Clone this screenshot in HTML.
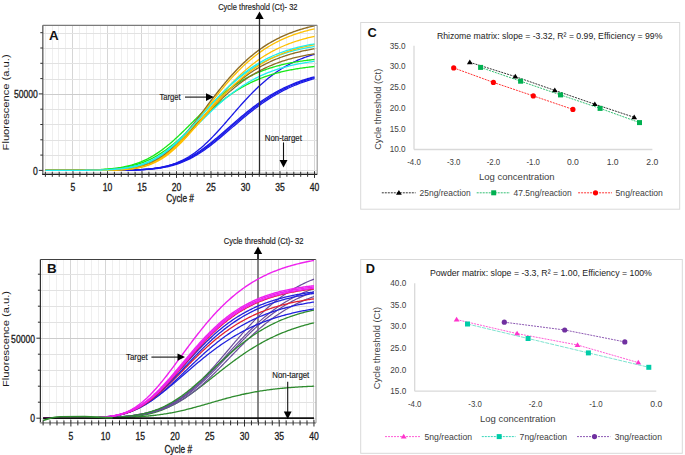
<!DOCTYPE html>
<html><head><meta charset="utf-8"><style>
html,body{margin:0;padding:0;background:#fff;width:685px;height:455px;overflow:hidden}
svg{display:block}
</style></head><body>
<svg width="685" height="455" viewBox="0 0 685 455">
<rect width="685" height="455" fill="#fff"/>
<line x1="45.50" y1="25.30" x2="45.50" y2="172.90" stroke="#EFEFEF" stroke-width="1.00" />
<line x1="52.50" y1="25.30" x2="52.50" y2="172.90" stroke="#EFEFEF" stroke-width="1.00" />
<line x1="58.50" y1="25.30" x2="58.50" y2="172.90" stroke="#EFEFEF" stroke-width="1.00" />
<line x1="65.50" y1="25.30" x2="65.50" y2="172.90" stroke="#EFEFEF" stroke-width="1.00" />
<line x1="72.50" y1="25.30" x2="72.50" y2="172.90" stroke="#D6D6D6" stroke-width="1.00" />
<line x1="79.50" y1="25.30" x2="79.50" y2="172.90" stroke="#EFEFEF" stroke-width="1.00" />
<line x1="86.50" y1="25.30" x2="86.50" y2="172.90" stroke="#EFEFEF" stroke-width="1.00" />
<line x1="93.50" y1="25.30" x2="93.50" y2="172.90" stroke="#EFEFEF" stroke-width="1.00" />
<line x1="100.50" y1="25.30" x2="100.50" y2="172.90" stroke="#EFEFEF" stroke-width="1.00" />
<line x1="107.50" y1="25.30" x2="107.50" y2="172.90" stroke="#D6D6D6" stroke-width="1.00" />
<line x1="114.50" y1="25.30" x2="114.50" y2="172.90" stroke="#EFEFEF" stroke-width="1.00" />
<line x1="121.50" y1="25.30" x2="121.50" y2="172.90" stroke="#EFEFEF" stroke-width="1.00" />
<line x1="127.50" y1="25.30" x2="127.50" y2="172.90" stroke="#EFEFEF" stroke-width="1.00" />
<line x1="134.50" y1="25.30" x2="134.50" y2="172.90" stroke="#EFEFEF" stroke-width="1.00" />
<line x1="141.50" y1="25.30" x2="141.50" y2="172.90" stroke="#D6D6D6" stroke-width="1.00" />
<line x1="148.50" y1="25.30" x2="148.50" y2="172.90" stroke="#EFEFEF" stroke-width="1.00" />
<line x1="155.50" y1="25.30" x2="155.50" y2="172.90" stroke="#EFEFEF" stroke-width="1.00" />
<line x1="162.50" y1="25.30" x2="162.50" y2="172.90" stroke="#EFEFEF" stroke-width="1.00" />
<line x1="169.50" y1="25.30" x2="169.50" y2="172.90" stroke="#EFEFEF" stroke-width="1.00" />
<line x1="176.50" y1="25.30" x2="176.50" y2="172.90" stroke="#D6D6D6" stroke-width="1.00" />
<line x1="183.50" y1="25.30" x2="183.50" y2="172.90" stroke="#EFEFEF" stroke-width="1.00" />
<line x1="190.50" y1="25.30" x2="190.50" y2="172.90" stroke="#EFEFEF" stroke-width="1.00" />
<line x1="196.50" y1="25.30" x2="196.50" y2="172.90" stroke="#EFEFEF" stroke-width="1.00" />
<line x1="203.50" y1="25.30" x2="203.50" y2="172.90" stroke="#EFEFEF" stroke-width="1.00" />
<line x1="210.50" y1="25.30" x2="210.50" y2="172.90" stroke="#D6D6D6" stroke-width="1.00" />
<line x1="217.50" y1="25.30" x2="217.50" y2="172.90" stroke="#EFEFEF" stroke-width="1.00" />
<line x1="224.50" y1="25.30" x2="224.50" y2="172.90" stroke="#EFEFEF" stroke-width="1.00" />
<line x1="231.50" y1="25.30" x2="231.50" y2="172.90" stroke="#EFEFEF" stroke-width="1.00" />
<line x1="238.50" y1="25.30" x2="238.50" y2="172.90" stroke="#EFEFEF" stroke-width="1.00" />
<line x1="245.50" y1="25.30" x2="245.50" y2="172.90" stroke="#D6D6D6" stroke-width="1.00" />
<line x1="252.50" y1="25.30" x2="252.50" y2="172.90" stroke="#EFEFEF" stroke-width="1.00" />
<line x1="259.50" y1="25.30" x2="259.50" y2="172.90" stroke="#EFEFEF" stroke-width="1.00" />
<line x1="265.50" y1="25.30" x2="265.50" y2="172.90" stroke="#EFEFEF" stroke-width="1.00" />
<line x1="272.50" y1="25.30" x2="272.50" y2="172.90" stroke="#EFEFEF" stroke-width="1.00" />
<line x1="279.50" y1="25.30" x2="279.50" y2="172.90" stroke="#D6D6D6" stroke-width="1.00" />
<line x1="286.50" y1="25.30" x2="286.50" y2="172.90" stroke="#EFEFEF" stroke-width="1.00" />
<line x1="293.50" y1="25.30" x2="293.50" y2="172.90" stroke="#EFEFEF" stroke-width="1.00" />
<line x1="300.50" y1="25.30" x2="300.50" y2="172.90" stroke="#EFEFEF" stroke-width="1.00" />
<line x1="307.50" y1="25.30" x2="307.50" y2="172.90" stroke="#EFEFEF" stroke-width="1.00" />
<line x1="314.50" y1="25.30" x2="314.50" y2="172.90" stroke="#D6D6D6" stroke-width="1.00" />
<line x1="42.80" y1="170.50" x2="317.20" y2="170.50" stroke="#E2E2E2" stroke-width="1.00" />
<line x1="42.80" y1="155.50" x2="317.20" y2="155.50" stroke="#E2E2E2" stroke-width="1.00" />
<line x1="42.80" y1="140.50" x2="317.20" y2="140.50" stroke="#E2E2E2" stroke-width="1.00" />
<line x1="42.80" y1="124.50" x2="317.20" y2="124.50" stroke="#E2E2E2" stroke-width="1.00" />
<line x1="42.80" y1="109.50" x2="317.20" y2="109.50" stroke="#E2E2E2" stroke-width="1.00" />
<line x1="42.80" y1="94.50" x2="317.20" y2="94.50" stroke="#CCCCCC" stroke-width="1.00" />
<line x1="42.80" y1="79.50" x2="317.20" y2="79.50" stroke="#E2E2E2" stroke-width="1.00" />
<line x1="42.80" y1="63.50" x2="317.20" y2="63.50" stroke="#E2E2E2" stroke-width="1.00" />
<line x1="42.80" y1="48.50" x2="317.20" y2="48.50" stroke="#E2E2E2" stroke-width="1.00" />
<line x1="42.80" y1="33.50" x2="317.20" y2="33.50" stroke="#E2E2E2" stroke-width="1.00" />
<path d="M45.40 170.40L46.55 170.40L47.70 170.40L48.85 170.40L50.00 170.40L51.15 170.40L52.30 170.40L53.45 170.40L54.60 170.40L55.75 170.40L56.90 170.40L58.05 170.40L59.20 170.40L60.35 170.40L61.50 170.40L62.65 170.40L63.80 170.40L64.95 170.40L66.10 170.40L67.25 170.40L68.40 170.40L69.55 170.40L70.70 170.40L71.85 170.40L73.00 170.40L74.15 170.40L75.30 170.40L76.45 170.40L77.60 170.40L78.75 170.40L79.90 170.40L81.05 170.40L82.20 170.40L83.35 170.40L84.50 170.40L85.65 170.40L86.80 170.39L87.95 170.39L89.10 170.39L90.25 170.39L91.40 170.39L92.55 170.39L93.70 170.39L94.85 170.39L96.00 170.39L97.15 170.39L98.30 170.38L99.45 170.38L100.60 170.38L101.75 170.38L102.90 170.37L104.05 170.37L105.20 170.37L106.35 170.36L107.50 170.36L108.65 170.36L109.80 170.35L110.95 170.35L112.10 170.34L113.25 170.33L114.40 170.32L115.55 170.32L116.70 170.31L117.85 170.30L119.00 170.29L120.15 170.28L121.30 170.26L122.45 170.25L123.60 170.23L124.75 170.21L125.90 170.20L127.05 170.17L128.20 170.15L129.35 170.13L130.50 170.10L131.65 170.07L132.80 170.04L133.95 170.00L135.10 169.97L136.25 169.93L137.40 169.88L138.55 169.83L139.70 169.78L140.85 169.72L142.00 169.66L143.15 169.60L144.30 169.52L145.45 169.45L146.60 169.36L147.75 169.28L148.90 169.18L150.05 169.08L151.20 168.97L152.35 168.85L153.50 168.72L154.65 168.59L155.80 168.44L156.95 168.29L158.10 168.13L159.25 167.95L160.40 167.77L161.55 167.57L162.70 167.36L163.85 167.14L165.00 166.91L166.15 166.66L167.30 166.40L168.45 166.13L169.60 165.84L170.75 165.54L171.90 165.22L173.05 164.88L174.20 164.53L175.35 164.16L176.50 163.78L177.65 163.37L178.80 162.95L179.95 162.52L181.10 162.06L182.25 161.59L183.40 161.09L184.55 160.58L185.70 160.05L186.85 159.50L188.00 158.93L189.15 158.35L190.30 157.74L191.45 157.12L192.60 156.47L193.75 155.81L194.90 155.13L196.05 154.43L197.20 153.71L198.35 152.98L199.50 152.23L200.65 151.46L201.80 150.67L202.95 149.87L204.10 149.06L205.25 148.22L206.40 147.38L207.55 146.52L208.70 145.64L209.85 144.75L211.00 143.85L212.15 142.94L213.30 142.02L214.45 141.09L215.60 140.15L216.75 139.19L217.90 138.23L219.05 137.27L220.20 136.29L221.35 135.31L222.50 134.33L223.65 133.34L224.80 132.35L225.95 131.35L227.10 130.35L228.25 129.35L229.40 128.35L230.55 127.35L231.70 126.35L232.85 125.35L234.00 124.35L235.15 123.36L236.30 122.36L237.45 121.38L238.60 120.39L239.75 119.41L240.90 118.44L242.05 117.47L243.20 116.51L244.35 115.55L245.50 114.60L246.65 113.66L247.80 112.73L248.95 111.81L250.10 110.89L251.25 109.99L252.40 109.09L253.55 108.21L254.70 107.33L255.85 106.47L257.00 105.61L258.15 104.77L259.30 103.94L260.45 103.12L261.60 102.31L262.75 101.51L263.90 100.73L265.05 99.95L266.20 99.19L267.35 98.44L268.50 97.70L269.65 96.98L270.80 96.27L271.95 95.57L273.10 94.88L274.25 94.20L275.40 93.54L276.55 92.88L277.70 92.24L278.85 91.62L280.00 91.00L281.15 90.40L282.30 89.80L283.45 89.22L284.60 88.65L285.75 88.10L286.90 87.55L288.05 87.02L289.20 86.49L290.35 85.98L291.50 85.48L292.65 84.99L293.80 84.51L294.95 84.04L296.10 83.58L297.25 83.13L298.40 82.70L299.55 82.27L300.70 81.85L301.85 81.44L303.00 81.04L304.15 80.65L305.30 80.27L306.45 79.90L307.60 79.53L308.75 79.18L309.90 78.83L311.05 78.49L312.20 78.16L313.35 77.84L314.50 77.53" fill="none" stroke="#1A1AE6" stroke-width="1.30" stroke-linejoin="round"/>
<path d="M45.40 170.40L46.55 170.40L47.70 170.40L48.85 170.40L50.00 170.40L51.15 170.40L52.30 170.40L53.45 170.40L54.60 170.40L55.75 170.40L56.90 170.40L58.05 170.40L59.20 170.40L60.35 170.40L61.50 170.40L62.65 170.40L63.80 170.40L64.95 170.40L66.10 170.40L67.25 170.40L68.40 170.40L69.55 170.40L70.70 170.40L71.85 170.40L73.00 170.40L74.15 170.40L75.30 170.40L76.45 170.40L77.60 170.40L78.75 170.40L79.90 170.40L81.05 170.40L82.20 170.40L83.35 170.40L84.50 170.40L85.65 170.40L86.80 170.40L87.95 170.39L89.10 170.39L90.25 170.39L91.40 170.39L92.55 170.39L93.70 170.39L94.85 170.39L96.00 170.39L97.15 170.39L98.30 170.39L99.45 170.38L100.60 170.38L101.75 170.38L102.90 170.38L104.05 170.37L105.20 170.37L106.35 170.37L107.50 170.37L108.65 170.36L109.80 170.36L110.95 170.35L112.10 170.35L113.25 170.34L114.40 170.33L115.55 170.33L116.70 170.32L117.85 170.31L119.00 170.30L120.15 170.29L121.30 170.28L122.45 170.27L123.60 170.25L124.75 170.24L125.90 170.22L127.05 170.20L128.20 170.18L129.35 170.16L130.50 170.13L131.65 170.11L132.80 170.08L133.95 170.05L135.10 170.01L136.25 169.98L137.40 169.94L138.55 169.89L139.70 169.85L140.85 169.80L142.00 169.74L143.15 169.68L144.30 169.62L145.45 169.55L146.60 169.47L147.75 169.39L148.90 169.30L150.05 169.21L151.20 169.11L152.35 169.00L153.50 168.88L154.65 168.76L155.80 168.63L156.95 168.49L158.10 168.34L159.25 168.18L160.40 168.01L161.55 167.83L162.70 167.63L163.85 167.43L165.00 167.21L166.15 166.98L167.30 166.74L168.45 166.49L169.60 166.22L170.75 165.93L171.90 165.63L173.05 165.32L174.20 164.99L175.35 164.64L176.50 164.28L177.65 163.90L178.80 163.51L179.95 163.09L181.10 162.66L182.25 162.21L183.40 161.75L184.55 161.26L185.70 160.76L186.85 160.23L188.00 159.69L189.15 159.13L190.30 158.55L191.45 157.96L192.60 157.34L193.75 156.71L194.90 156.05L196.05 155.38L197.20 154.69L198.35 153.98L199.50 153.26L200.65 152.51L201.80 151.76L202.95 150.98L204.10 150.19L205.25 149.38L206.40 148.56L207.55 147.72L208.70 146.87L209.85 146.00L211.00 145.12L212.15 144.23L213.30 143.33L214.45 142.42L215.60 141.49L216.75 140.56L217.90 139.62L219.05 138.67L220.20 137.71L221.35 136.74L222.50 135.77L223.65 134.80L224.80 133.82L225.95 132.83L227.10 131.84L228.25 130.85L229.40 129.86L230.55 128.87L231.70 127.87L232.85 126.88L234.00 125.89L235.15 124.90L236.30 123.91L237.45 122.92L238.60 121.94L239.75 120.96L240.90 119.99L242.05 119.02L243.20 118.06L244.35 117.10L245.50 116.15L246.65 115.21L247.80 114.28L248.95 113.35L250.10 112.43L251.25 111.52L252.40 110.62L253.55 109.73L254.70 108.85L255.85 107.98L257.00 107.12L258.15 106.27L259.30 105.43L260.45 104.60L261.60 103.79L262.75 102.98L263.90 102.19L265.05 101.40L266.20 100.63L267.35 99.88L268.50 99.13L269.65 98.40L270.80 97.67L271.95 96.96L273.10 96.26L274.25 95.58L275.40 94.90L276.55 94.24L277.70 93.59L278.85 92.96L280.00 92.33L281.15 91.72L282.30 91.11L283.45 90.52L284.60 89.95L285.75 89.38L286.90 88.82L288.05 88.28L289.20 87.75L290.35 87.23L291.50 86.72L292.65 86.22L293.80 85.73L294.95 85.25L296.10 84.78L297.25 84.32L298.40 83.88L299.55 83.44L300.70 83.01L301.85 82.59L303.00 82.19L304.15 81.79L305.30 81.40L306.45 81.02L307.60 80.65L308.75 80.29L309.90 79.93L311.05 79.59L312.20 79.25L313.35 78.92L314.50 78.60" fill="none" stroke="#1A1AE6" stroke-width="1.30" stroke-linejoin="round"/>
<path d="M45.40 170.40L46.55 170.40L47.70 170.40L48.85 170.40L50.00 170.40L51.15 170.40L52.30 170.40L53.45 170.40L54.60 170.40L55.75 170.40L56.90 170.40L58.05 170.40L59.20 170.40L60.35 170.40L61.50 170.40L62.65 170.40L63.80 170.40L64.95 170.40L66.10 170.40L67.25 170.40L68.40 170.40L69.55 170.40L70.70 170.40L71.85 170.40L73.00 170.40L74.15 170.40L75.30 170.40L76.45 170.40L77.60 170.40L78.75 170.40L79.90 170.40L81.05 170.40L82.20 170.40L83.35 170.40L84.50 170.40L85.65 170.39L86.80 170.39L87.95 170.39L89.10 170.39L90.25 170.39L91.40 170.39L92.55 170.39L93.70 170.39L94.85 170.39L96.00 170.38L97.15 170.38L98.30 170.38L99.45 170.38L100.60 170.38L101.75 170.37L102.90 170.37L104.05 170.37L105.20 170.36L106.35 170.36L107.50 170.35L108.65 170.35L109.80 170.34L110.95 170.34L112.10 170.33L113.25 170.32L114.40 170.31L115.55 170.31L116.70 170.30L117.85 170.28L119.00 170.27L120.15 170.26L121.30 170.24L122.45 170.23L123.60 170.21L124.75 170.19L125.90 170.17L127.05 170.15L128.20 170.12L129.35 170.09L130.50 170.06L131.65 170.03L132.80 170.00L133.95 169.96L135.10 169.91L136.25 169.87L137.40 169.82L138.55 169.77L139.70 169.71L140.85 169.65L142.00 169.58L143.15 169.51L144.30 169.43L145.45 169.34L146.60 169.25L147.75 169.15L148.90 169.05L150.05 168.94L151.20 168.82L152.35 168.69L153.50 168.55L154.65 168.41L155.80 168.25L156.95 168.08L158.10 167.91L159.25 167.72L160.40 167.52L161.55 167.31L162.70 167.08L163.85 166.85L165.00 166.60L166.15 166.33L167.30 166.05L168.45 165.76L169.60 165.45L170.75 165.13L171.90 164.79L173.05 164.43L174.20 164.06L175.35 163.67L176.50 163.26L177.65 162.84L178.80 162.39L179.95 161.93L181.10 161.45L182.25 160.95L183.40 160.43L184.55 159.90L185.70 159.34L186.85 158.77L188.00 158.17L189.15 157.56L190.30 156.93L191.45 156.28L192.60 155.61L193.75 154.93L194.90 154.22L196.05 153.50L197.20 152.76L198.35 152.00L199.50 151.22L200.65 150.43L201.80 149.62L202.95 148.80L204.10 147.96L205.25 147.11L206.40 146.24L207.55 145.36L208.70 144.46L209.85 143.56L211.00 142.64L212.15 141.71L213.30 140.77L214.45 139.83L215.60 138.87L216.75 137.90L217.90 136.93L219.05 135.95L220.20 134.97L221.35 133.98L222.50 132.98L223.65 131.99L224.80 130.98L225.95 129.98L227.10 128.98L228.25 127.97L229.40 126.97L230.55 125.96L231.70 124.96L232.85 123.96L234.00 122.96L235.15 121.96L236.30 120.97L237.45 119.98L238.60 119.00L239.75 118.02L240.90 117.05L242.05 116.08L243.20 115.13L244.35 114.18L245.50 113.23L246.65 112.30L247.80 111.37L248.95 110.46L250.10 109.55L251.25 108.65L252.40 107.77L253.55 106.89L254.70 106.02L255.85 105.17L257.00 104.32L258.15 103.49L259.30 102.67L260.45 101.86L261.60 101.06L262.75 100.27L263.90 99.50L265.05 98.74L266.20 97.99L267.35 97.25L268.50 96.52L269.65 95.81L270.80 95.11L271.95 94.42L273.10 93.74L274.25 93.08L275.40 92.42L276.55 91.78L277.70 91.15L278.85 90.54L280.00 89.93L281.15 89.34L282.30 88.76L283.45 88.19L284.60 87.63L285.75 87.09L286.90 86.55L288.05 86.03L289.20 85.52L290.35 85.02L291.50 84.53L292.65 84.05L293.80 83.58L294.95 83.12L296.10 82.67L297.25 82.23L298.40 81.81L299.55 81.39L300.70 80.98L301.85 80.58L303.00 80.19L304.15 79.81L305.30 79.44L306.45 79.07L307.60 78.72L308.75 78.37L309.90 78.03L311.05 77.70L312.20 77.38L313.35 77.07L314.50 76.76" fill="none" stroke="#1A1AE6" stroke-width="1.30" stroke-linejoin="round"/>
<path d="M45.40 170.40L46.55 170.40L47.70 170.40L48.85 170.40L50.00 170.40L51.15 170.40L52.30 170.40L53.45 170.40L54.60 170.40L55.75 170.40L56.90 170.40L58.05 170.40L59.20 170.40L60.35 170.40L61.50 170.40L62.65 170.40L63.80 170.40L64.95 170.40L66.10 170.40L67.25 170.40L68.40 170.40L69.55 170.40L70.70 170.40L71.85 170.40L73.00 170.40L74.15 170.39L75.30 170.39L76.45 170.39L77.60 170.39L78.75 170.39L79.90 170.39L81.05 170.39L82.20 170.39L83.35 170.39L84.50 170.39L85.65 170.39L86.80 170.38L87.95 170.38L89.10 170.38L90.25 170.38L91.40 170.38L92.55 170.38L93.70 170.37L94.85 170.37L96.00 170.37L97.15 170.37L98.30 170.36L99.45 170.36L100.60 170.35L101.75 170.35L102.90 170.35L104.05 170.34L105.20 170.34L106.35 170.33L107.50 170.32L108.65 170.32L109.80 170.31L110.95 170.30L112.10 170.29L113.25 170.28L114.40 170.27L115.55 170.26L116.70 170.25L117.85 170.23L119.00 170.22L120.15 170.20L121.30 170.18L122.45 170.16L123.60 170.14L124.75 170.12L125.90 170.10L127.05 170.07L128.20 170.04L129.35 170.01L130.50 169.98L131.65 169.94L132.80 169.90L133.95 169.86L135.10 169.82L136.25 169.77L137.40 169.72L138.55 169.66L139.70 169.60L140.85 169.53L142.00 169.46L143.15 169.39L144.30 169.31L145.45 169.22L146.60 169.13L147.75 169.03L148.90 168.92L150.05 168.80L151.20 168.68L152.35 168.55L153.50 168.41L154.65 168.26L155.80 168.10L156.95 167.93L158.10 167.75L159.25 167.56L160.40 167.35L161.55 167.14L162.70 166.91L163.85 166.66L165.00 166.40L166.15 166.13L167.30 165.84L168.45 165.53L169.60 165.21L170.75 164.87L171.90 164.51L173.05 164.13L174.20 163.73L175.35 163.32L176.50 162.88L177.65 162.42L178.80 161.94L179.95 161.43L181.10 160.91L182.25 160.36L183.40 159.78L184.55 159.19L185.70 158.56L186.85 157.92L188.00 157.24L189.15 156.55L190.30 155.82L191.45 155.07L192.60 154.30L193.75 153.50L194.90 152.67L196.05 151.82L197.20 150.94L198.35 150.04L199.50 149.11L200.65 148.15L201.80 147.18L202.95 146.17L204.10 145.15L205.25 144.10L206.40 143.03L207.55 141.93L208.70 140.82L209.85 139.69L211.00 138.53L212.15 137.36L213.30 136.17L214.45 134.96L215.60 133.74L216.75 132.50L217.90 131.25L219.05 129.99L220.20 128.71L221.35 127.42L222.50 126.13L223.65 124.83L224.80 123.52L225.95 122.20L227.10 120.88L228.25 119.55L229.40 118.23L230.55 116.90L231.70 115.57L232.85 114.24L234.00 112.91L235.15 111.59L236.30 110.27L237.45 108.96L238.60 107.65L239.75 106.35L240.90 105.05L242.05 103.77L243.20 102.49L244.35 101.23L245.50 99.98L246.65 98.73L247.80 97.50L248.95 96.29L250.10 95.08L251.25 93.90L252.40 92.72L253.55 91.56L254.70 90.42L255.85 89.30L257.00 88.19L258.15 87.09L259.30 86.02L260.45 84.96L261.60 83.92L262.75 82.90L263.90 81.89L265.05 80.91L266.20 79.94L267.35 78.99L268.50 78.06L269.65 77.14L270.80 76.25L271.95 75.37L273.10 74.51L274.25 73.68L275.40 72.85L276.55 72.05L277.70 71.26L278.85 70.50L280.00 69.75L281.15 69.01L282.30 68.30L283.45 67.60L284.60 66.92L285.75 66.25L286.90 65.60L288.05 64.97L289.20 64.35L290.35 63.75L291.50 63.17L292.65 62.60L293.80 62.04L294.95 61.50L296.10 60.97L297.25 60.46L298.40 59.96L299.55 59.48L300.70 59.01L301.85 58.55L303.00 58.10L304.15 57.67L305.30 57.24L306.45 56.83L307.60 56.44L308.75 56.05L309.90 55.67L311.05 55.31L312.20 54.95L313.35 54.61L314.50 54.27" fill="none" stroke="#1A1AE6" stroke-width="1.30" stroke-linejoin="round"/>
<path d="M45.40 170.40L46.55 170.40L47.70 170.40L48.85 170.40L50.00 170.39L51.15 170.39L52.30 170.39L53.45 170.39L54.60 170.39L55.75 170.38L56.90 170.38L58.05 170.38L59.20 170.37L60.35 170.37L61.50 170.37L62.65 170.36L63.80 170.36L64.95 170.35L66.10 170.35L67.25 170.34L68.40 170.34L69.55 170.33L70.70 170.32L71.85 170.31L73.00 170.31L74.15 170.30L75.30 170.29L76.45 170.28L77.60 170.26L78.75 170.25L79.90 170.24L81.05 170.22L82.20 170.21L83.35 170.19L84.50 170.17L85.65 170.15L86.80 170.13L87.95 170.11L89.10 170.08L90.25 170.05L91.40 170.02L92.55 169.99L93.70 169.96L94.85 169.92L96.00 169.88L97.15 169.84L98.30 169.80L99.45 169.75L100.60 169.70L101.75 169.64L102.90 169.58L104.05 169.52L105.20 169.45L106.35 169.38L107.50 169.30L108.65 169.21L109.80 169.13L110.95 169.03L112.10 168.93L113.25 168.82L114.40 168.71L115.55 168.58L116.70 168.45L117.85 168.32L119.00 168.17L120.15 168.01L121.30 167.85L122.45 167.67L123.60 167.49L124.75 167.29L125.90 167.09L127.05 166.87L128.20 166.64L129.35 166.39L130.50 166.14L131.65 165.87L132.80 165.58L133.95 165.29L135.10 164.97L136.25 164.64L137.40 164.30L138.55 163.94L139.70 163.56L140.85 163.17L142.00 162.76L143.15 162.33L144.30 161.88L145.45 161.42L146.60 160.93L147.75 160.43L148.90 159.91L150.05 159.36L151.20 158.80L152.35 158.22L153.50 157.62L154.65 157.00L155.80 156.35L156.95 155.69L158.10 155.01L159.25 154.31L160.40 153.59L161.55 152.84L162.70 152.08L163.85 151.30L165.00 150.50L166.15 149.68L167.30 148.85L168.45 147.99L169.60 147.12L170.75 146.23L171.90 145.33L173.05 144.40L174.20 143.47L175.35 142.52L176.50 141.55L177.65 140.57L178.80 139.58L179.95 138.58L181.10 137.57L182.25 136.54L183.40 135.51L184.55 134.47L185.70 133.42L186.85 132.36L188.00 131.30L189.15 130.23L190.30 129.16L191.45 128.09L192.60 127.01L193.75 125.93L194.90 124.85L196.05 123.77L197.20 122.69L198.35 121.61L199.50 120.53L200.65 119.46L201.80 118.39L202.95 117.32L204.10 116.26L205.25 115.21L206.40 114.16L207.55 113.12L208.70 112.09L209.85 111.06L211.00 110.05L212.15 109.04L213.30 108.04L214.45 107.06L215.60 106.08L216.75 105.12L217.90 104.17L219.05 103.23L220.20 102.30L221.35 101.38L222.50 100.48L223.65 99.59L224.80 98.71L225.95 97.85L227.10 97.00L228.25 96.17L229.40 95.35L230.55 94.54L231.70 93.75L232.85 92.97L234.00 92.20L235.15 91.45L236.30 90.72L237.45 90.00L238.60 89.29L239.75 88.60L240.90 87.92L242.05 87.25L243.20 86.60L244.35 85.97L245.50 85.34L246.65 84.74L247.80 84.14L248.95 83.56L250.10 82.99L251.25 82.43L252.40 81.89L253.55 81.36L254.70 80.84L255.85 80.34L257.00 79.84L258.15 79.36L259.30 78.89L260.45 78.44L261.60 77.99L262.75 77.56L263.90 77.13L265.05 76.72L266.20 76.32L267.35 75.93L268.50 75.54L269.65 75.17L270.80 74.81L271.95 74.46L273.10 74.12L274.25 73.78L275.40 73.46L276.55 73.14L277.70 72.84L278.85 72.54L280.00 72.25L281.15 71.97L282.30 71.69L283.45 71.42L284.60 71.17L285.75 70.91L286.90 70.67L288.05 70.43L289.20 70.20L290.35 69.98L291.50 69.76L292.65 69.55L293.80 69.34L294.95 69.14L296.10 68.95L297.25 68.76L298.40 68.57L299.55 68.40L300.70 68.22L301.85 68.06L303.00 67.89L304.15 67.74L305.30 67.58L306.45 67.44L307.60 67.29L308.75 67.15L309.90 67.02L311.05 66.88L312.20 66.76L313.35 66.63L314.50 66.51" fill="none" stroke="#18E818" stroke-width="1.30" stroke-linejoin="round"/>
<path d="M45.40 170.40L46.55 170.40L47.70 170.40L48.85 170.40L50.00 170.40L51.15 170.39L52.30 170.39L53.45 170.39L54.60 170.39L55.75 170.39L56.90 170.39L58.05 170.39L59.20 170.38L60.35 170.38L61.50 170.38L62.65 170.38L63.80 170.37L64.95 170.37L66.10 170.37L67.25 170.36L68.40 170.36L69.55 170.35L70.70 170.35L71.85 170.34L73.00 170.34L74.15 170.33L75.30 170.32L76.45 170.32L77.60 170.31L78.75 170.30L79.90 170.29L81.05 170.28L82.20 170.27L83.35 170.26L84.50 170.25L85.65 170.23L86.80 170.22L87.95 170.20L89.10 170.19L90.25 170.17L91.40 170.15L92.55 170.12L93.70 170.10L94.85 170.08L96.00 170.05L97.15 170.02L98.30 169.99L99.45 169.95L100.60 169.92L101.75 169.88L102.90 169.84L104.05 169.79L105.20 169.74L106.35 169.69L107.50 169.63L108.65 169.57L109.80 169.51L110.95 169.44L112.10 169.36L113.25 169.28L114.40 169.20L115.55 169.11L116.70 169.01L117.85 168.90L119.00 168.79L120.15 168.67L121.30 168.55L122.45 168.41L123.60 168.27L124.75 168.11L125.90 167.95L127.05 167.78L128.20 167.59L129.35 167.40L130.50 167.19L131.65 166.97L132.80 166.74L133.95 166.49L135.10 166.23L136.25 165.96L137.40 165.67L138.55 165.37L139.70 165.05L140.85 164.71L142.00 164.35L143.15 163.98L144.30 163.59L145.45 163.18L146.60 162.76L147.75 162.31L148.90 161.84L150.05 161.36L151.20 160.85L152.35 160.32L153.50 159.77L154.65 159.20L155.80 158.61L156.95 158.00L158.10 157.36L159.25 156.70L160.40 156.03L161.55 155.32L162.70 154.60L163.85 153.86L165.00 153.09L166.15 152.31L167.30 151.50L168.45 150.67L169.60 149.82L170.75 148.95L171.90 148.06L173.05 147.16L174.20 146.23L175.35 145.29L176.50 144.33L177.65 143.35L178.80 142.36L179.95 141.35L181.10 140.33L182.25 139.29L183.40 138.24L184.55 137.18L185.70 136.11L186.85 135.03L188.00 133.93L189.15 132.83L190.30 131.73L191.45 130.61L192.60 129.49L193.75 128.37L194.90 127.24L196.05 126.11L197.20 124.97L198.35 123.84L199.50 122.70L200.65 121.56L201.80 120.43L202.95 119.30L204.10 118.17L205.25 117.04L206.40 115.92L207.55 114.80L208.70 113.69L209.85 112.59L211.00 111.49L212.15 110.40L213.30 109.32L214.45 108.25L215.60 107.18L216.75 106.13L217.90 105.09L219.05 104.05L220.20 103.03L221.35 102.03L222.50 101.03L223.65 100.04L224.80 99.07L225.95 98.11L227.10 97.17L228.25 96.24L229.40 95.32L230.55 94.41L231.70 93.52L232.85 92.65L234.00 91.79L235.15 90.94L236.30 90.11L237.45 89.29L238.60 88.48L239.75 87.70L240.90 86.92L242.05 86.16L243.20 85.42L244.35 84.68L245.50 83.97L246.65 83.26L247.80 82.58L248.95 81.90L250.10 81.24L251.25 80.60L252.40 79.96L253.55 79.35L254.70 78.74L255.85 78.15L257.00 77.57L258.15 77.01L259.30 76.45L260.45 75.91L261.60 75.39L262.75 74.87L263.90 74.37L265.05 73.88L266.20 73.40L267.35 72.93L268.50 72.47L269.65 72.03L270.80 71.59L271.95 71.17L273.10 70.76L274.25 70.35L275.40 69.96L276.55 69.58L277.70 69.20L278.85 68.84L280.00 68.49L281.15 68.14L282.30 67.81L283.45 67.48L284.60 67.16L285.75 66.85L286.90 66.55L288.05 66.25L289.20 65.97L290.35 65.69L291.50 65.42L292.65 65.15L293.80 64.90L294.95 64.65L296.10 64.40L297.25 64.17L298.40 63.94L299.55 63.71L300.70 63.50L301.85 63.28L303.00 63.08L304.15 62.88L305.30 62.68L306.45 62.49L307.60 62.31L308.75 62.13L309.90 61.96L311.05 61.79L312.20 61.63L313.35 61.47L314.50 61.31" fill="none" stroke="#22EEEE" stroke-width="1.30" stroke-linejoin="round"/>
<path d="M45.40 170.40L46.55 170.40L47.70 170.40L48.85 170.39L50.00 170.39L51.15 170.39L52.30 170.39L53.45 170.39L54.60 170.38L55.75 170.38L56.90 170.38L58.05 170.37L59.20 170.37L60.35 170.36L61.50 170.36L62.65 170.35L63.80 170.35L64.95 170.34L66.10 170.34L67.25 170.33L68.40 170.32L69.55 170.31L70.70 170.30L71.85 170.29L73.00 170.28L74.15 170.27L75.30 170.26L76.45 170.25L77.60 170.23L78.75 170.22L79.90 170.20L81.05 170.18L82.20 170.16L83.35 170.14L84.50 170.12L85.65 170.09L86.80 170.07L87.95 170.04L89.10 170.01L90.25 169.98L91.40 169.94L92.55 169.90L93.70 169.86L94.85 169.82L96.00 169.77L97.15 169.72L98.30 169.66L99.45 169.61L100.60 169.54L101.75 169.48L102.90 169.40L104.05 169.33L105.20 169.24L106.35 169.16L107.50 169.06L108.65 168.96L109.80 168.86L110.95 168.74L112.10 168.62L113.25 168.49L114.40 168.36L115.55 168.21L116.70 168.06L117.85 167.89L119.00 167.72L120.15 167.53L121.30 167.34L122.45 167.13L123.60 166.92L124.75 166.68L125.90 166.44L127.05 166.19L128.20 165.92L129.35 165.63L130.50 165.33L131.65 165.02L132.80 164.69L133.95 164.34L135.10 163.98L136.25 163.60L137.40 163.20L138.55 162.78L139.70 162.35L140.85 161.90L142.00 161.42L143.15 160.93L144.30 160.42L145.45 159.89L146.60 159.33L147.75 158.76L148.90 158.16L150.05 157.55L151.20 156.91L152.35 156.25L153.50 155.57L154.65 154.87L155.80 154.15L156.95 153.41L158.10 152.64L159.25 151.85L160.40 151.05L161.55 150.22L162.70 149.37L163.85 148.50L165.00 147.61L166.15 146.71L167.30 145.78L168.45 144.84L169.60 143.88L170.75 142.90L171.90 141.90L173.05 140.89L174.20 139.87L175.35 138.83L176.50 137.78L177.65 136.71L178.80 135.63L179.95 134.54L181.10 133.44L182.25 132.34L183.40 131.22L184.55 130.10L185.70 128.96L186.85 127.83L188.00 126.69L189.15 125.54L190.30 124.39L191.45 123.24L192.60 122.09L193.75 120.94L194.90 119.79L196.05 118.64L197.20 117.49L198.35 116.34L199.50 115.20L200.65 114.07L201.80 112.94L202.95 111.81L204.10 110.69L205.25 109.58L206.40 108.48L207.55 107.39L208.70 106.30L209.85 105.23L211.00 104.16L212.15 103.11L213.30 102.07L214.45 101.04L215.60 100.02L216.75 99.02L217.90 98.03L219.05 97.05L220.20 96.08L221.35 95.13L222.50 94.20L223.65 93.27L224.80 92.37L225.95 91.47L227.10 90.60L228.25 89.73L229.40 88.89L230.55 88.05L231.70 87.24L232.85 86.43L234.00 85.65L235.15 84.87L236.30 84.12L237.45 83.38L238.60 82.65L239.75 81.94L240.90 81.24L242.05 80.56L243.20 79.89L244.35 79.24L245.50 78.61L246.65 77.98L247.80 77.37L248.95 76.78L250.10 76.20L251.25 75.63L252.40 75.07L253.55 74.53L254.70 74.01L255.85 73.49L257.00 72.99L258.15 72.50L259.30 72.02L260.45 71.56L261.60 71.10L262.75 70.66L263.90 70.23L265.05 69.81L266.20 69.40L267.35 69.00L268.50 68.62L269.65 68.24L270.80 67.87L271.95 67.51L273.10 67.17L274.25 66.83L275.40 66.50L276.55 66.18L277.70 65.87L278.85 65.57L280.00 65.27L281.15 64.99L282.30 64.71L283.45 64.44L284.60 64.18L285.75 63.92L286.90 63.67L288.05 63.43L289.20 63.20L290.35 62.97L291.50 62.75L292.65 62.54L293.80 62.33L294.95 62.13L296.10 61.93L297.25 61.74L298.40 61.56L299.55 61.38L300.70 61.20L301.85 61.03L303.00 60.87L304.15 60.71L305.30 60.56L306.45 60.41L307.60 60.26L308.75 60.12L309.90 59.98L311.05 59.85L312.20 59.72L313.35 59.60L314.50 59.47" fill="none" stroke="#18E818" stroke-width="1.30" stroke-linejoin="round"/>
<path d="M45.40 170.40L46.55 170.40L47.70 170.40L48.85 170.40L50.00 170.40L51.15 170.40L52.30 170.40L53.45 170.39L54.60 170.39L55.75 170.39L56.90 170.39L58.05 170.39L59.20 170.39L60.35 170.39L61.50 170.38L62.65 170.38L63.80 170.38L64.95 170.38L66.10 170.37L67.25 170.37L68.40 170.37L69.55 170.36L70.70 170.36L71.85 170.36L73.00 170.35L74.15 170.35L75.30 170.34L76.45 170.34L77.60 170.33L78.75 170.32L79.90 170.32L81.05 170.31L82.20 170.30L83.35 170.29L84.50 170.28L85.65 170.27L86.80 170.26L87.95 170.25L89.10 170.24L90.25 170.22L91.40 170.20L92.55 170.19L93.70 170.17L94.85 170.15L96.00 170.13L97.15 170.10L98.30 170.08L99.45 170.05L100.60 170.02L101.75 169.99L102.90 169.96L104.05 169.92L105.20 169.88L106.35 169.84L107.50 169.79L108.65 169.74L109.80 169.68L110.95 169.62L112.10 169.56L113.25 169.49L114.40 169.42L115.55 169.34L116.70 169.26L117.85 169.17L119.00 169.07L120.15 168.96L121.30 168.85L122.45 168.73L123.60 168.60L124.75 168.46L125.90 168.32L127.05 168.16L128.20 167.99L129.35 167.81L130.50 167.62L131.65 167.42L132.80 167.20L133.95 166.97L135.10 166.73L136.25 166.47L137.40 166.20L138.55 165.91L139.70 165.60L140.85 165.28L142.00 164.93L143.15 164.57L144.30 164.19L145.45 163.80L146.60 163.38L147.75 162.94L148.90 162.48L150.05 161.99L151.20 161.49L152.35 160.96L153.50 160.42L154.65 159.84L155.80 159.25L156.95 158.63L158.10 157.99L159.25 157.32L160.40 156.63L161.55 155.91L162.70 155.18L163.85 154.41L165.00 153.63L166.15 152.82L167.30 151.98L168.45 151.13L169.60 150.25L170.75 149.35L171.90 148.43L173.05 147.48L174.20 146.52L175.35 145.53L176.50 144.53L177.65 143.50L178.80 142.46L179.95 141.40L181.10 140.32L182.25 139.23L183.40 138.12L184.55 137.00L185.70 135.87L186.85 134.72L188.00 133.56L189.15 132.40L190.30 131.22L191.45 130.03L192.60 128.84L193.75 127.64L194.90 126.43L196.05 125.22L197.20 124.01L198.35 122.79L199.50 121.57L200.65 120.35L201.80 119.13L202.95 117.91L204.10 116.70L205.25 115.48L206.40 114.28L207.55 113.07L208.70 111.87L209.85 110.67L211.00 109.49L212.15 108.31L213.30 107.13L214.45 105.97L215.60 104.82L216.75 103.67L217.90 102.54L219.05 101.41L220.20 100.30L221.35 99.20L222.50 98.11L223.65 97.04L224.80 95.98L225.95 94.93L227.10 93.89L228.25 92.87L229.40 91.87L230.55 90.87L231.70 89.90L232.85 88.93L234.00 87.99L235.15 87.05L236.30 86.14L237.45 85.23L238.60 84.35L239.75 83.48L240.90 82.62L242.05 81.78L243.20 80.95L244.35 80.14L245.50 79.35L246.65 78.57L247.80 77.81L248.95 77.06L250.10 76.32L251.25 75.61L252.40 74.90L253.55 74.21L254.70 73.54L255.85 72.88L257.00 72.23L258.15 71.60L259.30 70.98L260.45 70.38L261.60 69.79L262.75 69.21L263.90 68.65L265.05 68.09L266.20 67.56L267.35 67.03L268.50 66.52L269.65 66.01L270.80 65.53L271.95 65.05L273.10 64.58L274.25 64.13L275.40 63.68L276.55 63.25L277.70 62.83L278.85 62.42L280.00 62.02L281.15 61.63L282.30 61.24L283.45 60.87L284.60 60.51L285.75 60.16L286.90 59.81L288.05 59.48L289.20 59.15L290.35 58.84L291.50 58.53L292.65 58.23L293.80 57.93L294.95 57.65L296.10 57.37L297.25 57.10L298.40 56.83L299.55 56.58L300.70 56.33L301.85 56.09L303.00 55.85L304.15 55.62L305.30 55.40L306.45 55.18L307.60 54.97L308.75 54.76L309.90 54.56L311.05 54.37L312.20 54.18L313.35 53.99L314.50 53.81" fill="none" stroke="#8F6D24" stroke-width="1.30" stroke-linejoin="round"/>
<path d="M45.40 170.40L46.55 170.40L47.70 170.40L48.85 170.40L50.00 170.40L51.15 170.40L52.30 170.40L53.45 170.40L54.60 170.39L55.75 170.39L56.90 170.39L58.05 170.39L59.20 170.39L60.35 170.39L61.50 170.39L62.65 170.39L63.80 170.38L64.95 170.38L66.10 170.38L67.25 170.38L68.40 170.37L69.55 170.37L70.70 170.37L71.85 170.37L73.00 170.36L74.15 170.36L75.30 170.35L76.45 170.35L77.60 170.35L78.75 170.34L79.90 170.33L81.05 170.33L82.20 170.32L83.35 170.31L84.50 170.31L85.65 170.30L86.80 170.29L87.95 170.28L89.10 170.27L90.25 170.26L91.40 170.24L92.55 170.23L93.70 170.21L94.85 170.20L96.00 170.18L97.15 170.16L98.30 170.14L99.45 170.12L100.60 170.09L101.75 170.06L102.90 170.03L104.05 170.00L105.20 169.97L106.35 169.93L107.50 169.89L108.65 169.85L109.80 169.80L110.95 169.75L112.10 169.69L113.25 169.63L114.40 169.57L115.55 169.50L116.70 169.42L117.85 169.34L119.00 169.25L120.15 169.16L121.30 169.05L122.45 168.94L123.60 168.83L124.75 168.70L125.90 168.56L127.05 168.42L128.20 168.26L129.35 168.09L130.50 167.91L131.65 167.72L132.80 167.52L133.95 167.30L135.10 167.07L136.25 166.82L137.40 166.56L138.55 166.28L139.70 165.98L140.85 165.67L142.00 165.34L143.15 164.99L144.30 164.62L145.45 164.23L146.60 163.81L147.75 163.38L148.90 162.93L150.05 162.45L151.20 161.95L152.35 161.43L153.50 160.88L154.65 160.31L155.80 159.72L156.95 159.10L158.10 158.45L159.25 157.78L160.40 157.09L161.55 156.37L162.70 155.62L163.85 154.85L165.00 154.05L166.15 153.23L167.30 152.39L168.45 151.51L169.60 150.62L170.75 149.70L171.90 148.76L173.05 147.79L174.20 146.80L175.35 145.79L176.50 144.76L177.65 143.70L178.80 142.63L179.95 141.54L181.10 140.43L182.25 139.30L183.40 138.16L184.55 137.00L185.70 135.82L186.85 134.63L188.00 133.43L189.15 132.22L190.30 131.00L191.45 129.76L192.60 128.52L193.75 127.27L194.90 126.01L196.05 124.75L197.20 123.48L198.35 122.21L199.50 120.94L200.65 119.66L201.80 118.38L202.95 117.11L204.10 115.83L205.25 114.56L206.40 113.29L207.55 112.02L208.70 110.76L209.85 109.50L211.00 108.25L212.15 107.01L213.30 105.78L214.45 104.55L215.60 103.33L216.75 102.12L217.90 100.93L219.05 99.74L220.20 98.56L221.35 97.40L222.50 96.25L223.65 95.11L224.80 93.99L225.95 92.87L227.10 91.78L228.25 90.69L229.40 89.62L230.55 88.57L231.70 87.53L232.85 86.51L234.00 85.50L235.15 84.51L236.30 83.53L237.45 82.57L238.60 81.63L239.75 80.70L240.90 79.78L242.05 78.89L243.20 78.01L244.35 77.14L245.50 76.29L246.65 75.46L247.80 74.64L248.95 73.84L250.10 73.06L251.25 72.29L252.40 71.53L253.55 70.80L254.70 70.07L255.85 69.36L257.00 68.67L258.15 67.99L259.30 67.33L260.45 66.68L261.60 66.04L262.75 65.42L263.90 64.82L265.05 64.22L266.20 63.64L267.35 63.08L268.50 62.53L269.65 61.99L270.80 61.46L271.95 60.94L273.10 60.44L274.25 59.95L275.40 59.47L276.55 59.00L277.70 58.55L278.85 58.10L280.00 57.67L281.15 57.25L282.30 56.83L283.45 56.43L284.60 56.04L285.75 55.66L286.90 55.29L288.05 54.92L289.20 54.57L290.35 54.23L291.50 53.89L292.65 53.56L293.80 53.25L294.95 52.94L296.10 52.63L297.25 52.34L298.40 52.05L299.55 51.78L300.70 51.50L301.85 51.24L303.00 50.98L304.15 50.73L305.30 50.49L306.45 50.25L307.60 50.02L308.75 49.80L309.90 49.58L311.05 49.37L312.20 49.16L313.35 48.96L314.50 48.77" fill="none" stroke="#8F6D24" stroke-width="1.30" stroke-linejoin="round"/>
<path d="M45.40 170.40L46.55 170.40L47.70 170.40L48.85 170.40L50.00 170.40L51.15 170.40L52.30 170.39L53.45 170.39L54.60 170.39L55.75 170.39L56.90 170.39L58.05 170.39L59.20 170.38L60.35 170.38L61.50 170.38L62.65 170.38L63.80 170.37L64.95 170.37L66.10 170.37L67.25 170.36L68.40 170.36L69.55 170.36L70.70 170.35L71.85 170.35L73.00 170.34L74.15 170.33L75.30 170.33L76.45 170.32L77.60 170.31L78.75 170.31L79.90 170.30L81.05 170.29L82.20 170.28L83.35 170.27L84.50 170.25L85.65 170.24L86.80 170.23L87.95 170.21L89.10 170.19L90.25 170.18L91.40 170.16L92.55 170.14L93.70 170.11L94.85 170.09L96.00 170.06L97.15 170.03L98.30 170.00L99.45 169.97L100.60 169.93L101.75 169.90L102.90 169.85L104.05 169.81L105.20 169.76L106.35 169.71L107.50 169.65L108.65 169.59L109.80 169.53L110.95 169.46L112.10 169.39L113.25 169.31L114.40 169.22L115.55 169.13L116.70 169.03L117.85 168.92L119.00 168.81L120.15 168.69L121.30 168.56L122.45 168.42L123.60 168.27L124.75 168.12L125.90 167.95L127.05 167.77L128.20 167.58L129.35 167.38L130.50 167.16L131.65 166.93L132.80 166.69L133.95 166.43L135.10 166.16L136.25 165.87L137.40 165.57L138.55 165.24L139.70 164.90L140.85 164.54L142.00 164.17L143.15 163.77L144.30 163.35L145.45 162.92L146.60 162.46L147.75 161.98L148.90 161.47L150.05 160.95L151.20 160.40L152.35 159.82L153.50 159.23L154.65 158.61L155.80 157.96L156.95 157.29L158.10 156.60L159.25 155.88L160.40 155.13L161.55 154.36L162.70 153.56L163.85 152.74L165.00 151.90L166.15 151.03L167.30 150.13L168.45 149.21L169.60 148.27L170.75 147.31L171.90 146.32L173.05 145.31L174.20 144.27L175.35 143.22L176.50 142.15L177.65 141.05L178.80 139.94L179.95 138.81L181.10 137.66L182.25 136.50L183.40 135.32L184.55 134.12L185.70 132.91L186.85 131.69L188.00 130.46L189.15 129.22L190.30 127.97L191.45 126.70L192.60 125.43L193.75 124.16L194.90 122.88L196.05 121.59L197.20 120.30L198.35 119.01L199.50 117.72L200.65 116.42L201.80 115.13L202.95 113.84L204.10 112.55L205.25 111.26L206.40 109.98L207.55 108.70L208.70 107.43L209.85 106.17L211.00 104.91L212.15 103.66L213.30 102.42L214.45 101.19L215.60 99.97L216.75 98.76L217.90 97.56L219.05 96.37L220.20 95.20L221.35 94.04L222.50 92.89L223.65 91.75L224.80 90.63L225.95 89.52L227.10 88.43L228.25 87.36L229.40 86.29L230.55 85.25L231.70 84.22L232.85 83.20L234.00 82.20L235.15 81.22L236.30 80.26L237.45 79.31L238.60 78.37L239.75 77.46L240.90 76.56L242.05 75.67L243.20 74.81L244.35 73.95L245.50 73.12L246.65 72.30L247.80 71.50L248.95 70.71L250.10 69.94L251.25 69.19L252.40 68.45L253.55 67.73L254.70 67.02L255.85 66.33L257.00 65.65L258.15 64.99L259.30 64.34L260.45 63.71L261.60 63.09L262.75 62.49L263.90 61.90L265.05 61.32L266.20 60.76L267.35 60.21L268.50 59.67L269.65 59.15L270.80 58.64L271.95 58.14L273.10 57.65L274.25 57.18L275.40 56.72L276.55 56.27L277.70 55.83L278.85 55.40L280.00 54.98L281.15 54.57L282.30 54.18L283.45 53.79L284.60 53.41L285.75 53.05L286.90 52.69L288.05 52.34L289.20 52.00L290.35 51.67L291.50 51.35L292.65 51.04L293.80 50.73L294.95 50.44L296.10 50.15L297.25 49.87L298.40 49.59L299.55 49.33L300.70 49.07L301.85 48.82L303.00 48.57L304.15 48.34L305.30 48.11L306.45 47.88L307.60 47.66L308.75 47.45L309.90 47.24L311.05 47.04L312.20 46.85L313.35 46.65L314.50 46.47" fill="none" stroke="#22EEEE" stroke-width="1.30" stroke-linejoin="round"/>
<path d="M45.40 170.40L46.55 170.40L47.70 170.40L48.85 170.40L50.00 170.40L51.15 170.40L52.30 170.40L53.45 170.40L54.60 170.40L55.75 170.40L56.90 170.40L58.05 170.39L59.20 170.39L60.35 170.39L61.50 170.39L62.65 170.39L63.80 170.39L64.95 170.39L66.10 170.39L67.25 170.39L68.40 170.38L69.55 170.38L70.70 170.38L71.85 170.38L73.00 170.38L74.15 170.37L75.30 170.37L76.45 170.37L77.60 170.37L78.75 170.36L79.90 170.36L81.05 170.35L82.20 170.35L83.35 170.34L84.50 170.34L85.65 170.33L86.80 170.33L87.95 170.32L89.10 170.31L90.25 170.31L91.40 170.30L92.55 170.29L93.70 170.28L94.85 170.26L96.00 170.25L97.15 170.24L98.30 170.22L99.45 170.21L100.60 170.19L101.75 170.17L102.90 170.15L104.05 170.13L105.20 170.10L106.35 170.07L107.50 170.04L108.65 170.01L109.80 169.97L110.95 169.94L112.10 169.89L113.25 169.85L114.40 169.80L115.55 169.74L116.70 169.68L117.85 169.62L119.00 169.55L120.15 169.47L121.30 169.39L122.45 169.30L123.60 169.21L124.75 169.10L125.90 168.99L127.05 168.87L128.20 168.74L129.35 168.60L130.50 168.44L131.65 168.28L132.80 168.11L133.95 167.92L135.10 167.72L136.25 167.50L137.40 167.27L138.55 167.03L139.70 166.77L140.85 166.49L142.00 166.19L143.15 165.88L144.30 165.55L145.45 165.19L146.60 164.82L147.75 164.43L148.90 164.01L150.05 163.57L151.20 163.11L152.35 162.63L153.50 162.12L154.65 161.58L155.80 161.02L156.95 160.44L158.10 159.83L159.25 159.19L160.40 158.53L161.55 157.84L162.70 157.13L163.85 156.39L165.00 155.62L166.15 154.82L167.30 154.00L168.45 153.15L169.60 152.28L170.75 151.37L171.90 150.45L173.05 149.50L174.20 148.52L175.35 147.52L176.50 146.49L177.65 145.45L178.80 144.37L179.95 143.28L181.10 142.17L182.25 141.04L183.40 139.88L184.55 138.71L185.70 137.53L186.85 136.32L188.00 135.10L189.15 133.87L190.30 132.62L191.45 131.36L192.60 130.08L193.75 128.80L194.90 127.51L196.05 126.21L197.20 124.90L198.35 123.59L199.50 122.27L200.65 120.95L201.80 119.62L202.95 118.30L204.10 116.97L205.25 115.64L206.40 114.31L207.55 112.99L208.70 111.67L209.85 110.35L211.00 109.04L212.15 107.73L213.30 106.43L214.45 105.14L215.60 103.85L216.75 102.57L217.90 101.30L219.05 100.05L220.20 98.80L221.35 97.56L222.50 96.34L223.65 95.13L224.80 93.93L225.95 92.74L227.10 91.57L228.25 90.41L229.40 89.27L230.55 88.14L231.70 87.02L232.85 85.92L234.00 84.84L235.15 83.77L236.30 82.72L237.45 81.69L238.60 80.67L239.75 79.66L240.90 78.68L242.05 77.71L243.20 76.76L244.35 75.82L245.50 74.90L246.65 74.00L247.80 73.11L248.95 72.24L250.10 71.39L251.25 70.55L252.40 69.73L253.55 68.92L254.70 68.13L255.85 67.36L257.00 66.60L258.15 65.86L259.30 65.14L260.45 64.43L261.60 63.73L262.75 63.05L263.90 62.39L265.05 61.74L266.20 61.10L267.35 60.48L268.50 59.87L269.65 59.28L270.80 58.70L271.95 58.13L273.10 57.58L274.25 57.04L275.40 56.51L276.55 56.00L277.70 55.49L278.85 55.00L280.00 54.52L281.15 54.06L282.30 53.60L283.45 53.16L284.60 52.72L285.75 52.30L286.90 51.89L288.05 51.49L289.20 51.10L290.35 50.71L291.50 50.34L292.65 49.98L293.80 49.63L294.95 49.28L296.10 48.95L297.25 48.62L298.40 48.30L299.55 47.99L300.70 47.69L301.85 47.40L303.00 47.11L304.15 46.83L305.30 46.56L306.45 46.30L307.60 46.04L308.75 45.79L309.90 45.54L311.05 45.31L312.20 45.08L313.35 44.85L314.50 44.63" fill="none" stroke="#FFC000" stroke-width="1.30" stroke-linejoin="round"/>
<path d="M45.40 170.40L46.55 170.40L47.70 170.40L48.85 170.40L50.00 170.40L51.15 170.40L52.30 170.40L53.45 170.40L54.60 170.40L55.75 170.40L56.90 170.40L58.05 170.40L59.20 170.40L60.35 170.40L61.50 170.40L62.65 170.40L63.80 170.40L64.95 170.40L66.10 170.40L67.25 170.40L68.40 170.40L69.55 170.40L70.70 170.40L71.85 170.40L73.00 170.40L74.15 170.40L75.30 170.40L76.45 170.40L77.60 170.40L78.75 170.40L79.90 170.40L81.05 170.40L82.20 170.39L83.35 170.39L84.50 170.39L85.65 170.39L86.80 170.39L87.95 170.39L89.10 170.39L90.25 170.38L91.40 170.38L92.55 170.38L93.70 170.38L94.85 170.37L96.00 170.37L97.15 170.36L98.30 170.36L99.45 170.35L100.60 170.34L101.75 170.33L102.90 170.32L104.05 170.31L105.20 170.30L106.35 170.29L107.50 170.27L108.65 170.25L109.80 170.23L110.95 170.21L112.10 170.18L113.25 170.16L114.40 170.12L115.55 170.09L116.70 170.05L117.85 170.01L119.00 169.96L120.15 169.90L121.30 169.84L122.45 169.78L123.60 169.71L124.75 169.63L125.90 169.54L127.05 169.44L128.20 169.34L129.35 169.22L130.50 169.10L131.65 168.96L132.80 168.81L133.95 168.65L135.10 168.48L136.25 168.29L137.40 168.08L138.55 167.86L139.70 167.63L140.85 167.37L142.00 167.10L143.15 166.81L144.30 166.50L145.45 166.17L146.60 165.81L147.75 165.44L148.90 165.04L150.05 164.61L151.20 164.17L152.35 163.69L153.50 163.19L154.65 162.67L155.80 162.12L156.95 161.54L158.10 160.93L159.25 160.29L160.40 159.63L161.55 158.93L162.70 158.21L163.85 157.45L165.00 156.67L166.15 155.86L167.30 155.01L168.45 154.14L169.60 153.24L170.75 152.31L171.90 151.35L173.05 150.37L174.20 149.35L175.35 148.31L176.50 147.24L177.65 146.15L178.80 145.03L179.95 143.88L181.10 142.71L182.25 141.52L183.40 140.31L184.55 139.07L185.70 137.82L186.85 136.54L188.00 135.25L189.15 133.94L190.30 132.62L191.45 131.28L192.60 129.92L193.75 128.56L194.90 127.18L196.05 125.79L197.20 124.40L198.35 122.99L199.50 121.58L200.65 120.16L201.80 118.74L202.95 117.32L204.10 115.89L205.25 114.46L206.40 113.04L207.55 111.61L208.70 110.19L209.85 108.76L211.00 107.35L212.15 105.93L213.30 104.53L214.45 103.13L215.60 101.74L216.75 100.35L217.90 98.98L219.05 97.61L220.20 96.26L221.35 94.91L222.50 93.58L223.65 92.26L224.80 90.96L225.95 89.67L227.10 88.39L228.25 87.12L229.40 85.88L230.55 84.64L231.70 83.42L232.85 82.22L234.00 81.04L235.15 79.87L236.30 78.72L237.45 77.58L238.60 76.46L239.75 75.36L240.90 74.28L242.05 73.21L243.20 72.16L244.35 71.13L245.50 70.12L246.65 69.13L247.80 68.15L248.95 67.19L250.10 66.25L251.25 65.32L252.40 64.42L253.55 63.53L254.70 62.65L255.85 61.80L257.00 60.96L258.15 60.14L259.30 59.34L260.45 58.55L261.60 57.78L262.75 57.02L263.90 56.28L265.05 55.56L266.20 54.85L267.35 54.16L268.50 53.49L269.65 52.82L270.80 52.18L271.95 51.55L273.10 50.93L274.25 50.33L275.40 49.74L276.55 49.16L277.70 48.60L278.85 48.05L280.00 47.51L281.15 46.99L282.30 46.48L283.45 45.98L284.60 45.50L285.75 45.02L286.90 44.56L288.05 44.11L289.20 43.67L290.35 43.24L291.50 42.82L292.65 42.41L293.80 42.01L294.95 41.63L296.10 41.25L297.25 40.88L298.40 40.52L299.55 40.17L300.70 39.83L301.85 39.50L303.00 39.18L304.15 38.86L305.30 38.55L306.45 38.25L307.60 37.96L308.75 37.68L309.90 37.40L311.05 37.14L312.20 36.87L313.35 36.62L314.50 36.37" fill="none" stroke="#FFC000" stroke-width="1.30" stroke-linejoin="round"/>
<path d="M45.40 170.40L46.55 170.40L47.70 170.40L48.85 170.40L50.00 170.40L51.15 170.40L52.30 170.40L53.45 170.40L54.60 170.40L55.75 170.40L56.90 170.40L58.05 170.40L59.20 170.40L60.35 170.40L61.50 170.40L62.65 170.40L63.80 170.40L64.95 170.40L66.10 170.40L67.25 170.40L68.40 170.40L69.55 170.40L70.70 170.40L71.85 170.40L73.00 170.40L74.15 170.40L75.30 170.40L76.45 170.40L77.60 170.40L78.75 170.40L79.90 170.40L81.05 170.39L82.20 170.39L83.35 170.39L84.50 170.39L85.65 170.39L86.80 170.39L87.95 170.39L89.10 170.38L90.25 170.38L91.40 170.38L92.55 170.37L93.70 170.37L94.85 170.36L96.00 170.36L97.15 170.35L98.30 170.34L99.45 170.34L100.60 170.33L101.75 170.32L102.90 170.30L104.05 170.29L105.20 170.27L106.35 170.26L107.50 170.24L108.65 170.22L109.80 170.19L110.95 170.16L112.10 170.13L113.25 170.10L114.40 170.06L115.55 170.01L116.70 169.97L117.85 169.91L119.00 169.85L120.15 169.79L121.30 169.72L122.45 169.64L123.60 169.55L124.75 169.45L125.90 169.35L127.05 169.23L128.20 169.11L129.35 168.97L130.50 168.82L131.65 168.66L132.80 168.48L133.95 168.29L135.10 168.08L136.25 167.86L137.40 167.62L138.55 167.36L139.70 167.08L140.85 166.79L142.00 166.47L143.15 166.13L144.30 165.77L145.45 165.38L146.60 164.97L147.75 164.54L148.90 164.08L150.05 163.59L151.20 163.08L152.35 162.53L153.50 161.96L154.65 161.36L155.80 160.73L156.95 160.07L158.10 159.38L159.25 158.65L160.40 157.90L161.55 157.11L162.70 156.30L163.85 155.45L165.00 154.57L166.15 153.65L167.30 152.71L168.45 151.73L169.60 150.73L170.75 149.69L171.90 148.62L173.05 147.52L174.20 146.39L175.35 145.24L176.50 144.05L177.65 142.84L178.80 141.60L179.95 140.34L181.10 139.05L182.25 137.74L183.40 136.41L184.55 135.05L185.70 133.68L186.85 132.28L188.00 130.87L189.15 129.44L190.30 128.00L191.45 126.54L192.60 125.06L193.75 123.58L194.90 122.08L196.05 120.58L197.20 119.06L198.35 117.54L199.50 116.02L200.65 114.49L201.80 112.95L202.95 111.42L204.10 109.88L205.25 108.34L206.40 106.81L207.55 105.28L208.70 103.75L209.85 102.22L211.00 100.70L212.15 99.19L213.30 97.68L214.45 96.19L215.60 94.70L216.75 93.22L217.90 91.75L219.05 90.30L220.20 88.86L221.35 87.43L222.50 86.01L223.65 84.61L224.80 83.22L225.95 81.85L227.10 80.49L228.25 79.15L229.40 77.82L230.55 76.52L231.70 75.23L232.85 73.95L234.00 72.70L235.15 71.46L236.30 70.24L237.45 69.04L238.60 67.86L239.75 66.70L240.90 65.56L242.05 64.43L243.20 63.33L244.35 62.24L245.50 61.17L246.65 60.12L247.80 59.10L248.95 58.08L250.10 57.09L251.25 56.12L252.40 55.17L253.55 54.23L254.70 53.32L255.85 52.42L257.00 51.54L258.15 50.67L259.30 49.83L260.45 49.00L261.60 48.20L262.75 47.40L263.90 46.63L265.05 45.87L266.20 45.13L267.35 44.40L268.50 43.70L269.65 43.00L270.80 42.33L271.95 41.66L273.10 41.02L274.25 40.39L275.40 39.77L276.55 39.17L277.70 38.58L278.85 38.01L280.00 37.45L281.15 36.90L282.30 36.37L283.45 35.84L284.60 35.34L285.75 34.84L286.90 34.36L288.05 33.89L289.20 33.43L290.35 32.98L291.50 32.54L292.65 32.11L293.80 31.70L294.95 31.29L296.10 30.90L297.25 30.52L298.40 30.14L299.55 29.78L300.70 29.42L301.85 29.08L303.00 28.74L304.15 28.41L305.30 28.09L306.45 27.78L307.60 27.47L308.75 27.18L309.90 26.89L311.05 26.61L312.20 26.34L313.35 26.07L314.50 25.81" fill="none" stroke="#8F6D24" stroke-width="1.40" stroke-linejoin="round"/>
<path d="M45.40 170.40L46.55 170.40L47.70 170.40L48.85 170.40L50.00 170.40L51.15 170.40L52.30 170.40L53.45 170.40L54.60 170.40L55.75 170.40L56.90 170.40L58.05 170.40L59.20 170.40L60.35 170.40L61.50 170.40L62.65 170.40L63.80 170.40L64.95 170.40L66.10 170.40L67.25 170.40L68.40 170.40L69.55 170.40L70.70 170.40L71.85 170.40L73.00 170.40L74.15 170.40L75.30 170.40L76.45 170.40L77.60 170.40L78.75 170.40L79.90 170.40L81.05 170.39L82.20 170.39L83.35 170.39L84.50 170.39L85.65 170.39L86.80 170.39L87.95 170.39L89.10 170.38L90.25 170.38L91.40 170.38L92.55 170.38L93.70 170.37L94.85 170.37L96.00 170.36L97.15 170.36L98.30 170.35L99.45 170.34L100.60 170.33L101.75 170.32L102.90 170.31L104.05 170.30L105.20 170.29L106.35 170.27L107.50 170.25L108.65 170.23L109.80 170.21L110.95 170.18L112.10 170.16L113.25 170.12L114.40 170.09L115.55 170.05L116.70 170.00L117.85 169.95L119.00 169.90L120.15 169.84L121.30 169.77L122.45 169.70L123.60 169.62L124.75 169.53L125.90 169.43L127.05 169.32L128.20 169.21L129.35 169.08L130.50 168.94L131.65 168.79L132.80 168.62L133.95 168.45L135.10 168.25L136.25 168.04L137.40 167.82L138.55 167.58L139.70 167.32L140.85 167.04L142.00 166.74L143.15 166.42L144.30 166.08L145.45 165.71L146.60 165.33L147.75 164.92L148.90 164.48L150.05 164.02L151.20 163.53L152.35 163.01L153.50 162.47L154.65 161.90L155.80 161.30L156.95 160.67L158.10 160.01L159.25 159.32L160.40 158.60L161.55 157.85L162.70 157.07L163.85 156.25L165.00 155.41L166.15 154.53L167.30 153.62L168.45 152.69L169.60 151.72L170.75 150.72L171.90 149.69L173.05 148.63L174.20 147.54L175.35 146.43L176.50 145.28L177.65 144.11L178.80 142.91L179.95 141.69L181.10 140.44L182.25 139.17L183.40 137.88L184.55 136.56L185.70 135.23L186.85 133.87L188.00 132.50L189.15 131.11L190.30 129.70L191.45 128.28L192.60 126.84L193.75 125.39L194.90 123.93L196.05 122.47L197.20 120.99L198.35 119.50L199.50 118.01L200.65 116.51L201.80 115.01L202.95 113.51L204.10 112.00L205.25 110.50L206.40 108.99L207.55 107.49L208.70 105.99L209.85 104.49L211.00 103.00L212.15 101.51L213.30 100.03L214.45 98.56L215.60 97.10L216.75 95.64L217.90 94.20L219.05 92.76L220.20 91.34L221.35 89.93L222.50 88.54L223.65 87.15L224.80 85.79L225.95 84.43L227.10 83.09L228.25 81.77L229.40 80.46L230.55 79.17L231.70 77.90L232.85 76.64L234.00 75.40L235.15 74.18L236.30 72.97L237.45 71.79L238.60 70.62L239.75 69.47L240.90 68.34L242.05 67.22L243.20 66.13L244.35 65.05L245.50 64.00L246.65 62.96L247.80 61.94L248.95 60.94L250.10 59.95L251.25 58.99L252.40 58.04L253.55 57.12L254.70 56.21L255.85 55.32L257.00 54.44L258.15 53.59L259.30 52.75L260.45 51.93L261.60 51.13L262.75 50.34L263.90 49.57L265.05 48.82L266.20 48.08L267.35 47.36L268.50 46.66L269.65 45.97L270.80 45.30L271.95 44.64L273.10 44.00L274.25 43.37L275.40 42.76L276.55 42.16L277.70 41.58L278.85 41.01L280.00 40.45L281.15 39.90L282.30 39.37L283.45 38.86L284.60 38.35L285.75 37.86L286.90 37.38L288.05 36.91L289.20 36.45L290.35 36.00L291.50 35.57L292.65 35.15L293.80 34.73L294.95 34.33L296.10 33.94L297.25 33.56L298.40 33.18L299.55 32.82L300.70 32.47L301.85 32.12L303.00 31.79L304.15 31.46L305.30 31.14L306.45 30.83L307.60 30.53L308.75 30.23L309.90 29.95L311.05 29.67L312.20 29.40L313.35 29.13L314.50 28.88" fill="none" stroke="#FFC000" stroke-width="1.30" stroke-linejoin="round"/>
<path d="M45.40 170.40L46.55 170.40L47.70 170.40L48.85 170.40L50.00 170.40L51.15 170.40L52.30 170.40L53.45 170.39L54.60 170.39L55.75 170.39L56.90 170.39L58.05 170.39L59.20 170.39L60.35 170.39L61.50 170.38L62.65 170.38L63.80 170.38L64.95 170.38L66.10 170.37L67.25 170.37L68.40 170.37L69.55 170.36L70.70 170.36L71.85 170.36L73.00 170.35L74.15 170.35L75.30 170.34L76.45 170.34L77.60 170.33L78.75 170.32L79.90 170.32L81.05 170.31L82.20 170.30L83.35 170.29L84.50 170.28L85.65 170.27L86.80 170.26L87.95 170.24L89.10 170.23L90.25 170.21L91.40 170.20L92.55 170.18L93.70 170.16L94.85 170.14L96.00 170.12L97.15 170.09L98.30 170.07L99.45 170.04L100.60 170.01L101.75 169.98L102.90 169.94L104.05 169.90L105.20 169.86L106.35 169.81L107.50 169.77L108.65 169.71L109.80 169.66L110.95 169.60L112.10 169.53L113.25 169.46L114.40 169.38L115.55 169.30L116.70 169.21L117.85 169.12L119.00 169.02L120.15 168.91L121.30 168.79L122.45 168.67L123.60 168.53L124.75 168.39L125.90 168.23L127.05 168.07L128.20 167.89L129.35 167.71L130.50 167.51L131.65 167.29L132.80 167.07L133.95 166.83L135.10 166.57L136.25 166.30L137.40 166.01L138.55 165.71L139.70 165.39L140.85 165.05L142.00 164.69L143.15 164.31L144.30 163.91L145.45 163.49L146.60 163.05L147.75 162.58L148.90 162.10L150.05 161.59L151.20 161.05L152.35 160.50L153.50 159.91L154.65 159.31L155.80 158.68L156.95 158.02L158.10 157.34L159.25 156.63L160.40 155.89L161.55 155.13L162.70 154.35L163.85 153.53L165.00 152.70L166.15 151.83L167.30 150.94L168.45 150.03L169.60 149.09L170.75 148.12L171.90 147.13L173.05 146.12L174.20 145.09L175.35 144.03L176.50 142.95L177.65 141.85L178.80 140.73L179.95 139.59L181.10 138.43L182.25 137.26L183.40 136.06L184.55 134.85L185.70 133.63L186.85 132.39L188.00 131.14L189.15 129.88L190.30 128.61L191.45 127.32L192.60 126.03L193.75 124.73L194.90 123.42L196.05 122.11L197.20 120.79L198.35 119.47L199.50 118.15L200.65 116.83L201.80 115.50L202.95 114.18L204.10 112.86L205.25 111.54L206.40 110.22L207.55 108.91L208.70 107.60L209.85 106.30L211.00 105.00L212.15 103.72L213.30 102.44L214.45 101.17L215.60 99.91L216.75 98.66L217.90 97.42L219.05 96.19L220.20 94.98L221.35 93.77L222.50 92.58L223.65 91.41L224.80 90.25L225.95 89.10L227.10 87.96L228.25 86.85L229.40 85.74L230.55 84.66L231.70 83.58L232.85 82.53L234.00 81.49L235.15 80.47L236.30 79.46L237.45 78.47L238.60 77.50L239.75 76.54L240.90 75.60L242.05 74.68L243.20 73.77L244.35 72.88L245.50 72.01L246.65 71.15L247.80 70.31L248.95 69.49L250.10 68.68L251.25 67.89L252.40 67.12L253.55 66.36L254.70 65.62L255.85 64.89L257.00 64.18L258.15 63.48L259.30 62.80L260.45 62.14L261.60 61.49L262.75 60.85L263.90 60.23L265.05 59.62L266.20 59.03L267.35 58.45L268.50 57.88L269.65 57.33L270.80 56.79L271.95 56.27L273.10 55.75L274.25 55.25L275.40 54.76L276.55 54.28L277.70 53.82L278.85 53.37L280.00 52.92L281.15 52.49L282.30 52.07L283.45 51.66L284.60 51.26L285.75 50.87L286.90 50.49L288.05 50.12L289.20 49.76L290.35 49.41L291.50 49.07L292.65 48.74L293.80 48.42L294.95 48.10L296.10 47.79L297.25 47.50L298.40 47.20L299.55 46.92L300.70 46.65L301.85 46.38L303.00 46.12L304.15 45.86L305.30 45.62L306.45 45.38L307.60 45.14L308.75 44.92L309.90 44.69L311.05 44.48L312.20 44.27L313.35 44.07L314.50 43.87" fill="none" stroke="#22EEEE" stroke-width="1.30" stroke-linejoin="round"/>
<line x1="42.80" y1="25.30" x2="317.20" y2="25.30" stroke="#7A7A7A" stroke-width="1.30" />
<line x1="42.80" y1="25.30" x2="42.80" y2="174.40" stroke="#707070" stroke-width="1.50" />
<line x1="317.20" y1="25.30" x2="317.20" y2="174.40" stroke="#A0A0A0" stroke-width="1.20" />
<line x1="42.80" y1="172.90" x2="317.20" y2="172.90" stroke="#C8C8C8" stroke-width="1.00" />
<line x1="42.20" y1="174.40" x2="317.20" y2="174.40" stroke="#202020" stroke-width="1.30" />
<line x1="45.40" y1="171.80" x2="45.40" y2="176.80" stroke="#303030" stroke-width="1.00" />
<line x1="52.30" y1="171.80" x2="52.30" y2="176.80" stroke="#303030" stroke-width="1.00" />
<line x1="59.20" y1="171.80" x2="59.20" y2="176.80" stroke="#303030" stroke-width="1.00" />
<line x1="66.10" y1="171.80" x2="66.10" y2="176.80" stroke="#303030" stroke-width="1.00" />
<line x1="73.00" y1="171.20" x2="73.00" y2="177.90" stroke="#303030" stroke-width="1.00" />
<line x1="79.90" y1="171.80" x2="79.90" y2="176.80" stroke="#303030" stroke-width="1.00" />
<line x1="86.80" y1="171.80" x2="86.80" y2="176.80" stroke="#303030" stroke-width="1.00" />
<line x1="93.70" y1="171.80" x2="93.70" y2="176.80" stroke="#303030" stroke-width="1.00" />
<line x1="100.60" y1="171.80" x2="100.60" y2="176.80" stroke="#303030" stroke-width="1.00" />
<line x1="107.50" y1="171.20" x2="107.50" y2="177.90" stroke="#303030" stroke-width="1.00" />
<line x1="114.40" y1="171.80" x2="114.40" y2="176.80" stroke="#303030" stroke-width="1.00" />
<line x1="121.30" y1="171.80" x2="121.30" y2="176.80" stroke="#303030" stroke-width="1.00" />
<line x1="128.20" y1="171.80" x2="128.20" y2="176.80" stroke="#303030" stroke-width="1.00" />
<line x1="135.10" y1="171.80" x2="135.10" y2="176.80" stroke="#303030" stroke-width="1.00" />
<line x1="142.00" y1="171.20" x2="142.00" y2="177.90" stroke="#303030" stroke-width="1.00" />
<line x1="148.90" y1="171.80" x2="148.90" y2="176.80" stroke="#303030" stroke-width="1.00" />
<line x1="155.80" y1="171.80" x2="155.80" y2="176.80" stroke="#303030" stroke-width="1.00" />
<line x1="162.70" y1="171.80" x2="162.70" y2="176.80" stroke="#303030" stroke-width="1.00" />
<line x1="169.60" y1="171.80" x2="169.60" y2="176.80" stroke="#303030" stroke-width="1.00" />
<line x1="176.50" y1="171.20" x2="176.50" y2="177.90" stroke="#303030" stroke-width="1.00" />
<line x1="183.40" y1="171.80" x2="183.40" y2="176.80" stroke="#303030" stroke-width="1.00" />
<line x1="190.30" y1="171.80" x2="190.30" y2="176.80" stroke="#303030" stroke-width="1.00" />
<line x1="197.20" y1="171.80" x2="197.20" y2="176.80" stroke="#303030" stroke-width="1.00" />
<line x1="204.10" y1="171.80" x2="204.10" y2="176.80" stroke="#303030" stroke-width="1.00" />
<line x1="211.00" y1="171.20" x2="211.00" y2="177.90" stroke="#303030" stroke-width="1.00" />
<line x1="217.90" y1="171.80" x2="217.90" y2="176.80" stroke="#303030" stroke-width="1.00" />
<line x1="224.80" y1="171.80" x2="224.80" y2="176.80" stroke="#303030" stroke-width="1.00" />
<line x1="231.70" y1="171.80" x2="231.70" y2="176.80" stroke="#303030" stroke-width="1.00" />
<line x1="238.60" y1="171.80" x2="238.60" y2="176.80" stroke="#303030" stroke-width="1.00" />
<line x1="245.50" y1="171.20" x2="245.50" y2="177.90" stroke="#303030" stroke-width="1.00" />
<line x1="252.40" y1="171.80" x2="252.40" y2="176.80" stroke="#303030" stroke-width="1.00" />
<line x1="259.30" y1="171.80" x2="259.30" y2="176.80" stroke="#303030" stroke-width="1.00" />
<line x1="266.20" y1="171.80" x2="266.20" y2="176.80" stroke="#303030" stroke-width="1.00" />
<line x1="273.10" y1="171.80" x2="273.10" y2="176.80" stroke="#303030" stroke-width="1.00" />
<line x1="280.00" y1="171.20" x2="280.00" y2="177.90" stroke="#303030" stroke-width="1.00" />
<line x1="286.90" y1="171.80" x2="286.90" y2="176.80" stroke="#303030" stroke-width="1.00" />
<line x1="293.80" y1="171.80" x2="293.80" y2="176.80" stroke="#303030" stroke-width="1.00" />
<line x1="300.70" y1="171.80" x2="300.70" y2="176.80" stroke="#303030" stroke-width="1.00" />
<line x1="307.60" y1="171.80" x2="307.60" y2="176.80" stroke="#303030" stroke-width="1.00" />
<line x1="314.50" y1="171.20" x2="314.50" y2="177.90" stroke="#303030" stroke-width="1.00" />
<line x1="38.80" y1="170.40" x2="42.80" y2="170.40" stroke="#303030" stroke-width="1.00" />
<line x1="40.30" y1="155.10" x2="42.80" y2="155.10" stroke="#303030" stroke-width="1.00" />
<line x1="40.30" y1="139.80" x2="42.80" y2="139.80" stroke="#303030" stroke-width="1.00" />
<line x1="40.30" y1="124.50" x2="42.80" y2="124.50" stroke="#303030" stroke-width="1.00" />
<line x1="40.30" y1="109.20" x2="42.80" y2="109.20" stroke="#303030" stroke-width="1.00" />
<line x1="38.80" y1="93.90" x2="42.80" y2="93.90" stroke="#303030" stroke-width="1.00" />
<line x1="40.30" y1="78.60" x2="42.80" y2="78.60" stroke="#303030" stroke-width="1.00" />
<line x1="40.30" y1="63.30" x2="42.80" y2="63.30" stroke="#303030" stroke-width="1.00" />
<line x1="40.30" y1="48.00" x2="42.80" y2="48.00" stroke="#303030" stroke-width="1.00" />
<line x1="40.30" y1="32.70" x2="42.80" y2="32.70" stroke="#303030" stroke-width="1.00" />
<text x="73.00" y="190.60" font-size="10.00" text-anchor="middle" fill="#1a1a1a" font-weight="normal" font-family='"Liberation Sans", sans-serif' transform="translate(73.00 0) scale(0.860 1) translate(-73.00 0)" stroke="#1a1a1a" stroke-width="0.3">5</text>
<text x="107.50" y="190.60" font-size="10.00" text-anchor="middle" fill="#1a1a1a" font-weight="normal" font-family='"Liberation Sans", sans-serif' transform="translate(107.50 0) scale(0.860 1) translate(-107.50 0)" stroke="#1a1a1a" stroke-width="0.3">10</text>
<text x="142.00" y="190.60" font-size="10.00" text-anchor="middle" fill="#1a1a1a" font-weight="normal" font-family='"Liberation Sans", sans-serif' transform="translate(142.00 0) scale(0.860 1) translate(-142.00 0)" stroke="#1a1a1a" stroke-width="0.3">15</text>
<text x="176.50" y="190.60" font-size="10.00" text-anchor="middle" fill="#1a1a1a" font-weight="normal" font-family='"Liberation Sans", sans-serif' transform="translate(176.50 0) scale(0.860 1) translate(-176.50 0)" stroke="#1a1a1a" stroke-width="0.3">20</text>
<text x="211.00" y="190.60" font-size="10.00" text-anchor="middle" fill="#1a1a1a" font-weight="normal" font-family='"Liberation Sans", sans-serif' transform="translate(211.00 0) scale(0.860 1) translate(-211.00 0)" stroke="#1a1a1a" stroke-width="0.3">25</text>
<text x="245.50" y="190.60" font-size="10.00" text-anchor="middle" fill="#1a1a1a" font-weight="normal" font-family='"Liberation Sans", sans-serif' transform="translate(245.50 0) scale(0.860 1) translate(-245.50 0)" stroke="#1a1a1a" stroke-width="0.3">30</text>
<text x="280.00" y="190.60" font-size="10.00" text-anchor="middle" fill="#1a1a1a" font-weight="normal" font-family='"Liberation Sans", sans-serif' transform="translate(280.00 0) scale(0.860 1) translate(-280.00 0)" stroke="#1a1a1a" stroke-width="0.3">35</text>
<text x="314.50" y="190.60" font-size="10.00" text-anchor="middle" fill="#1a1a1a" font-weight="normal" font-family='"Liberation Sans", sans-serif' transform="translate(314.50 0) scale(0.860 1) translate(-314.50 0)" stroke="#1a1a1a" stroke-width="0.3">40</text>
<text x="37.80" y="174.70" font-size="10.00" text-anchor="end" fill="#1a1a1a" font-weight="normal" font-family='"Liberation Sans", sans-serif' transform="translate(37.80 0) scale(0.860 1) translate(-37.80 0)" stroke="#1a1a1a" stroke-width="0.3">0</text>
<text x="37.80" y="98.40" font-size="10.00" text-anchor="end" fill="#1a1a1a" font-weight="normal" font-family='"Liberation Sans", sans-serif' transform="translate(37.80 0) scale(0.860 1) translate(-37.80 0)" stroke="#1a1a1a" stroke-width="0.3">50000</text>
<text x="166.30" y="202.00" font-size="10.00" text-anchor="start" fill="#1a1a1a" font-weight="normal" font-family='"Liberation Sans", sans-serif' textLength="27.60" lengthAdjust="spacingAndGlyphs" stroke="#1a1a1a" stroke-width="0.3">Cycle #</text>
<text transform="translate(9.20 102.40) rotate(-90) scale(1 0.86)" font-size="11" text-anchor="middle" fill="#1a1a1a" font-family='"Liberation Sans", sans-serif' textLength="96" lengthAdjust="spacingAndGlyphs">Fluorescence (a.u.)</text>
<text x="49.00" y="40.10" font-size="13.40" text-anchor="start" fill="#111" font-weight="bold" font-family='"Liberation Sans", sans-serif' >A</text>
<line x1="259.50" y1="18.00" x2="259.50" y2="174.40" stroke="#2A2A2A" stroke-width="1.30" />
<polygon points="259.5,11.5 255.3,19 263.7,19" fill="#000"/>
<text x="218.20" y="9.90" font-size="8.40" text-anchor="start" fill="#1a1a1a" font-weight="normal" font-family='"Liberation Sans", sans-serif' textLength="79.30" lengthAdjust="spacingAndGlyphs" stroke="#1a1a1a" stroke-width="0.15">Cycle threshold (Ct)- 32</text>
<text x="159.40" y="100.00" font-size="8.40" text-anchor="start" fill="#1a1a1a" font-weight="normal" font-family='"Liberation Sans", sans-serif' textLength="21.30" lengthAdjust="spacingAndGlyphs" stroke="#1a1a1a" stroke-width="0.15">Target</text>
<line x1="185.00" y1="97.10" x2="207.00" y2="97.10" stroke="#111" stroke-width="1.10" />
<polygon points="213.8,97.1 206,93.3 206,100.9" fill="#000"/>
<text x="264.80" y="140.80" font-size="8.40" text-anchor="start" fill="#1a1a1a" font-weight="normal" font-family='"Liberation Sans", sans-serif' textLength="37.10" lengthAdjust="spacingAndGlyphs" stroke="#1a1a1a" stroke-width="0.15">Non-target</text>
<line x1="283.50" y1="142.40" x2="283.50" y2="161.00" stroke="#111" stroke-width="1.10" />
<polygon points="283.5,167.6 279.5,160 287.5,160" fill="#000"/>
<line x1="42.50" y1="259.50" x2="42.50" y2="422.80" stroke="#EFEFEF" stroke-width="1.00" />
<line x1="49.50" y1="259.50" x2="49.50" y2="422.80" stroke="#EFEFEF" stroke-width="1.00" />
<line x1="56.50" y1="259.50" x2="56.50" y2="422.80" stroke="#EFEFEF" stroke-width="1.00" />
<line x1="63.50" y1="259.50" x2="63.50" y2="422.80" stroke="#EFEFEF" stroke-width="1.00" />
<line x1="70.50" y1="259.50" x2="70.50" y2="422.80" stroke="#D6D6D6" stroke-width="1.00" />
<line x1="77.50" y1="259.50" x2="77.50" y2="422.80" stroke="#EFEFEF" stroke-width="1.00" />
<line x1="84.50" y1="259.50" x2="84.50" y2="422.80" stroke="#EFEFEF" stroke-width="1.00" />
<line x1="91.50" y1="259.50" x2="91.50" y2="422.80" stroke="#EFEFEF" stroke-width="1.00" />
<line x1="98.50" y1="259.50" x2="98.50" y2="422.80" stroke="#EFEFEF" stroke-width="1.00" />
<line x1="105.50" y1="259.50" x2="105.50" y2="422.80" stroke="#D6D6D6" stroke-width="1.00" />
<line x1="112.50" y1="259.50" x2="112.50" y2="422.80" stroke="#EFEFEF" stroke-width="1.00" />
<line x1="119.50" y1="259.50" x2="119.50" y2="422.80" stroke="#EFEFEF" stroke-width="1.00" />
<line x1="126.50" y1="259.50" x2="126.50" y2="422.80" stroke="#EFEFEF" stroke-width="1.00" />
<line x1="133.50" y1="259.50" x2="133.50" y2="422.80" stroke="#EFEFEF" stroke-width="1.00" />
<line x1="140.50" y1="259.50" x2="140.50" y2="422.80" stroke="#D6D6D6" stroke-width="1.00" />
<line x1="146.50" y1="259.50" x2="146.50" y2="422.80" stroke="#EFEFEF" stroke-width="1.00" />
<line x1="153.50" y1="259.50" x2="153.50" y2="422.80" stroke="#EFEFEF" stroke-width="1.00" />
<line x1="160.50" y1="259.50" x2="160.50" y2="422.80" stroke="#EFEFEF" stroke-width="1.00" />
<line x1="167.50" y1="259.50" x2="167.50" y2="422.80" stroke="#EFEFEF" stroke-width="1.00" />
<line x1="174.50" y1="259.50" x2="174.50" y2="422.80" stroke="#D6D6D6" stroke-width="1.00" />
<line x1="181.50" y1="259.50" x2="181.50" y2="422.80" stroke="#EFEFEF" stroke-width="1.00" />
<line x1="188.50" y1="259.50" x2="188.50" y2="422.80" stroke="#EFEFEF" stroke-width="1.00" />
<line x1="195.50" y1="259.50" x2="195.50" y2="422.80" stroke="#EFEFEF" stroke-width="1.00" />
<line x1="202.50" y1="259.50" x2="202.50" y2="422.80" stroke="#EFEFEF" stroke-width="1.00" />
<line x1="209.50" y1="259.50" x2="209.50" y2="422.80" stroke="#D6D6D6" stroke-width="1.00" />
<line x1="216.50" y1="259.50" x2="216.50" y2="422.80" stroke="#EFEFEF" stroke-width="1.00" />
<line x1="223.50" y1="259.50" x2="223.50" y2="422.80" stroke="#EFEFEF" stroke-width="1.00" />
<line x1="230.50" y1="259.50" x2="230.50" y2="422.80" stroke="#EFEFEF" stroke-width="1.00" />
<line x1="237.50" y1="259.50" x2="237.50" y2="422.80" stroke="#EFEFEF" stroke-width="1.00" />
<line x1="244.50" y1="259.50" x2="244.50" y2="422.80" stroke="#D6D6D6" stroke-width="1.00" />
<line x1="251.50" y1="259.50" x2="251.50" y2="422.80" stroke="#EFEFEF" stroke-width="1.00" />
<line x1="258.50" y1="259.50" x2="258.50" y2="422.80" stroke="#EFEFEF" stroke-width="1.00" />
<line x1="265.50" y1="259.50" x2="265.50" y2="422.80" stroke="#EFEFEF" stroke-width="1.00" />
<line x1="271.50" y1="259.50" x2="271.50" y2="422.80" stroke="#EFEFEF" stroke-width="1.00" />
<line x1="278.50" y1="259.50" x2="278.50" y2="422.80" stroke="#D6D6D6" stroke-width="1.00" />
<line x1="285.50" y1="259.50" x2="285.50" y2="422.80" stroke="#EFEFEF" stroke-width="1.00" />
<line x1="292.50" y1="259.50" x2="292.50" y2="422.80" stroke="#EFEFEF" stroke-width="1.00" />
<line x1="299.50" y1="259.50" x2="299.50" y2="422.80" stroke="#EFEFEF" stroke-width="1.00" />
<line x1="306.50" y1="259.50" x2="306.50" y2="422.80" stroke="#EFEFEF" stroke-width="1.00" />
<line x1="313.50" y1="259.50" x2="313.50" y2="422.80" stroke="#D6D6D6" stroke-width="1.00" />
<line x1="40.40" y1="418.50" x2="316.00" y2="418.50" stroke="#E2E2E2" stroke-width="1.00" />
<line x1="40.40" y1="402.50" x2="316.00" y2="402.50" stroke="#E2E2E2" stroke-width="1.00" />
<line x1="40.40" y1="386.50" x2="316.00" y2="386.50" stroke="#E2E2E2" stroke-width="1.00" />
<line x1="40.40" y1="370.50" x2="316.00" y2="370.50" stroke="#E2E2E2" stroke-width="1.00" />
<line x1="40.40" y1="354.50" x2="316.00" y2="354.50" stroke="#E2E2E2" stroke-width="1.00" />
<line x1="40.40" y1="338.50" x2="316.00" y2="338.50" stroke="#CCCCCC" stroke-width="1.00" />
<line x1="40.40" y1="322.50" x2="316.00" y2="322.50" stroke="#E2E2E2" stroke-width="1.00" />
<line x1="40.40" y1="306.50" x2="316.00" y2="306.50" stroke="#E2E2E2" stroke-width="1.00" />
<line x1="40.40" y1="290.50" x2="316.00" y2="290.50" stroke="#E2E2E2" stroke-width="1.00" />
<line x1="40.40" y1="274.50" x2="316.00" y2="274.50" stroke="#E2E2E2" stroke-width="1.00" />
<line x1="258.0" y1="253" x2="258.0" y2="423" stroke="#7A7A7A" stroke-width="1.8"/>
<path d="M43.10 418.20L44.26 418.20L45.41 418.20L46.57 418.20L47.73 418.20L48.89 418.20L50.05 418.19L51.20 418.19L52.36 418.19L53.52 418.19L54.67 418.19L55.83 418.19L56.99 418.19L58.15 418.19L59.30 418.18L60.46 418.18L61.62 418.18L62.78 418.18L63.94 418.18L65.09 418.17L66.25 418.17L67.41 418.17L68.56 418.17L69.72 418.16L70.88 418.16L72.04 418.16L73.19 418.16L74.35 418.15L75.51 418.15L76.67 418.14L77.83 418.14L78.98 418.14L80.14 418.13L81.30 418.13L82.45 418.12L83.61 418.11L84.77 418.11L85.93 418.10L87.09 418.10L88.24 418.09L89.40 418.08L90.56 418.07L91.72 418.06L92.87 418.06L94.03 418.05L95.19 418.04L96.34 418.02L97.50 418.01L98.66 418.00L99.82 417.99L100.97 417.97L102.13 417.96L103.29 417.95L104.45 417.93L105.61 417.91L106.76 417.89L107.92 417.88L109.08 417.86L110.24 417.83L111.39 417.81L112.55 417.79L113.71 417.76L114.87 417.74L116.02 417.71L117.18 417.68L118.34 417.65L119.50 417.62L120.65 417.58L121.81 417.55L122.97 417.51L124.12 417.47L125.28 417.42L126.44 417.38L127.60 417.33L128.75 417.28L129.91 417.23L131.07 417.18L132.23 417.12L133.38 417.06L134.54 417.00L135.70 416.93L136.86 416.86L138.02 416.79L139.17 416.72L140.33 416.64L141.49 416.56L142.65 416.47L143.80 416.38L144.96 416.29L146.12 416.19L147.28 416.08L148.43 415.98L149.59 415.87L150.75 415.75L151.91 415.63L153.06 415.50L154.22 415.37L155.38 415.24L156.53 415.10L157.69 414.95L158.85 414.80L160.01 414.65L161.16 414.48L162.32 414.32L163.48 414.14L164.64 413.97L165.79 413.78L166.95 413.59L168.11 413.39L169.27 413.19L170.43 412.99L171.58 412.77L172.74 412.55L173.90 412.33L175.06 412.10L176.21 411.86L177.37 411.62L178.53 411.37L179.68 411.12L180.84 410.86L182.00 410.59L183.16 410.32L184.31 410.05L185.47 409.77L186.63 409.49L187.79 409.20L188.94 408.90L190.10 408.60L191.26 408.30L192.42 408.00L193.57 407.69L194.73 407.37L195.89 407.06L197.05 406.74L198.20 406.42L199.36 406.09L200.52 405.76L201.68 405.43L202.84 405.10L203.99 404.77L205.15 404.44L206.31 404.10L207.46 403.77L208.62 403.43L209.78 403.09L210.94 402.76L212.09 402.42L213.25 402.09L214.41 401.75L215.57 401.42L216.72 401.09L217.88 400.76L219.04 400.43L220.20 400.10L221.35 399.77L222.51 399.45L223.67 399.13L224.83 398.82L225.98 398.50L227.14 398.19L228.30 397.88L229.46 397.58L230.62 397.28L231.77 396.98L232.93 396.69L234.09 396.40L235.24 396.11L236.40 395.83L237.56 395.56L238.72 395.28L239.88 395.02L241.03 394.75L242.19 394.49L243.35 394.24L244.50 393.99L245.66 393.74L246.82 393.50L247.98 393.27L249.13 393.04L250.29 392.81L251.45 392.59L252.61 392.37L253.76 392.16L254.92 391.95L256.08 391.75L257.24 391.55L258.40 391.36L259.55 391.17L260.71 390.98L261.87 390.80L263.02 390.62L264.18 390.45L265.34 390.28L266.50 390.12L267.65 389.96L268.81 389.81L269.97 389.65L271.13 389.51L272.29 389.36L273.44 389.22L274.60 389.09L275.76 388.96L276.92 388.83L278.07 388.70L279.23 388.58L280.39 388.46L281.54 388.35L282.70 388.24L283.86 388.13L285.02 388.02L286.18 387.92L287.33 387.82L288.49 387.72L289.65 387.63L290.81 387.54L291.96 387.45L293.12 387.36L294.28 387.28L295.44 387.20L296.59 387.12L297.75 387.05L298.91 386.97L300.07 386.90L301.22 386.83L302.38 386.77L303.54 386.70L304.69 386.64L305.85 386.58L307.01 386.52L308.17 386.46L309.32 386.40L310.48 386.35L311.64 386.30L312.80 386.25L313.96 386.20" fill="none" stroke="#2E8B2E" stroke-width="1.30" stroke-linejoin="round"/>
<path d="M43.10 418.20L44.26 418.20L45.41 418.20L46.57 418.20L47.73 418.20L48.89 418.20L50.05 418.20L51.20 418.20L52.36 418.20L53.52 418.20L54.67 418.20L55.83 418.20L56.99 418.20L58.15 418.20L59.30 418.20L60.46 418.20L61.62 418.20L62.78 418.20L63.94 418.20L65.09 418.20L66.25 418.20L67.41 418.20L68.56 418.20L69.72 418.20L70.88 418.20L72.04 418.20L73.19 418.20L74.35 418.19L75.51 418.19L76.67 418.19L77.83 418.19L78.98 418.19L80.14 418.19L81.30 418.19L82.45 418.19L83.61 418.18L84.77 418.18L85.93 418.18L87.09 418.18L88.24 418.17L89.40 418.17L90.56 418.17L91.72 418.16L92.87 418.16L94.03 418.15L95.19 418.15L96.34 418.14L97.50 418.13L98.66 418.12L99.82 418.11L100.97 418.10L102.13 418.09L103.29 418.08L104.45 418.06L105.61 418.04L106.76 418.03L107.92 418.01L109.08 417.98L110.24 417.96L111.39 417.93L112.55 417.90L113.71 417.87L114.87 417.84L116.02 417.80L117.18 417.76L118.34 417.71L119.50 417.66L120.65 417.61L121.81 417.55L122.97 417.49L124.12 417.42L125.28 417.34L126.44 417.27L127.60 417.18L128.75 417.09L129.91 416.99L131.07 416.88L132.23 416.77L133.38 416.64L134.54 416.51L135.70 416.37L136.86 416.22L138.02 416.06L139.17 415.90L140.33 415.72L141.49 415.53L142.65 415.32L143.80 415.11L144.96 414.89L146.12 414.65L147.28 414.40L148.43 414.13L149.59 413.86L150.75 413.57L151.91 413.26L153.06 412.94L154.22 412.61L155.38 412.26L156.53 411.89L157.69 411.51L158.85 411.12L160.01 410.70L161.16 410.28L162.32 409.83L163.48 409.37L164.64 408.90L165.79 408.40L166.95 407.89L168.11 407.37L169.27 406.82L170.43 406.26L171.58 405.69L172.74 405.10L173.90 404.49L175.06 403.87L176.21 403.23L177.37 402.57L178.53 401.91L179.68 401.22L180.84 400.52L182.00 399.81L183.16 399.08L184.31 398.34L185.47 397.59L186.63 396.82L187.79 396.04L188.94 395.25L190.10 394.45L191.26 393.64L192.42 392.82L193.57 391.98L194.73 391.14L195.89 390.29L197.05 389.43L198.20 388.57L199.36 387.69L200.52 386.81L201.68 385.92L202.84 385.03L203.99 384.13L205.15 383.23L206.31 382.33L207.46 381.42L208.62 380.50L209.78 379.59L210.94 378.67L212.09 377.76L213.25 376.84L214.41 375.92L215.57 375.00L216.72 374.08L217.88 373.17L219.04 372.25L220.20 371.34L221.35 370.43L222.51 369.52L223.67 368.62L224.83 367.72L225.98 366.83L227.14 365.94L228.30 365.05L229.46 364.17L230.62 363.30L231.77 362.43L232.93 361.57L234.09 360.71L235.24 359.86L236.40 359.02L237.56 358.19L238.72 357.36L239.88 356.54L241.03 355.73L242.19 354.93L243.35 354.14L244.50 353.35L245.66 352.57L246.82 351.81L247.98 351.05L249.13 350.30L250.29 349.56L251.45 348.83L252.61 348.11L253.76 347.39L254.92 346.69L256.08 346.00L257.24 345.31L258.40 344.64L259.55 343.98L260.71 343.32L261.87 342.68L263.02 342.04L264.18 341.42L265.34 340.80L266.50 340.20L267.65 339.60L268.81 339.02L269.97 338.44L271.13 337.87L272.29 337.31L273.44 336.77L274.60 336.23L275.76 335.70L276.92 335.18L278.07 334.67L279.23 334.16L280.39 333.67L281.54 333.19L282.70 332.71L283.86 332.24L285.02 331.79L286.18 331.34L287.33 330.90L288.49 330.46L289.65 330.04L290.81 329.62L291.96 329.21L293.12 328.81L294.28 328.42L295.44 328.04L296.59 327.66L297.75 327.29L298.91 326.93L300.07 326.57L301.22 326.22L302.38 325.88L303.54 325.55L304.69 325.22L305.85 324.90L307.01 324.59L308.17 324.28L309.32 323.98L310.48 323.69L311.64 323.40L312.80 323.12L313.96 322.84" fill="none" stroke="#2E8B2E" stroke-width="1.30" stroke-linejoin="round"/>
<path d="M43.10 418.20L44.26 418.20L45.41 418.20L46.57 418.20L47.73 418.19L48.89 418.19L50.05 418.19L51.20 418.19L52.36 418.19L53.52 418.18L54.67 418.18L55.83 418.18L56.99 418.18L58.15 418.17L59.30 418.17L60.46 418.17L61.62 418.16L62.78 418.16L63.94 418.16L65.09 418.15L66.25 418.15L67.41 418.14L68.56 418.14L69.72 418.13L70.88 418.13L72.04 418.12L73.19 418.12L74.35 418.11L75.51 418.10L76.67 418.09L77.83 418.08L78.98 418.08L80.14 418.07L81.30 418.06L82.45 418.05L83.61 418.03L84.77 418.02L85.93 418.01L87.09 418.00L88.24 417.98L89.40 417.97L90.56 417.95L91.72 417.93L92.87 417.91L94.03 417.89L95.19 417.87L96.34 417.85L97.50 417.83L98.66 417.80L99.82 417.77L100.97 417.75L102.13 417.72L103.29 417.68L104.45 417.65L105.61 417.62L106.76 417.58L107.92 417.54L109.08 417.49L110.24 417.45L111.39 417.40L112.55 417.35L113.71 417.30L114.87 417.24L116.02 417.18L117.18 417.12L118.34 417.05L119.50 416.98L120.65 416.91L121.81 416.83L122.97 416.75L124.12 416.66L125.28 416.57L126.44 416.47L127.60 416.37L128.75 416.26L129.91 416.14L131.07 416.02L132.23 415.90L133.38 415.77L134.54 415.63L135.70 415.48L136.86 415.32L138.02 415.16L139.17 414.99L140.33 414.81L141.49 414.63L142.65 414.43L143.80 414.23L144.96 414.01L146.12 413.79L147.28 413.55L148.43 413.30L149.59 413.05L150.75 412.78L151.91 412.50L153.06 412.21L154.22 411.90L155.38 411.58L156.53 411.25L157.69 410.90L158.85 410.54L160.01 410.17L161.16 409.78L162.32 409.38L163.48 408.96L164.64 408.52L165.79 408.07L166.95 407.60L168.11 407.12L169.27 406.62L170.43 406.10L171.58 405.56L172.74 405.01L173.90 404.44L175.06 403.85L176.21 403.24L177.37 402.61L178.53 401.97L179.68 401.30L180.84 400.62L182.00 399.92L183.16 399.20L184.31 398.46L185.47 397.70L186.63 396.92L187.79 396.12L188.94 395.31L190.10 394.47L191.26 393.62L192.42 392.75L193.57 391.86L194.73 390.96L195.89 390.03L197.05 389.09L198.20 388.14L199.36 387.16L200.52 386.17L201.68 385.17L202.84 384.15L203.99 383.11L205.15 382.06L206.31 381.00L207.46 379.92L208.62 378.83L209.78 377.73L210.94 376.62L212.09 375.50L213.25 374.37L214.41 373.23L215.57 372.08L216.72 370.92L217.88 369.76L219.04 368.58L220.20 367.41L221.35 366.22L222.51 365.04L223.67 363.85L224.83 362.65L225.98 361.46L227.14 360.26L228.30 359.06L229.46 357.86L230.62 356.67L231.77 355.47L232.93 354.27L234.09 353.08L235.24 351.89L236.40 350.71L237.56 349.53L238.72 348.35L239.88 347.18L241.03 346.02L242.19 344.86L243.35 343.71L244.50 342.57L245.66 341.44L246.82 340.31L247.98 339.20L249.13 338.09L250.29 337.00L251.45 335.91L252.61 334.84L253.76 333.77L254.92 332.72L256.08 331.68L257.24 330.66L258.40 329.64L259.55 328.64L260.71 327.65L261.87 326.67L263.02 325.71L264.18 324.76L265.34 323.82L266.50 322.90L267.65 321.99L268.81 321.09L269.97 320.21L271.13 319.35L272.29 318.49L273.44 317.65L274.60 316.83L275.76 316.02L276.92 315.22L278.07 314.44L279.23 313.67L280.39 312.92L281.54 312.17L282.70 311.45L283.86 310.73L285.02 310.03L286.18 309.35L287.33 308.68L288.49 308.02L289.65 307.37L290.81 306.74L291.96 306.12L293.12 305.51L294.28 304.92L295.44 304.34L296.59 303.77L297.75 303.21L298.91 302.66L300.07 302.13L301.22 301.61L302.38 301.10L303.54 300.60L304.69 300.12L305.85 299.64L307.01 299.17L308.17 298.72L309.32 298.27L310.48 297.84L311.64 297.42L312.80 297.00L313.96 296.60" fill="none" stroke="#6A4C9C" stroke-width="1.20" stroke-linejoin="round"/>
<path d="M43.10 418.20L44.26 418.20L45.41 418.20L46.57 418.20L47.73 418.19L48.89 418.19L50.05 418.19L51.20 418.19L52.36 418.19L53.52 418.18L54.67 418.18L55.83 418.18L56.99 418.17L58.15 418.17L59.30 418.17L60.46 418.16L61.62 418.16L62.78 418.16L63.94 418.15L65.09 418.15L66.25 418.14L67.41 418.14L68.56 418.13L69.72 418.13L70.88 418.12L72.04 418.11L73.19 418.11L74.35 418.10L75.51 418.09L76.67 418.08L77.83 418.07L78.98 418.06L80.14 418.05L81.30 418.04L82.45 418.03L83.61 418.02L84.77 418.00L85.93 417.99L87.09 417.97L88.24 417.96L89.40 417.94L90.56 417.92L91.72 417.90L92.87 417.88L94.03 417.86L95.19 417.83L96.34 417.81L97.50 417.78L98.66 417.76L99.82 417.73L100.97 417.69L102.13 417.66L103.29 417.63L104.45 417.59L105.61 417.55L106.76 417.51L107.92 417.46L109.08 417.42L110.24 417.37L111.39 417.31L112.55 417.26L113.71 417.20L114.87 417.13L116.02 417.07L117.18 417.00L118.34 416.92L119.50 416.85L120.65 416.76L121.81 416.68L122.97 416.59L124.12 416.49L125.28 416.39L126.44 416.28L127.60 416.17L128.75 416.05L129.91 415.92L131.07 415.79L132.23 415.65L133.38 415.51L134.54 415.35L135.70 415.19L136.86 415.02L138.02 414.84L139.17 414.66L140.33 414.46L141.49 414.26L142.65 414.04L143.80 413.82L144.96 413.58L146.12 413.34L147.28 413.08L148.43 412.81L149.59 412.53L150.75 412.24L151.91 411.93L153.06 411.61L154.22 411.28L155.38 410.93L156.53 410.57L157.69 410.20L158.85 409.81L160.01 409.40L161.16 408.98L162.32 408.54L163.48 408.09L164.64 407.62L165.79 407.13L166.95 406.63L168.11 406.10L169.27 405.56L170.43 405.00L171.58 404.43L172.74 403.83L173.90 403.22L175.06 402.58L176.21 401.93L177.37 401.26L178.53 400.57L179.68 399.85L180.84 399.12L182.00 398.37L183.16 397.60L184.31 396.81L185.47 396.00L186.63 395.17L187.79 394.33L188.94 393.46L190.10 392.57L191.26 391.67L192.42 390.74L193.57 389.80L194.73 388.84L195.89 387.87L197.05 386.87L198.20 385.86L199.36 384.83L200.52 383.79L201.68 382.73L202.84 381.65L203.99 380.56L205.15 379.46L206.31 378.34L207.46 377.21L208.62 376.07L209.78 374.92L210.94 373.75L212.09 372.58L213.25 371.40L214.41 370.21L215.57 369.00L216.72 367.80L217.88 366.58L219.04 365.36L220.20 364.14L221.35 362.91L222.51 361.67L223.67 360.44L224.83 359.20L225.98 357.96L227.14 356.72L228.30 355.48L229.46 354.24L230.62 353.00L231.77 351.76L232.93 350.53L234.09 349.30L235.24 348.07L236.40 346.85L237.56 345.63L238.72 344.42L239.88 343.22L241.03 342.02L242.19 340.84L243.35 339.65L244.50 338.48L245.66 337.32L246.82 336.17L247.98 335.02L249.13 333.89L250.29 332.77L251.45 331.66L252.61 330.56L253.76 329.48L254.92 328.40L256.08 327.34L257.24 326.29L258.40 325.26L259.55 324.23L260.71 323.23L261.87 322.23L263.02 321.25L264.18 320.28L265.34 319.33L266.50 318.39L267.65 317.47L268.81 316.56L269.97 315.66L271.13 314.78L272.29 313.92L273.44 313.07L274.60 312.23L275.76 311.41L276.92 310.60L278.07 309.81L279.23 309.03L280.39 308.26L281.54 307.51L282.70 306.78L283.86 306.06L285.02 305.35L286.18 304.66L287.33 303.98L288.49 303.31L289.65 302.66L290.81 302.02L291.96 301.39L293.12 300.78L294.28 300.18L295.44 299.59L296.59 299.02L297.75 298.46L298.91 297.91L300.07 297.37L301.22 296.84L302.38 296.33L303.54 295.83L304.69 295.34L305.85 294.86L307.01 294.39L308.17 293.93L309.32 293.49L310.48 293.05L311.64 292.62L312.80 292.21L313.96 291.80" fill="none" stroke="#6A4C9C" stroke-width="1.20" stroke-linejoin="round"/>
<path d="M43.10 418.20L44.26 418.20L45.41 418.20L46.57 418.20L47.73 418.19L48.89 418.19L50.05 418.19L51.20 418.19L52.36 418.18L53.52 418.18L54.67 418.18L55.83 418.18L56.99 418.17L58.15 418.17L59.30 418.17L60.46 418.16L61.62 418.16L62.78 418.15L63.94 418.15L65.09 418.14L66.25 418.14L67.41 418.13L68.56 418.13L69.72 418.12L70.88 418.11L72.04 418.11L73.19 418.10L74.35 418.09L75.51 418.08L76.67 418.07L77.83 418.06L78.98 418.05L80.14 418.04L81.30 418.03L82.45 418.02L83.61 418.00L84.77 417.99L85.93 417.97L87.09 417.96L88.24 417.94L89.40 417.92L90.56 417.90L91.72 417.88L92.87 417.86L94.03 417.84L95.19 417.81L96.34 417.79L97.50 417.76L98.66 417.73L99.82 417.70L100.97 417.66L102.13 417.63L103.29 417.59L104.45 417.55L105.61 417.51L106.76 417.46L107.92 417.42L109.08 417.37L110.24 417.31L111.39 417.26L112.55 417.20L113.71 417.14L114.87 417.07L116.02 417.00L117.18 416.93L118.34 416.85L119.50 416.77L120.65 416.68L121.81 416.59L122.97 416.49L124.12 416.39L125.28 416.28L126.44 416.17L127.60 416.05L128.75 415.92L129.91 415.79L131.07 415.65L132.23 415.50L133.38 415.35L134.54 415.19L135.70 415.02L136.86 414.84L138.02 414.65L139.17 414.46L140.33 414.25L141.49 414.04L142.65 413.81L143.80 413.57L144.96 413.33L146.12 413.07L147.28 412.80L148.43 412.52L149.59 412.22L150.75 411.91L151.91 411.59L153.06 411.26L154.22 410.91L155.38 410.55L156.53 410.17L157.69 409.77L158.85 409.37L160.01 408.94L161.16 408.50L162.32 408.04L163.48 407.57L164.64 407.07L165.79 406.57L166.95 406.04L168.11 405.49L169.27 404.93L170.43 404.34L171.58 403.74L172.74 403.12L173.90 402.48L175.06 401.82L176.21 401.14L177.37 400.44L178.53 399.72L179.68 398.98L180.84 398.22L182.00 397.44L183.16 396.64L184.31 395.82L185.47 394.98L186.63 394.12L187.79 393.24L188.94 392.34L190.10 391.42L191.26 390.48L192.42 389.53L193.57 388.55L194.73 387.56L195.89 386.55L197.05 385.52L198.20 384.47L199.36 383.41L200.52 382.33L201.68 381.24L202.84 380.13L203.99 379.01L205.15 377.87L206.31 376.72L207.46 375.56L208.62 374.38L209.78 373.19L210.94 372.00L212.09 370.79L213.25 369.57L214.41 368.35L215.57 367.11L216.72 365.87L217.88 364.63L219.04 363.38L220.20 362.12L221.35 360.86L222.51 359.59L223.67 358.33L224.83 357.06L225.98 355.79L227.14 354.52L228.30 353.25L229.46 351.98L230.62 350.71L231.77 349.45L232.93 348.19L234.09 346.93L235.24 345.68L236.40 344.43L237.56 343.19L238.72 341.96L239.88 340.73L241.03 339.51L242.19 338.30L243.35 337.10L244.50 335.90L245.66 334.72L246.82 333.55L247.98 332.38L249.13 331.23L250.29 330.09L251.45 328.96L252.61 327.85L253.76 326.74L254.92 325.65L256.08 324.57L257.24 323.51L258.40 322.45L259.55 321.42L260.71 320.39L261.87 319.38L263.02 318.39L264.18 317.41L265.34 316.44L266.50 315.49L267.65 314.55L268.81 313.63L269.97 312.72L271.13 311.83L272.29 310.95L273.44 310.09L274.60 309.25L275.76 308.41L276.92 307.60L278.07 306.79L279.23 306.00L280.39 305.23L281.54 304.47L282.70 303.73L283.86 303.00L285.02 302.28L286.18 301.58L287.33 300.89L288.49 300.22L289.65 299.56L290.81 298.92L291.96 298.28L293.12 297.66L294.28 297.06L295.44 296.47L296.59 295.89L297.75 295.32L298.91 294.76L300.07 294.22L301.22 293.69L302.38 293.17L303.54 292.67L304.69 292.17L305.85 291.69L307.01 291.21L308.17 290.75L309.32 290.30L310.48 289.86L311.64 289.43L312.80 289.01L313.96 288.60" fill="none" stroke="#6A4C9C" stroke-width="1.20" stroke-linejoin="round"/>
<path d="M43.10 418.20L44.26 418.20L45.41 418.20L46.57 418.20L47.73 418.19L48.89 418.19L50.05 418.19L51.20 418.19L52.36 418.18L53.52 418.18L54.67 418.18L55.83 418.18L56.99 418.17L58.15 418.17L59.30 418.17L60.46 418.16L61.62 418.16L62.78 418.15L63.94 418.15L65.09 418.14L66.25 418.14L67.41 418.13L68.56 418.13L69.72 418.12L70.88 418.11L72.04 418.11L73.19 418.10L74.35 418.09L75.51 418.08L76.67 418.07L77.83 418.06L78.98 418.05L80.14 418.04L81.30 418.03L82.45 418.02L83.61 418.00L84.77 417.99L85.93 417.97L87.09 417.96L88.24 417.94L89.40 417.92L90.56 417.90L91.72 417.88L92.87 417.86L94.03 417.84L95.19 417.81L96.34 417.79L97.50 417.76L98.66 417.73L99.82 417.70L100.97 417.66L102.13 417.63L103.29 417.59L104.45 417.55L105.61 417.51L106.76 417.46L107.92 417.42L109.08 417.37L110.24 417.31L111.39 417.26L112.55 417.20L113.71 417.13L114.87 417.07L116.02 417.00L117.18 416.92L118.34 416.84L119.50 416.76L120.65 416.67L121.81 416.58L122.97 416.48L124.12 416.38L125.28 416.27L126.44 416.16L127.60 416.03L128.75 415.91L129.91 415.77L131.07 415.63L132.23 415.48L133.38 415.33L134.54 415.16L135.70 414.99L136.86 414.81L138.02 414.62L139.17 414.42L140.33 414.21L141.49 413.99L142.65 413.76L143.80 413.52L144.96 413.27L146.12 413.00L147.28 412.73L148.43 412.44L149.59 412.14L150.75 411.82L151.91 411.49L153.06 411.15L154.22 410.79L155.38 410.42L156.53 410.03L157.69 409.63L158.85 409.21L160.01 408.77L161.16 408.32L162.32 407.85L163.48 407.36L164.64 406.85L165.79 406.32L166.95 405.78L168.11 405.22L169.27 404.63L170.43 404.03L171.58 403.40L172.74 402.76L173.90 402.09L175.06 401.41L176.21 400.70L177.37 399.97L178.53 399.22L179.68 398.45L180.84 397.66L182.00 396.85L183.16 396.01L184.31 395.15L185.47 394.27L186.63 393.37L187.79 392.45L188.94 391.51L190.10 390.54L191.26 389.56L192.42 388.55L193.57 387.53L194.73 386.48L195.89 385.42L197.05 384.33L198.20 383.23L199.36 382.10L200.52 380.96L201.68 379.81L202.84 378.63L203.99 377.44L205.15 376.23L206.31 375.01L207.46 373.78L208.62 372.53L209.78 371.26L210.94 369.99L212.09 368.70L213.25 367.40L214.41 366.09L215.57 364.78L216.72 363.45L217.88 362.11L219.04 360.77L220.20 359.43L221.35 358.07L222.51 356.72L223.67 355.36L224.83 353.99L225.98 352.63L227.14 351.26L228.30 349.89L229.46 348.52L230.62 347.16L231.77 345.79L232.93 344.43L234.09 343.07L235.24 341.72L236.40 340.37L237.56 339.03L238.72 337.69L239.88 336.36L241.03 335.04L242.19 333.72L243.35 332.41L244.50 331.12L245.66 329.83L246.82 328.55L247.98 327.29L249.13 326.03L250.29 324.79L251.45 323.56L252.61 322.34L253.76 321.13L254.92 319.94L256.08 318.76L257.24 317.60L258.40 316.45L259.55 315.31L260.71 314.19L261.87 313.09L263.02 312.00L264.18 310.92L265.34 309.86L266.50 308.82L267.65 307.79L268.81 306.78L269.97 305.78L271.13 304.80L272.29 303.84L273.44 302.89L274.60 301.96L275.76 301.04L276.92 300.14L278.07 299.26L279.23 298.39L280.39 297.54L281.54 296.70L282.70 295.88L283.86 295.08L285.02 294.29L286.18 293.52L287.33 292.76L288.49 292.02L289.65 291.29L290.81 290.58L291.96 289.88L293.12 289.19L294.28 288.52L295.44 287.87L296.59 287.23L297.75 286.60L298.91 285.99L300.07 285.39L301.22 284.80L302.38 284.22L303.54 283.66L304.69 283.12L305.85 282.58L307.01 282.06L308.17 281.54L309.32 281.04L310.48 280.56L311.64 280.08L312.80 279.61L313.96 279.16" fill="none" stroke="#6A4C9C" stroke-width="1.20" stroke-linejoin="round"/>
<path d="M43.10 418.20L44.26 418.20L45.41 418.20L46.57 418.20L47.73 418.20L48.89 418.20L50.05 418.20L51.20 418.20L52.36 418.19L53.52 418.19L54.67 418.19L55.83 418.19L56.99 418.19L58.15 418.19L59.30 418.19L60.46 418.19L61.62 418.18L62.78 418.18L63.94 418.18L65.09 418.18L66.25 418.18L67.41 418.17L68.56 418.17L69.72 418.17L70.88 418.16L72.04 418.16L73.19 418.15L74.35 418.15L75.51 418.15L76.67 418.14L77.83 418.13L78.98 418.13L80.14 418.12L81.30 418.11L82.45 418.11L83.61 418.10L84.77 418.09L85.93 418.08L87.09 418.07L88.24 418.06L89.40 418.04L90.56 418.03L91.72 418.02L92.87 418.00L94.03 417.98L95.19 417.96L96.34 417.94L97.50 417.92L98.66 417.90L99.82 417.87L100.97 417.85L102.13 417.82L103.29 417.79L104.45 417.75L105.61 417.72L106.76 417.68L107.92 417.64L109.08 417.60L110.24 417.55L111.39 417.50L112.55 417.44L113.71 417.38L114.87 417.32L116.02 417.26L117.18 417.19L118.34 417.11L119.50 417.03L120.65 416.94L121.81 416.85L122.97 416.76L124.12 416.65L125.28 416.54L126.44 416.42L127.60 416.30L128.75 416.17L129.91 416.03L131.07 415.88L132.23 415.72L133.38 415.56L134.54 415.38L135.70 415.20L136.86 415.00L138.02 414.80L139.17 414.58L140.33 414.35L141.49 414.11L142.65 413.86L143.80 413.60L144.96 413.32L146.12 413.03L147.28 412.72L148.43 412.40L149.59 412.07L150.75 411.72L151.91 411.35L153.06 410.97L154.22 410.57L155.38 410.16L156.53 409.73L157.69 409.28L158.85 408.82L160.01 408.33L161.16 407.83L162.32 407.31L163.48 406.78L164.64 406.22L165.79 405.65L166.95 405.06L168.11 404.44L169.27 403.81L170.43 403.17L171.58 402.50L172.74 401.81L173.90 401.11L175.06 400.38L176.21 399.64L177.37 398.88L178.53 398.11L179.68 397.31L180.84 396.50L182.00 395.67L183.16 394.82L184.31 393.96L185.47 393.08L186.63 392.19L187.79 391.28L188.94 390.36L190.10 389.42L191.26 388.47L192.42 387.51L193.57 386.54L194.73 385.55L195.89 384.55L197.05 383.54L198.20 382.53L199.36 381.50L200.52 380.47L201.68 379.43L202.84 378.38L203.99 377.32L205.15 376.26L206.31 375.20L207.46 374.13L208.62 373.06L209.78 371.99L210.94 370.91L212.09 369.83L213.25 368.76L214.41 367.68L215.57 366.60L216.72 365.53L217.88 364.46L219.04 363.39L220.20 362.32L221.35 361.26L222.51 360.20L223.67 359.15L224.83 358.11L225.98 357.07L227.14 356.03L228.30 355.01L229.46 353.99L230.62 352.98L231.77 351.98L232.93 350.99L234.09 350.01L235.24 349.04L236.40 348.07L237.56 347.12L238.72 346.18L239.88 345.25L241.03 344.33L242.19 343.42L243.35 342.53L244.50 341.64L245.66 340.77L246.82 339.91L247.98 339.06L249.13 338.23L250.29 337.41L251.45 336.60L252.61 335.80L253.76 335.02L254.92 334.25L256.08 333.49L257.24 332.74L258.40 332.01L259.55 331.29L260.71 330.58L261.87 329.89L263.02 329.21L264.18 328.54L265.34 327.88L266.50 327.24L267.65 326.61L268.81 325.99L269.97 325.38L271.13 324.79L272.29 324.21L273.44 323.64L274.60 323.08L275.76 322.53L276.92 322.00L278.07 321.48L279.23 320.96L280.39 320.46L281.54 319.97L282.70 319.49L283.86 319.02L285.02 318.57L286.18 318.12L287.33 317.68L288.49 317.25L289.65 316.83L290.81 316.43L291.96 316.03L293.12 315.64L294.28 315.26L295.44 314.89L296.59 314.52L297.75 314.17L298.91 313.83L300.07 313.49L301.22 313.16L302.38 312.84L303.54 312.53L304.69 312.22L305.85 311.92L307.01 311.63L308.17 311.35L309.32 311.08L310.48 310.81L311.64 310.54L312.80 310.29L313.96 310.04" fill="none" stroke="#2E8B2E" stroke-width="1.30" stroke-linejoin="round"/>
<path d="M43.10 418.20L44.26 418.20L45.41 418.20L46.57 418.20L47.73 418.20L48.89 418.20L50.05 418.20L51.20 418.20L52.36 418.20L53.52 418.20L54.67 418.20L55.83 418.20L56.99 418.20L58.15 418.20L59.30 418.20L60.46 418.20L61.62 418.20L62.78 418.20L63.94 418.20L65.09 418.19L66.25 418.19L67.41 418.19L68.56 418.19L69.72 418.19L70.88 418.19L72.04 418.18L73.19 418.18L74.35 418.17L75.51 418.17L76.67 418.16L77.83 418.16L78.98 418.15L80.14 418.14L81.30 418.13L82.45 418.12L83.61 418.10L84.77 418.08L85.93 418.07L87.09 418.04L88.24 418.02L89.40 417.99L90.56 417.96L91.72 417.93L92.87 417.89L94.03 417.85L95.19 417.80L96.34 417.75L97.50 417.69L98.66 417.62L99.82 417.55L100.97 417.47L102.13 417.39L103.29 417.29L104.45 417.19L105.61 417.08L106.76 416.96L107.92 416.82L109.08 416.68L110.24 416.53L111.39 416.36L112.55 416.19L113.71 415.99L114.87 415.79L116.02 415.57L117.18 415.34L118.34 415.09L119.50 414.83L120.65 414.55L121.81 414.26L122.97 413.95L124.12 413.62L125.28 413.27L126.44 412.91L127.60 412.53L128.75 412.13L129.91 411.71L131.07 411.27L132.23 410.82L133.38 410.34L134.54 409.85L135.70 409.34L136.86 408.80L138.02 408.25L139.17 407.68L140.33 407.09L141.49 406.49L142.65 405.86L143.80 405.21L144.96 404.55L146.12 403.87L147.28 403.17L148.43 402.45L149.59 401.71L150.75 400.96L151.91 400.20L153.06 399.41L154.22 398.61L155.38 397.80L156.53 396.97L157.69 396.13L158.85 395.27L160.01 394.40L161.16 393.52L162.32 392.63L163.48 391.72L164.64 390.81L165.79 389.88L166.95 388.95L168.11 388.01L169.27 387.06L170.43 386.10L171.58 385.13L172.74 384.16L173.90 383.18L175.06 382.20L176.21 381.21L177.37 380.22L178.53 379.23L179.68 378.23L180.84 377.23L182.00 376.23L183.16 375.23L184.31 374.23L185.47 373.23L186.63 372.23L187.79 371.23L188.94 370.23L190.10 369.24L191.26 368.24L192.42 367.26L193.57 366.27L194.73 365.29L195.89 364.31L197.05 363.34L198.20 362.37L199.36 361.41L200.52 360.45L201.68 359.50L202.84 358.56L203.99 357.62L205.15 356.69L206.31 355.77L207.46 354.86L208.62 353.95L209.78 353.06L210.94 352.17L212.09 351.29L213.25 350.41L214.41 349.55L215.57 348.70L216.72 347.85L217.88 347.02L219.04 346.19L220.20 345.38L221.35 344.57L222.51 343.78L223.67 342.99L224.83 342.21L225.98 341.45L227.14 340.69L228.30 339.95L229.46 339.21L230.62 338.48L231.77 337.77L232.93 337.06L234.09 336.37L235.24 335.68L236.40 335.01L237.56 334.35L238.72 333.69L239.88 333.05L241.03 332.41L242.19 331.79L243.35 331.18L244.50 330.57L245.66 329.98L246.82 329.39L247.98 328.82L249.13 328.25L250.29 327.70L251.45 327.15L252.61 326.62L253.76 326.09L254.92 325.57L256.08 325.06L257.24 324.56L258.40 324.07L259.55 323.59L260.71 323.12L261.87 322.65L263.02 322.20L264.18 321.75L265.34 321.31L266.50 320.88L267.65 320.45L268.81 320.04L269.97 319.63L271.13 319.23L272.29 318.84L273.44 318.45L274.60 318.08L275.76 317.71L276.92 317.34L278.07 316.99L279.23 316.64L280.39 316.30L281.54 315.96L282.70 315.64L283.86 315.31L285.02 315.00L286.18 314.69L287.33 314.39L288.49 314.09L289.65 313.80L290.81 313.52L291.96 313.24L293.12 312.97L294.28 312.70L295.44 312.44L296.59 312.18L297.75 311.93L298.91 311.68L300.07 311.44L301.22 311.21L302.38 310.98L303.54 310.75L304.69 310.53L305.85 310.31L307.01 310.10L308.17 309.89L309.32 309.69L310.48 309.49L311.64 309.30L312.80 309.11L313.96 308.92" fill="none" stroke="#2222DD" stroke-width="1.30" stroke-linejoin="round"/>
<path d="M43.10 418.20L44.26 418.20L45.41 418.20L46.57 418.20L47.73 418.20L48.89 418.20L50.05 418.20L51.20 418.20L52.36 418.20L53.52 418.20L54.67 418.20L55.83 418.20L56.99 418.20L58.15 418.20L59.30 418.20L60.46 418.20L61.62 418.19L62.78 418.19L63.94 418.19L65.09 418.19L66.25 418.19L67.41 418.19L68.56 418.19L69.72 418.18L70.88 418.18L72.04 418.18L73.19 418.17L74.35 418.17L75.51 418.16L76.67 418.16L77.83 418.15L78.98 418.14L80.14 418.13L81.30 418.12L82.45 418.11L83.61 418.10L84.77 418.08L85.93 418.07L87.09 418.05L88.24 418.02L89.40 418.00L90.56 417.97L91.72 417.94L92.87 417.91L94.03 417.87L95.19 417.82L96.34 417.78L97.50 417.72L98.66 417.66L99.82 417.60L100.97 417.53L102.13 417.45L103.29 417.36L104.45 417.27L105.61 417.17L106.76 417.06L107.92 416.94L109.08 416.81L110.24 416.67L111.39 416.51L112.55 416.35L113.71 416.17L114.87 415.98L116.02 415.78L117.18 415.56L118.34 415.33L119.50 415.08L120.65 414.82L121.81 414.54L122.97 414.24L124.12 413.93L125.28 413.60L126.44 413.25L127.60 412.88L128.75 412.49L129.91 412.08L131.07 411.65L132.23 411.20L133.38 410.74L134.54 410.25L135.70 409.73L136.86 409.20L138.02 408.65L139.17 408.07L140.33 407.48L141.49 406.86L142.65 406.22L143.80 405.56L144.96 404.88L146.12 404.18L147.28 403.45L148.43 402.71L149.59 401.94L150.75 401.15L151.91 400.35L153.06 399.52L154.22 398.68L155.38 397.82L156.53 396.94L157.69 396.04L158.85 395.12L160.01 394.19L161.16 393.25L162.32 392.28L163.48 391.31L164.64 390.32L165.79 389.31L166.95 388.30L168.11 387.27L169.27 386.23L170.43 385.18L171.58 384.12L172.74 383.05L173.90 381.98L175.06 380.90L176.21 379.81L177.37 378.71L178.53 377.62L179.68 376.51L180.84 375.41L182.00 374.30L183.16 373.18L184.31 372.07L185.47 370.96L186.63 369.85L187.79 368.73L188.94 367.62L190.10 366.51L191.26 365.41L192.42 364.31L193.57 363.21L194.73 362.11L195.89 361.02L197.05 359.94L198.20 358.86L199.36 357.79L200.52 356.73L201.68 355.67L202.84 354.62L203.99 353.58L205.15 352.55L206.31 351.53L207.46 350.52L208.62 349.51L209.78 348.52L210.94 347.54L212.09 346.56L213.25 345.60L214.41 344.65L215.57 343.71L216.72 342.78L217.88 341.86L219.04 340.96L220.20 340.06L221.35 339.18L222.51 338.31L223.67 337.45L224.83 336.60L225.98 335.77L227.14 334.95L228.30 334.14L229.46 333.34L230.62 332.56L231.77 331.78L232.93 331.02L234.09 330.27L235.24 329.54L236.40 328.81L237.56 328.10L238.72 327.40L239.88 326.71L241.03 326.04L242.19 325.37L243.35 324.72L244.50 324.08L245.66 323.45L246.82 322.83L247.98 322.22L249.13 321.63L250.29 321.04L251.45 320.47L252.61 319.91L253.76 319.35L254.92 318.81L256.08 318.28L257.24 317.76L258.40 317.25L259.55 316.75L260.71 316.26L261.87 315.78L263.02 315.31L264.18 314.85L265.34 314.39L266.50 313.95L267.65 313.52L268.81 313.09L269.97 312.68L271.13 312.27L272.29 311.87L273.44 311.48L274.60 311.10L275.76 310.72L276.92 310.36L278.07 310.00L279.23 309.65L280.39 309.30L281.54 308.97L282.70 308.64L283.86 308.31L285.02 308.00L286.18 307.69L287.33 307.39L288.49 307.10L289.65 306.81L290.81 306.53L291.96 306.25L293.12 305.98L294.28 305.72L295.44 305.46L296.59 305.21L297.75 304.96L298.91 304.72L300.07 304.48L301.22 304.25L302.38 304.03L303.54 303.81L304.69 303.59L305.85 303.38L307.01 303.18L308.17 302.98L309.32 302.78L310.48 302.59L311.64 302.40L312.80 302.22L313.96 302.04" fill="none" stroke="#2222DD" stroke-width="1.30" stroke-linejoin="round"/>
<path d="M43.10 418.20L44.26 418.20L45.41 418.20L46.57 418.20L47.73 418.20L48.89 418.20L50.05 418.20L51.20 418.20L52.36 418.20L53.52 418.20L54.67 418.20L55.83 418.20L56.99 418.20L58.15 418.19L59.30 418.19L60.46 418.19L61.62 418.19L62.78 418.19L63.94 418.19L65.09 418.19L66.25 418.18L67.41 418.18L68.56 418.18L69.72 418.18L70.88 418.17L72.04 418.17L73.19 418.16L74.35 418.16L75.51 418.15L76.67 418.14L77.83 418.13L78.98 418.12L80.14 418.11L81.30 418.10L82.45 418.08L83.61 418.07L84.77 418.05L85.93 418.03L87.09 418.01L88.24 417.98L89.40 417.95L90.56 417.92L91.72 417.88L92.87 417.84L94.03 417.80L95.19 417.75L96.34 417.70L97.50 417.64L98.66 417.57L99.82 417.50L100.97 417.42L102.13 417.33L103.29 417.24L104.45 417.14L105.61 417.03L106.76 416.90L107.92 416.77L109.08 416.63L110.24 416.48L111.39 416.31L112.55 416.14L113.71 415.95L114.87 415.74L116.02 415.53L117.18 415.29L118.34 415.04L119.50 414.78L120.65 414.50L121.81 414.20L122.97 413.88L124.12 413.55L125.28 413.19L126.44 412.82L127.60 412.43L128.75 412.02L129.91 411.58L131.07 411.13L132.23 410.65L133.38 410.15L134.54 409.63L135.70 409.09L136.86 408.52L138.02 407.93L139.17 407.32L140.33 406.69L141.49 406.03L142.65 405.35L143.80 404.65L144.96 403.92L146.12 403.17L147.28 402.40L148.43 401.61L149.59 400.79L150.75 399.96L151.91 399.10L153.06 398.22L154.22 397.32L155.38 396.40L156.53 395.46L157.69 394.51L158.85 393.53L160.01 392.54L161.16 391.53L162.32 390.51L163.48 389.47L164.64 388.42L165.79 387.35L166.95 386.27L168.11 385.17L169.27 384.07L170.43 382.96L171.58 381.83L172.74 380.70L173.90 379.56L175.06 378.41L176.21 377.26L177.37 376.10L178.53 374.93L179.68 373.77L180.84 372.60L182.00 371.42L183.16 370.25L184.31 369.08L185.47 367.90L186.63 366.73L187.79 365.56L188.94 364.39L190.10 363.23L191.26 362.07L192.42 360.91L193.57 359.76L194.73 358.62L195.89 357.48L197.05 356.35L198.20 355.22L199.36 354.11L200.52 353.00L201.68 351.90L202.84 350.81L203.99 349.73L205.15 348.67L206.31 347.61L207.46 346.56L208.62 345.53L209.78 344.50L210.94 343.49L212.09 342.49L213.25 341.50L214.41 340.53L215.57 339.56L216.72 338.61L217.88 337.68L219.04 336.75L220.20 335.84L221.35 334.95L222.51 334.06L223.67 333.19L224.83 332.33L225.98 331.49L227.14 330.66L228.30 329.85L229.46 329.04L230.62 328.25L231.77 327.48L232.93 326.72L234.09 325.97L235.24 325.23L236.40 324.51L237.56 323.80L238.72 323.10L239.88 322.42L241.03 321.75L242.19 321.09L243.35 320.45L244.50 319.82L245.66 319.20L246.82 318.59L247.98 317.99L249.13 317.41L250.29 316.83L251.45 316.27L252.61 315.72L253.76 315.19L254.92 314.66L256.08 314.14L257.24 313.64L258.40 313.14L259.55 312.66L260.71 312.19L261.87 311.72L263.02 311.27L264.18 310.82L265.34 310.39L266.50 309.97L267.65 309.55L268.81 309.14L269.97 308.75L271.13 308.36L272.29 307.98L273.44 307.61L274.60 307.24L275.76 306.89L276.92 306.54L278.07 306.20L279.23 305.87L280.39 305.55L281.54 305.23L282.70 304.93L283.86 304.62L285.02 304.33L286.18 304.04L287.33 303.76L288.49 303.48L289.65 303.22L290.81 302.95L291.96 302.70L293.12 302.45L294.28 302.20L295.44 301.97L296.59 301.73L297.75 301.51L298.91 301.28L300.07 301.07L301.22 300.86L302.38 300.65L303.54 300.45L304.69 300.25L305.85 300.06L307.01 299.87L308.17 299.69L309.32 299.51L310.48 299.34L311.64 299.17L312.80 299.00L313.96 298.84" fill="none" stroke="#E02030" stroke-width="1.30" stroke-linejoin="round"/>
<path d="M43.10 418.20L44.26 418.20L45.41 418.20L46.57 418.20L47.73 418.20L48.89 418.20L50.05 418.20L51.20 418.20L52.36 418.20L53.52 418.20L54.67 418.20L55.83 418.20L56.99 418.20L58.15 418.19L59.30 418.19L60.46 418.19L61.62 418.19L62.78 418.19L63.94 418.19L65.09 418.19L66.25 418.18L67.41 418.18L68.56 418.18L69.72 418.18L70.88 418.17L72.04 418.17L73.19 418.16L74.35 418.16L75.51 418.15L76.67 418.14L77.83 418.13L78.98 418.13L80.14 418.11L81.30 418.10L82.45 418.09L83.61 418.07L84.77 418.05L85.93 418.03L87.09 418.01L88.24 417.99L89.40 417.96L90.56 417.93L91.72 417.89L92.87 417.85L94.03 417.81L95.19 417.76L96.34 417.71L97.50 417.65L98.66 417.58L99.82 417.51L100.97 417.43L102.13 417.35L103.29 417.25L104.45 417.15L105.61 417.04L106.76 416.92L107.92 416.79L109.08 416.65L110.24 416.50L111.39 416.33L112.55 416.15L113.71 415.96L114.87 415.76L116.02 415.54L117.18 415.31L118.34 415.06L119.50 414.79L120.65 414.51L121.81 414.20L122.97 413.88L124.12 413.55L125.28 413.19L126.44 412.81L127.60 412.41L128.75 411.99L129.91 411.55L131.07 411.09L132.23 410.60L133.38 410.09L134.54 409.56L135.70 409.01L136.86 408.43L138.02 407.83L139.17 407.20L140.33 406.55L141.49 405.88L142.65 405.18L143.80 404.46L144.96 403.72L146.12 402.95L147.28 402.15L148.43 401.34L149.59 400.50L150.75 399.64L151.91 398.75L153.06 397.85L154.22 396.92L155.38 395.97L156.53 395.00L157.69 394.01L158.85 393.00L160.01 391.98L161.16 390.93L162.32 389.87L163.48 388.79L164.64 387.70L165.79 386.59L166.95 385.46L168.11 384.33L169.27 383.18L170.43 382.02L171.58 380.85L172.74 379.67L173.90 378.48L175.06 377.28L176.21 376.08L177.37 374.87L178.53 373.66L179.68 372.44L180.84 371.21L182.00 369.99L183.16 368.76L184.31 367.53L185.47 366.31L186.63 365.08L187.79 363.85L188.94 362.63L190.10 361.41L191.26 360.19L192.42 358.98L193.57 357.77L194.73 356.57L195.89 355.37L197.05 354.18L198.20 353.00L199.36 351.83L200.52 350.67L201.68 349.51L202.84 348.37L203.99 347.23L205.15 346.11L206.31 344.99L207.46 343.89L208.62 342.80L209.78 341.72L210.94 340.65L212.09 339.60L213.25 338.56L214.41 337.53L215.57 336.52L216.72 335.51L217.88 334.52L219.04 333.55L220.20 332.59L221.35 331.64L222.51 330.71L223.67 329.79L224.83 328.88L225.98 327.99L227.14 327.12L228.30 326.25L229.46 325.41L230.62 324.57L231.77 323.75L232.93 322.95L234.09 322.15L235.24 321.38L236.40 320.61L237.56 319.86L238.72 319.13L239.88 318.40L241.03 317.69L242.19 317.00L243.35 316.31L244.50 315.64L245.66 314.99L246.82 314.34L247.98 313.71L249.13 313.09L250.29 312.49L251.45 311.89L252.61 311.31L253.76 310.74L254.92 310.18L256.08 309.64L257.24 309.10L258.40 308.58L259.55 308.06L260.71 307.56L261.87 307.07L263.02 306.59L264.18 306.12L265.34 305.66L266.50 305.21L267.65 304.77L268.81 304.34L269.97 303.91L271.13 303.50L272.29 303.10L273.44 302.71L274.60 302.32L275.76 301.94L276.92 301.58L278.07 301.22L279.23 300.87L280.39 300.52L281.54 300.19L282.70 299.86L283.86 299.54L285.02 299.23L286.18 298.92L287.33 298.62L288.49 298.33L289.65 298.05L290.81 297.77L291.96 297.50L293.12 297.23L294.28 296.97L295.44 296.72L296.59 296.47L297.75 296.23L298.91 296.00L300.07 295.77L301.22 295.54L302.38 295.32L303.54 295.11L304.69 294.90L305.85 294.70L307.01 294.50L308.17 294.30L309.32 294.11L310.48 293.93L311.64 293.75L312.80 293.57L313.96 293.40" fill="none" stroke="#2222DD" stroke-width="1.30" stroke-linejoin="round"/>
<path d="M43.10 418.20L44.26 418.20L45.41 418.20L46.57 418.20L47.73 418.20L48.89 418.20L50.05 418.20L51.20 418.20L52.36 418.20L53.52 418.20L54.67 418.20L55.83 418.19L56.99 418.19L58.15 418.19L59.30 418.19L60.46 418.19L61.62 418.19L62.78 418.19L63.94 418.18L65.09 418.18L66.25 418.18L67.41 418.17L68.56 418.17L69.72 418.17L70.88 418.16L72.04 418.16L73.19 418.15L74.35 418.14L75.51 418.13L76.67 418.12L77.83 418.11L78.98 418.10L80.14 418.09L81.30 418.07L82.45 418.06L83.61 418.04L84.77 418.02L85.93 417.99L87.09 417.97L88.24 417.94L89.40 417.91L90.56 417.87L91.72 417.83L92.87 417.79L94.03 417.74L95.19 417.69L96.34 417.63L97.50 417.56L98.66 417.49L99.82 417.41L100.97 417.33L102.13 417.24L103.29 417.14L104.45 417.03L105.61 416.91L106.76 416.78L107.92 416.64L109.08 416.49L110.24 416.33L111.39 416.15L112.55 415.96L113.71 415.76L114.87 415.55L116.02 415.32L117.18 415.07L118.34 414.81L119.50 414.52L120.65 414.23L121.81 413.91L122.97 413.57L124.12 413.22L125.28 412.84L126.44 412.44L127.60 412.03L128.75 411.59L129.91 411.12L131.07 410.64L132.23 410.13L133.38 409.60L134.54 409.04L135.70 408.46L136.86 407.85L138.02 407.22L139.17 406.56L140.33 405.88L141.49 405.17L142.65 404.44L143.80 403.68L144.96 402.90L146.12 402.09L147.28 401.26L148.43 400.40L149.59 399.52L150.75 398.62L151.91 397.69L153.06 396.74L154.22 395.76L155.38 394.77L156.53 393.75L157.69 392.71L158.85 391.65L160.01 390.58L161.16 389.48L162.32 388.37L163.48 387.23L164.64 386.09L165.79 384.93L166.95 383.75L168.11 382.56L169.27 381.36L170.43 380.15L171.58 378.92L172.74 377.69L173.90 376.45L175.06 375.20L176.21 373.94L177.37 372.68L178.53 371.42L179.68 370.15L180.84 368.88L182.00 367.60L183.16 366.33L184.31 365.05L185.47 363.78L186.63 362.51L187.79 361.24L188.94 359.98L190.10 358.71L191.26 357.46L192.42 356.21L193.57 354.97L194.73 353.73L195.89 352.50L197.05 351.28L198.20 350.07L199.36 348.87L200.52 347.68L201.68 346.50L202.84 345.33L203.99 344.17L205.15 343.03L206.31 341.90L207.46 340.78L208.62 339.67L209.78 338.58L210.94 337.50L212.09 336.44L213.25 335.38L214.41 334.35L215.57 333.33L216.72 332.32L217.88 331.33L219.04 330.35L220.20 329.39L221.35 328.44L222.51 327.51L223.67 326.60L224.83 325.70L225.98 324.81L227.14 323.94L228.30 323.09L229.46 322.25L230.62 321.43L231.77 320.62L232.93 319.83L234.09 319.05L235.24 318.29L236.40 317.54L237.56 316.80L238.72 316.08L239.88 315.38L241.03 314.69L242.19 314.01L243.35 313.35L244.50 312.70L245.66 312.06L246.82 311.44L247.98 310.83L249.13 310.24L250.29 309.66L251.45 309.09L252.61 308.53L253.76 307.98L254.92 307.45L256.08 306.93L257.24 306.42L258.40 305.92L259.55 305.43L260.71 304.96L261.87 304.49L263.02 304.04L264.18 303.60L265.34 303.16L266.50 302.74L267.65 302.33L268.81 301.92L269.97 301.53L271.13 301.14L272.29 300.77L273.44 300.40L274.60 300.04L275.76 299.70L276.92 299.36L278.07 299.02L279.23 298.70L280.39 298.38L281.54 298.07L282.70 297.77L283.86 297.48L285.02 297.19L286.18 296.91L287.33 296.64L288.49 296.38L289.65 296.12L290.81 295.86L291.96 295.62L293.12 295.38L294.28 295.14L295.44 294.92L296.59 294.69L297.75 294.48L298.91 294.27L300.07 294.06L301.22 293.86L302.38 293.66L303.54 293.47L304.69 293.29L305.85 293.11L307.01 292.93L308.17 292.76L309.32 292.59L310.48 292.43L311.64 292.27L312.80 292.11L313.96 291.96" fill="none" stroke="#2222DD" stroke-width="1.30" stroke-linejoin="round"/>
<path d="M43.10 418.20L44.26 418.20L45.41 418.20L46.57 418.20L47.73 418.20L48.89 418.20L50.05 418.20L51.20 418.20L52.36 418.20L53.52 418.20L54.67 418.19L55.83 418.19L56.99 418.19L58.15 418.19L59.30 418.19L60.46 418.19L61.62 418.19L62.78 418.18L63.94 418.18L65.09 418.18L66.25 418.18L67.41 418.17L68.56 418.17L69.72 418.16L70.88 418.16L72.04 418.15L73.19 418.15L74.35 418.14L75.51 418.13L76.67 418.12L77.83 418.11L78.98 418.10L80.14 418.09L81.30 418.07L82.45 418.06L83.61 418.04L84.77 418.02L85.93 418.00L87.09 417.98L88.24 417.95L89.40 417.92L90.56 417.89L91.72 417.86L92.87 417.82L94.03 417.77L95.19 417.73L96.34 417.68L97.50 417.62L98.66 417.56L99.82 417.49L100.97 417.42L102.13 417.34L103.29 417.25L104.45 417.15L105.61 417.05L106.76 416.94L107.92 416.81L109.08 416.68L110.24 416.54L111.39 416.39L112.55 416.22L113.71 416.04L114.87 415.85L116.02 415.64L117.18 415.42L118.34 415.19L119.50 414.93L120.65 414.66L121.81 414.38L122.97 414.07L124.12 413.75L125.28 413.40L126.44 413.03L127.60 412.65L128.75 412.24L129.91 411.81L131.07 411.35L132.23 410.87L133.38 410.37L134.54 409.84L135.70 409.28L136.86 408.70L138.02 408.10L139.17 407.46L140.33 406.80L141.49 406.11L142.65 405.40L143.80 404.65L144.96 403.88L146.12 403.08L147.28 402.26L148.43 401.41L149.59 400.52L150.75 399.62L151.91 398.68L153.06 397.72L154.22 396.73L155.38 395.72L156.53 394.68L157.69 393.62L158.85 392.54L160.01 391.43L161.16 390.30L162.32 389.15L163.48 387.98L164.64 386.79L165.79 385.58L166.95 384.35L168.11 383.11L169.27 381.85L170.43 380.58L171.58 379.29L172.74 377.99L173.90 376.69L175.06 375.37L176.21 374.04L177.37 372.70L178.53 371.36L179.68 370.01L180.84 368.66L182.00 367.30L183.16 365.95L184.31 364.59L185.47 363.23L186.63 361.87L187.79 360.52L188.94 359.16L190.10 357.81L191.26 356.47L192.42 355.13L193.57 353.80L194.73 352.48L195.89 351.16L197.05 349.85L198.20 348.56L199.36 347.27L200.52 346.00L201.68 344.73L202.84 343.48L203.99 342.24L205.15 341.02L206.31 339.81L207.46 338.61L208.62 337.43L209.78 336.26L210.94 335.11L212.09 333.98L213.25 332.86L214.41 331.75L215.57 330.67L216.72 329.60L217.88 328.55L219.04 327.51L220.20 326.49L221.35 325.49L222.51 324.51L223.67 323.54L224.83 322.59L225.98 321.66L227.14 320.75L228.30 319.85L229.46 318.97L230.62 318.11L231.77 317.27L232.93 316.44L234.09 315.63L235.24 314.83L236.40 314.06L237.56 313.30L238.72 312.55L239.88 311.82L241.03 311.11L242.19 310.41L243.35 309.73L244.50 309.07L245.66 308.42L246.82 307.78L247.98 307.16L249.13 306.56L250.29 305.96L251.45 305.39L252.61 304.82L253.76 304.27L254.92 303.74L256.08 303.21L257.24 302.70L258.40 302.20L259.55 301.72L260.71 301.24L261.87 300.78L263.02 300.33L264.18 299.89L265.34 299.47L266.50 299.05L267.65 298.64L268.81 298.25L269.97 297.86L271.13 297.49L272.29 297.12L273.44 296.77L274.60 296.42L275.76 296.09L276.92 295.76L278.07 295.44L279.23 295.13L280.39 294.83L281.54 294.54L282.70 294.25L283.86 293.97L285.02 293.70L286.18 293.44L287.33 293.18L288.49 292.93L289.65 292.69L290.81 292.46L291.96 292.23L293.12 292.01L294.28 291.79L295.44 291.58L296.59 291.38L297.75 291.18L298.91 290.98L300.07 290.80L301.22 290.61L302.38 290.44L303.54 290.26L304.69 290.10L305.85 289.93L307.01 289.78L308.17 289.62L309.32 289.47L310.48 289.33L311.64 289.19L312.80 289.05L313.96 288.92" fill="none" stroke="#E02030" stroke-width="1.30" stroke-linejoin="round"/>
<path d="M43.10 418.20L44.26 418.20L45.41 418.20L46.57 418.20L47.73 418.20L48.89 418.20L50.05 418.20L51.20 418.20L52.36 418.20L53.52 418.20L54.67 418.19L55.83 418.19L56.99 418.19L58.15 418.19L59.30 418.19L60.46 418.19L61.62 418.18L62.78 418.18L63.94 418.18L65.09 418.18L66.25 418.17L67.41 418.17L68.56 418.16L69.72 418.16L70.88 418.15L72.04 418.15L73.19 418.14L74.35 418.13L75.51 418.13L76.67 418.12L77.83 418.10L78.98 418.09L80.14 418.08L81.30 418.06L82.45 418.05L83.61 418.03L84.77 418.01L85.93 417.99L87.09 417.96L88.24 417.93L89.40 417.90L90.56 417.87L91.72 417.83L92.87 417.79L94.03 417.74L95.19 417.69L96.34 417.64L97.50 417.58L98.66 417.51L99.82 417.44L100.97 417.37L102.13 417.28L103.29 417.19L104.45 417.09L105.61 416.98L106.76 416.86L107.92 416.73L109.08 416.59L110.24 416.44L111.39 416.28L112.55 416.11L113.71 415.92L114.87 415.72L116.02 415.50L117.18 415.27L118.34 415.02L119.50 414.76L120.65 414.48L121.81 414.18L122.97 413.86L124.12 413.52L125.28 413.16L126.44 412.78L127.60 412.38L128.75 411.95L129.91 411.51L131.07 411.03L132.23 410.54L133.38 410.02L134.54 409.47L135.70 408.90L136.86 408.30L138.02 407.67L139.17 407.02L140.33 406.34L141.49 405.63L142.65 404.90L143.80 404.13L144.96 403.34L146.12 402.52L147.28 401.68L148.43 400.80L149.59 399.90L150.75 398.98L151.91 398.02L153.06 397.04L154.22 396.03L155.38 395.00L156.53 393.95L157.69 392.87L158.85 391.76L160.01 390.64L161.16 389.49L162.32 388.32L163.48 387.13L164.64 385.93L165.79 384.70L166.95 383.46L168.11 382.20L169.27 380.93L170.43 379.64L171.58 378.34L172.74 377.03L173.90 375.71L175.06 374.38L176.21 373.04L177.37 371.70L178.53 370.34L179.68 368.99L180.84 367.63L182.00 366.26L183.16 364.90L184.31 363.54L185.47 362.17L186.63 360.81L187.79 359.45L188.94 358.09L190.10 356.74L191.26 355.39L192.42 354.05L193.57 352.72L194.73 351.40L195.89 350.08L197.05 348.77L198.20 347.48L199.36 346.19L200.52 344.92L201.68 343.66L202.84 342.41L203.99 341.17L205.15 339.95L206.31 338.74L207.46 337.55L208.62 336.37L209.78 335.21L210.94 334.06L212.09 332.93L213.25 331.82L214.41 330.72L215.57 329.64L216.72 328.58L217.88 327.53L219.04 326.50L220.20 325.49L221.35 324.49L222.51 323.52L223.67 322.56L224.83 321.61L225.98 320.69L227.14 319.78L228.30 318.89L229.46 318.02L230.62 317.16L231.77 316.33L232.93 315.51L234.09 314.70L235.24 313.91L236.40 313.14L237.56 312.39L238.72 311.65L239.88 310.93L241.03 310.22L242.19 309.53L243.35 308.86L244.50 308.20L245.66 307.56L246.82 306.93L247.98 306.31L249.13 305.71L250.29 305.13L251.45 304.55L252.61 304.00L253.76 303.45L254.92 302.92L256.08 302.40L257.24 301.90L258.40 301.40L259.55 300.92L260.71 300.46L261.87 300.00L263.02 299.55L264.18 299.12L265.34 298.70L266.50 298.29L267.65 297.89L268.81 297.49L269.97 297.11L271.13 296.74L272.29 296.38L273.44 296.03L274.60 295.69L275.76 295.36L276.92 295.03L278.07 294.72L279.23 294.41L280.39 294.11L281.54 293.82L282.70 293.54L283.86 293.27L285.02 293.00L286.18 292.74L287.33 292.49L288.49 292.24L289.65 292.00L290.81 291.77L291.96 291.55L293.12 291.33L294.28 291.11L295.44 290.91L296.59 290.70L297.75 290.51L298.91 290.32L300.07 290.13L301.22 289.95L302.38 289.78L303.54 289.61L304.69 289.44L305.85 289.28L307.01 289.13L308.17 288.97L309.32 288.83L310.48 288.68L311.64 288.55L312.80 288.41L313.96 288.28" fill="none" stroke="#EE22EE" stroke-width="1.40" stroke-linejoin="round"/>
<path d="M43.10 418.20L44.26 418.20L45.41 418.20L46.57 418.20L47.73 418.20L48.89 418.20L50.05 418.20L51.20 418.20L52.36 418.20L53.52 418.19L54.67 418.19L55.83 418.19L56.99 418.19L58.15 418.19L59.30 418.19L60.46 418.19L61.62 418.18L62.78 418.18L63.94 418.18L65.09 418.17L66.25 418.17L67.41 418.17L68.56 418.16L69.72 418.16L70.88 418.15L72.04 418.14L73.19 418.14L74.35 418.13L75.51 418.12L76.67 418.11L77.83 418.10L78.98 418.08L80.14 418.07L81.30 418.05L82.45 418.04L83.61 418.02L84.77 417.99L85.93 417.97L87.09 417.94L88.24 417.91L89.40 417.88L90.56 417.84L91.72 417.80L92.87 417.76L94.03 417.71L95.19 417.66L96.34 417.60L97.50 417.54L98.66 417.47L99.82 417.39L100.97 417.31L102.13 417.22L103.29 417.12L104.45 417.01L105.61 416.90L106.76 416.77L107.92 416.63L109.08 416.49L110.24 416.33L111.39 416.16L112.55 415.97L113.71 415.78L114.87 415.57L116.02 415.34L117.18 415.10L118.34 414.84L119.50 414.56L120.65 414.26L121.81 413.95L122.97 413.62L124.12 413.26L125.28 412.89L126.44 412.49L127.60 412.07L128.75 411.63L129.91 411.16L131.07 410.67L132.23 410.16L133.38 409.61L134.54 409.05L135.70 408.45L136.86 407.83L138.02 407.18L139.17 406.51L140.33 405.81L141.49 405.07L142.65 404.32L143.80 403.53L144.96 402.71L146.12 401.87L147.28 401.00L148.43 400.10L149.59 399.18L150.75 398.22L151.91 397.24L153.06 396.24L154.22 395.21L155.38 394.15L156.53 393.07L157.69 391.97L158.85 390.84L160.01 389.69L161.16 388.52L162.32 387.33L163.48 386.12L164.64 384.89L165.79 383.64L166.95 382.38L168.11 381.10L169.27 379.81L170.43 378.50L171.58 377.18L172.74 375.85L173.90 374.51L175.06 373.17L176.21 371.81L177.37 370.45L178.53 369.08L179.68 367.71L180.84 366.33L182.00 364.96L183.16 363.58L184.31 362.20L185.47 360.83L186.63 359.45L187.79 358.08L188.94 356.72L190.10 355.36L191.26 354.00L192.42 352.65L193.57 351.31L194.73 349.98L195.89 348.66L197.05 347.35L198.20 346.04L199.36 344.75L200.52 343.48L201.68 342.21L202.84 340.96L203.99 339.72L205.15 338.49L206.31 337.28L207.46 336.09L208.62 334.91L209.78 333.75L210.94 332.60L212.09 331.47L213.25 330.35L214.41 329.26L215.57 328.18L216.72 327.11L217.88 326.07L219.04 325.04L220.20 324.03L221.35 323.03L222.51 322.06L223.67 321.10L224.83 320.16L225.98 319.24L227.14 318.33L228.30 317.44L229.46 316.57L230.62 315.72L231.77 314.88L232.93 314.07L234.09 313.26L235.24 312.48L236.40 311.71L237.56 310.96L238.72 310.23L239.88 309.51L241.03 308.80L242.19 308.12L243.35 307.45L244.50 306.79L245.66 306.15L246.82 305.52L247.98 304.91L249.13 304.31L250.29 303.73L251.45 303.16L252.61 302.61L253.76 302.07L254.92 301.54L256.08 301.02L257.24 300.52L258.40 300.03L259.55 299.55L260.71 299.09L261.87 298.63L263.02 298.19L264.18 297.76L265.34 297.34L266.50 296.93L267.65 296.53L268.81 296.15L269.97 295.77L271.13 295.40L272.29 295.04L273.44 294.69L274.60 294.35L275.76 294.02L276.92 293.70L278.07 293.39L279.23 293.09L280.39 292.79L281.54 292.50L282.70 292.22L283.86 291.95L285.02 291.68L286.18 291.43L287.33 291.18L288.49 290.93L289.65 290.69L290.81 290.46L291.96 290.24L293.12 290.02L294.28 289.81L295.44 289.60L296.59 289.40L297.75 289.21L298.91 289.02L300.07 288.84L301.22 288.66L302.38 288.49L303.54 288.32L304.69 288.15L305.85 287.99L307.01 287.84L308.17 287.69L309.32 287.54L310.48 287.40L311.64 287.26L312.80 287.13L313.96 287.00" fill="none" stroke="#EE22EE" stroke-width="1.40" stroke-linejoin="round"/>
<path d="M43.10 418.20L44.26 418.20L45.41 418.20L46.57 418.20L47.73 418.20L48.89 418.20L50.05 418.20L51.20 418.20L52.36 418.20L53.52 418.19L54.67 418.19L55.83 418.19L56.99 418.19L58.15 418.19L59.30 418.19L60.46 418.18L61.62 418.18L62.78 418.18L63.94 418.18L65.09 418.17L66.25 418.17L67.41 418.16L68.56 418.16L69.72 418.15L70.88 418.15L72.04 418.14L73.19 418.13L74.35 418.12L75.51 418.11L76.67 418.10L77.83 418.09L78.98 418.07L80.14 418.06L81.30 418.04L82.45 418.02L83.61 418.00L84.77 417.98L85.93 417.95L87.09 417.92L88.24 417.89L89.40 417.86L90.56 417.82L91.72 417.77L92.87 417.73L94.03 417.67L95.19 417.62L96.34 417.56L97.50 417.49L98.66 417.41L99.82 417.33L100.97 417.25L102.13 417.15L103.29 417.04L104.45 416.93L105.61 416.81L106.76 416.68L107.92 416.53L109.08 416.38L110.24 416.21L111.39 416.03L112.55 415.84L113.71 415.63L114.87 415.41L116.02 415.17L117.18 414.91L118.34 414.64L119.50 414.35L120.65 414.04L121.81 413.71L122.97 413.36L124.12 412.99L125.28 412.60L126.44 412.19L127.60 411.75L128.75 411.29L129.91 410.80L131.07 410.29L132.23 409.76L133.38 409.20L134.54 408.61L135.70 407.99L136.86 407.35L138.02 406.68L139.17 405.98L140.33 405.25L141.49 404.50L142.65 403.72L143.80 402.90L144.96 402.06L146.12 401.20L147.28 400.30L148.43 399.38L149.59 398.43L150.75 397.45L151.91 396.45L153.06 395.42L154.22 394.36L155.38 393.28L156.53 392.17L157.69 391.05L158.85 389.89L160.01 388.72L161.16 387.53L162.32 386.31L163.48 385.08L164.64 383.83L165.79 382.56L166.95 381.28L168.11 379.98L169.27 378.66L170.43 377.34L171.58 376.00L172.74 374.65L173.90 373.30L175.06 371.93L176.21 370.56L177.37 369.18L178.53 367.80L179.68 366.41L180.84 365.03L182.00 363.64L183.16 362.25L184.31 360.86L185.47 359.47L186.63 358.09L187.79 356.70L188.94 355.33L190.10 353.96L191.26 352.60L192.42 351.24L193.57 349.89L194.73 348.55L195.89 347.22L197.05 345.91L198.20 344.60L199.36 343.30L200.52 342.02L201.68 340.75L202.84 339.50L203.99 338.26L205.15 337.03L206.31 335.82L207.46 334.62L208.62 333.44L209.78 332.28L210.94 331.13L212.09 330.00L213.25 328.88L214.41 327.78L215.57 326.70L216.72 325.64L217.88 324.60L219.04 323.57L220.20 322.56L221.35 321.57L222.51 320.59L223.67 319.64L224.83 318.70L225.98 317.78L227.14 316.88L228.30 315.99L229.46 315.12L230.62 314.27L231.77 313.44L232.93 312.62L234.09 311.83L235.24 311.04L236.40 310.28L237.56 309.53L238.72 308.80L239.88 308.08L241.03 307.38L242.19 306.70L243.35 306.03L244.50 305.38L245.66 304.74L246.82 304.12L247.98 303.51L249.13 302.92L250.29 302.34L251.45 301.77L252.61 301.22L253.76 300.68L254.92 300.15L256.08 299.64L257.24 299.14L258.40 298.66L259.55 298.18L260.71 297.72L261.87 297.27L263.02 296.83L264.18 296.40L265.34 295.98L266.50 295.58L267.65 295.18L268.81 294.80L269.97 294.42L271.13 294.06L272.29 293.70L273.44 293.35L274.60 293.02L275.76 292.69L276.92 292.37L278.07 292.06L279.23 291.76L280.39 291.46L281.54 291.18L282.70 290.90L283.86 290.63L285.02 290.37L286.18 290.11L287.33 289.86L288.49 289.62L289.65 289.38L290.81 289.16L291.96 288.93L293.12 288.72L294.28 288.51L295.44 288.30L296.59 288.10L297.75 287.91L298.91 287.72L300.07 287.54L301.22 287.36L302.38 287.19L303.54 287.03L304.69 286.86L305.85 286.71L307.01 286.55L308.17 286.40L309.32 286.26L310.48 286.12L311.64 285.98L312.80 285.85L313.96 285.72" fill="none" stroke="#EE22EE" stroke-width="1.40" stroke-linejoin="round"/>
<path d="M43.10 418.20L44.26 418.20L45.41 418.20L46.57 418.20L47.73 418.20L48.89 418.20L50.05 418.20L51.20 418.20L52.36 418.20L53.52 418.20L54.67 418.20L55.83 418.20L56.99 418.20L58.15 418.20L59.30 418.20L60.46 418.20L61.62 418.20L62.78 418.20L63.94 418.20L65.09 418.20L66.25 418.20L67.41 418.20L68.56 418.20L69.72 418.20L70.88 418.20L72.04 418.20L73.19 418.19L74.35 418.19L75.51 418.19L76.67 418.19L77.83 418.18L78.98 418.18L80.14 418.18L81.30 418.17L82.45 418.16L83.61 418.16L84.77 418.15L85.93 418.14L87.09 418.12L88.24 418.11L89.40 418.09L90.56 418.07L91.72 418.04L92.87 418.01L94.03 417.98L95.19 417.94L96.34 417.90L97.50 417.85L98.66 417.79L99.82 417.72L100.97 417.65L102.13 417.57L103.29 417.48L104.45 417.38L105.61 417.26L106.76 417.14L107.92 417.00L109.08 416.84L110.24 416.67L111.39 416.48L112.55 416.28L113.71 416.06L114.87 415.81L116.02 415.55L117.18 415.26L118.34 414.95L119.50 414.62L120.65 414.26L121.81 413.88L122.97 413.47L124.12 413.03L125.28 412.57L126.44 412.07L127.60 411.55L128.75 410.99L129.91 410.41L131.07 409.79L132.23 409.14L133.38 408.45L134.54 407.73L135.70 406.98L136.86 406.20L138.02 405.38L139.17 404.53L140.33 403.65L141.49 402.73L142.65 401.78L143.80 400.79L144.96 399.78L146.12 398.73L147.28 397.65L148.43 396.53L149.59 395.39L150.75 394.22L151.91 393.02L153.06 391.79L154.22 390.54L155.38 389.25L156.53 387.95L157.69 386.61L158.85 385.26L160.01 383.88L161.16 382.48L162.32 381.07L163.48 379.63L164.64 378.17L165.79 376.70L166.95 375.22L168.11 373.72L169.27 372.20L170.43 370.68L171.58 369.14L172.74 367.60L173.90 366.05L175.06 364.49L176.21 362.93L177.37 361.36L178.53 359.79L179.68 358.21L180.84 356.64L182.00 355.06L183.16 353.49L184.31 351.91L185.47 350.35L186.63 348.78L187.79 347.22L188.94 345.67L190.10 344.12L191.26 342.58L192.42 341.04L193.57 339.52L194.73 338.01L195.89 336.50L197.05 335.01L198.20 333.53L199.36 332.06L200.52 330.61L201.68 329.17L202.84 327.74L203.99 326.32L205.15 324.92L206.31 323.54L207.46 322.17L208.62 320.82L209.78 319.48L210.94 318.16L212.09 316.86L213.25 315.57L214.41 314.30L215.57 313.05L216.72 311.82L217.88 310.60L219.04 309.40L220.20 308.22L221.35 307.05L222.51 305.91L223.67 304.78L224.83 303.67L225.98 302.58L227.14 301.50L228.30 300.44L229.46 299.41L230.62 298.38L231.77 297.38L232.93 296.40L234.09 295.43L235.24 294.48L236.40 293.54L237.56 292.63L238.72 291.73L239.88 290.84L241.03 289.98L242.19 289.13L243.35 288.30L244.50 287.48L245.66 286.68L246.82 285.89L247.98 285.12L249.13 284.37L250.29 283.63L251.45 282.91L252.61 282.20L253.76 281.50L254.92 280.82L256.08 280.16L257.24 279.50L258.40 278.87L259.55 278.24L260.71 277.63L261.87 277.03L263.02 276.45L264.18 275.87L265.34 275.31L266.50 274.77L267.65 274.23L268.81 273.71L269.97 273.19L271.13 272.69L272.29 272.20L273.44 271.72L274.60 271.26L275.76 270.80L276.92 270.35L278.07 269.92L279.23 269.49L280.39 269.07L281.54 268.66L282.70 268.27L283.86 267.88L285.02 267.50L286.18 267.13L287.33 266.76L288.49 266.41L289.65 266.06L290.81 265.73L291.96 265.40L293.12 265.08L294.28 264.76L295.44 264.46L296.59 264.16L297.75 263.86L298.91 263.58L300.07 263.30L301.22 263.03L302.38 262.76L303.54 262.50L304.69 262.25L305.85 262.01L307.01 261.77L308.17 261.53L309.32 261.30L310.48 261.08L311.64 260.86L312.80 260.65L313.96 260.44" fill="none" stroke="#EE22EE" stroke-width="1.40" stroke-linejoin="round"/>
<path d="M43.10 418.04L44.26 418.04L45.41 418.04L46.57 418.04L47.73 418.04L48.89 418.04L50.05 418.04L51.20 418.04L52.36 418.04L53.52 418.04L54.67 418.04L55.83 418.04L56.99 418.04L58.15 418.04L59.30 418.04L60.46 418.04L61.62 418.04L62.78 418.04L63.94 418.04L65.09 418.04L66.25 418.04L67.41 418.04L68.56 418.04L69.72 418.04L70.88 418.04L72.04 418.04L73.19 418.04L74.35 418.04L75.51 418.04L76.67 418.04L77.83 418.04L78.98 418.04L80.14 418.04L81.30 418.04L82.45 418.04L83.61 418.04L84.77 418.04L85.93 418.04L87.09 418.04L88.24 418.04L89.40 418.04L90.56 418.04L91.72 418.04L92.87 418.04L94.03 418.04L95.19 418.04L96.34 418.04L97.50 418.04L98.66 418.04L99.82 418.04L100.97 418.04L102.13 418.04L103.29 418.04L104.45 418.04L105.61 418.04L106.76 418.04L107.92 418.04L109.08 418.04L110.24 418.04L111.39 418.04L112.55 418.04L113.71 418.04L114.87 418.04L116.02 418.04L117.18 418.04L118.34 418.04L119.50 418.04L120.65 418.04L121.81 418.04L122.97 418.04L124.12 418.04L125.28 418.04L126.44 418.04L127.60 418.04L128.75 418.04L129.91 418.04L131.07 418.04L132.23 418.04L133.38 418.04L134.54 418.04L135.70 418.04L136.86 418.04L138.02 418.04L139.17 418.04L140.33 418.04L141.49 418.04L142.65 418.04L143.80 418.04L144.96 418.04L146.12 418.04L147.28 418.04L148.43 418.04L149.59 418.04L150.75 418.04L151.91 418.04L153.06 418.04L154.22 418.04L155.38 418.04L156.53 418.04L157.69 418.04L158.85 418.04L160.01 418.04L161.16 418.04L162.32 418.04L163.48 418.04L164.64 418.04L165.79 418.04L166.95 418.04L168.11 418.04L169.27 418.04L170.43 418.04L171.58 418.04L172.74 418.04L173.90 418.04L175.06 418.04L176.21 418.04L177.37 418.04L178.53 418.04L179.68 418.04L180.84 418.04L182.00 418.04L183.16 418.04L184.31 418.04L185.47 418.04L186.63 418.04L187.79 418.04L188.94 418.04L190.10 418.04L191.26 418.04L192.42 418.04L193.57 418.04L194.73 418.04L195.89 418.04L197.05 418.04L198.20 418.04L199.36 418.04L200.52 418.04L201.68 418.04L202.84 418.04L203.99 418.04L205.15 418.04L206.31 418.04L207.46 418.04L208.62 418.04L209.78 418.04L210.94 418.04L212.09 418.04L213.25 418.04L214.41 418.04L215.57 418.04L216.72 418.04L217.88 418.04L219.04 418.04L220.20 418.04L221.35 418.04L222.51 418.04L223.67 418.04L224.83 418.04L225.98 418.04L227.14 418.04L228.30 418.04L229.46 418.04L230.62 418.04L231.77 418.04L232.93 418.04L234.09 418.04L235.24 418.04L236.40 418.04L237.56 418.04L238.72 418.04L239.88 418.04L241.03 418.04L242.19 418.04L243.35 418.04L244.50 418.04L245.66 418.04L246.82 418.04L247.98 418.04L249.13 418.04L250.29 418.04L251.45 418.04L252.61 418.04L253.76 418.04L254.92 418.04L256.08 418.04L257.24 418.04L258.40 418.04L259.55 418.04L260.71 418.04L261.87 418.04L263.02 418.04L264.18 418.04L265.34 418.04L266.50 418.04L267.65 418.04L268.81 418.04L269.97 418.04L271.13 418.04L272.29 418.04L273.44 418.04L274.60 418.04L275.76 418.04L276.92 418.04L278.07 418.04L279.23 418.04L280.39 418.04L281.54 418.04L282.70 418.04L283.86 418.04L285.02 418.04L286.18 418.04L287.33 418.04L288.49 418.04L289.65 418.04L290.81 418.04L291.96 418.04L293.12 418.04L294.28 418.04L295.44 418.04L296.59 418.04L297.75 418.04L298.91 418.04L300.07 418.04L301.22 418.04L302.38 418.04L303.54 418.04L304.69 418.04L305.85 418.04L307.01 418.04L308.17 418.04L309.32 418.04L310.48 418.04L311.64 418.04L312.80 418.04L313.96 418.04" fill="none" stroke="#111" stroke-width="1.70" stroke-linejoin="round"/>
<path d="M43.10 420.6 C48.66 418.5 53.52 416.9 60.46 416.7 L84.77 416.6 C95.19 416.7 102.13 417.6 112.55 417.6" fill="none" stroke="#2E8B2E" stroke-width="1.6"/>
<line x1="258.0" y1="253" x2="258.0" y2="259.5" stroke="#111" stroke-width="1.4"/>
<line x1="40.40" y1="259.50" x2="316.00" y2="259.50" stroke="#404040" stroke-width="1.20" />
<line x1="40.40" y1="259.50" x2="40.40" y2="423.00" stroke="#303030" stroke-width="1.20" />
<line x1="316.00" y1="259.50" x2="316.00" y2="423.00" stroke="#A8A8A8" stroke-width="1.20" />
<line x1="40.40" y1="422.80" x2="316.00" y2="422.80" stroke="#A0A0A0" stroke-width="1.60" />
<line x1="39.80" y1="423.00" x2="316.00" y2="423.00" stroke="#A0A0A0" stroke-width="1.00" />
<line x1="43.10" y1="420.40" x2="43.10" y2="425.40" stroke="#2A2A2A" stroke-width="1.00" />
<line x1="50.05" y1="420.40" x2="50.05" y2="425.40" stroke="#2A2A2A" stroke-width="1.00" />
<line x1="56.99" y1="420.40" x2="56.99" y2="425.40" stroke="#2A2A2A" stroke-width="1.00" />
<line x1="63.94" y1="420.40" x2="63.94" y2="425.40" stroke="#2A2A2A" stroke-width="1.00" />
<line x1="70.88" y1="419.80" x2="70.88" y2="426.50" stroke="#2A2A2A" stroke-width="1.00" />
<line x1="77.83" y1="420.40" x2="77.83" y2="425.40" stroke="#2A2A2A" stroke-width="1.00" />
<line x1="84.77" y1="420.40" x2="84.77" y2="425.40" stroke="#2A2A2A" stroke-width="1.00" />
<line x1="91.72" y1="420.40" x2="91.72" y2="425.40" stroke="#2A2A2A" stroke-width="1.00" />
<line x1="98.66" y1="420.40" x2="98.66" y2="425.40" stroke="#2A2A2A" stroke-width="1.00" />
<line x1="105.61" y1="419.80" x2="105.61" y2="426.50" stroke="#2A2A2A" stroke-width="1.00" />
<line x1="112.55" y1="420.40" x2="112.55" y2="425.40" stroke="#2A2A2A" stroke-width="1.00" />
<line x1="119.50" y1="420.40" x2="119.50" y2="425.40" stroke="#2A2A2A" stroke-width="1.00" />
<line x1="126.44" y1="420.40" x2="126.44" y2="425.40" stroke="#2A2A2A" stroke-width="1.00" />
<line x1="133.38" y1="420.40" x2="133.38" y2="425.40" stroke="#2A2A2A" stroke-width="1.00" />
<line x1="140.33" y1="419.80" x2="140.33" y2="426.50" stroke="#2A2A2A" stroke-width="1.00" />
<line x1="147.28" y1="420.40" x2="147.28" y2="425.40" stroke="#2A2A2A" stroke-width="1.00" />
<line x1="154.22" y1="420.40" x2="154.22" y2="425.40" stroke="#2A2A2A" stroke-width="1.00" />
<line x1="161.16" y1="420.40" x2="161.16" y2="425.40" stroke="#2A2A2A" stroke-width="1.00" />
<line x1="168.11" y1="420.40" x2="168.11" y2="425.40" stroke="#2A2A2A" stroke-width="1.00" />
<line x1="175.06" y1="419.80" x2="175.06" y2="426.50" stroke="#2A2A2A" stroke-width="1.00" />
<line x1="182.00" y1="420.40" x2="182.00" y2="425.40" stroke="#2A2A2A" stroke-width="1.00" />
<line x1="188.94" y1="420.40" x2="188.94" y2="425.40" stroke="#2A2A2A" stroke-width="1.00" />
<line x1="195.89" y1="420.40" x2="195.89" y2="425.40" stroke="#2A2A2A" stroke-width="1.00" />
<line x1="202.84" y1="420.40" x2="202.84" y2="425.40" stroke="#2A2A2A" stroke-width="1.00" />
<line x1="209.78" y1="419.80" x2="209.78" y2="426.50" stroke="#2A2A2A" stroke-width="1.00" />
<line x1="216.72" y1="420.40" x2="216.72" y2="425.40" stroke="#2A2A2A" stroke-width="1.00" />
<line x1="223.67" y1="420.40" x2="223.67" y2="425.40" stroke="#2A2A2A" stroke-width="1.00" />
<line x1="230.62" y1="420.40" x2="230.62" y2="425.40" stroke="#2A2A2A" stroke-width="1.00" />
<line x1="237.56" y1="420.40" x2="237.56" y2="425.40" stroke="#2A2A2A" stroke-width="1.00" />
<line x1="244.50" y1="419.80" x2="244.50" y2="426.50" stroke="#2A2A2A" stroke-width="1.00" />
<line x1="251.45" y1="420.40" x2="251.45" y2="425.40" stroke="#2A2A2A" stroke-width="1.00" />
<line x1="258.40" y1="420.40" x2="258.40" y2="425.40" stroke="#2A2A2A" stroke-width="1.00" />
<line x1="265.34" y1="420.40" x2="265.34" y2="425.40" stroke="#2A2A2A" stroke-width="1.00" />
<line x1="272.29" y1="420.40" x2="272.29" y2="425.40" stroke="#2A2A2A" stroke-width="1.00" />
<line x1="279.23" y1="419.80" x2="279.23" y2="426.50" stroke="#2A2A2A" stroke-width="1.00" />
<line x1="286.18" y1="420.40" x2="286.18" y2="425.40" stroke="#2A2A2A" stroke-width="1.00" />
<line x1="293.12" y1="420.40" x2="293.12" y2="425.40" stroke="#2A2A2A" stroke-width="1.00" />
<line x1="300.07" y1="420.40" x2="300.07" y2="425.40" stroke="#2A2A2A" stroke-width="1.00" />
<line x1="307.01" y1="420.40" x2="307.01" y2="425.40" stroke="#2A2A2A" stroke-width="1.00" />
<line x1="313.96" y1="419.80" x2="313.96" y2="426.50" stroke="#2A2A2A" stroke-width="1.00" />
<line x1="36.40" y1="418.20" x2="40.40" y2="418.20" stroke="#2A2A2A" stroke-width="1.00" />
<line x1="37.90" y1="402.20" x2="40.40" y2="402.20" stroke="#2A2A2A" stroke-width="1.00" />
<line x1="37.90" y1="386.20" x2="40.40" y2="386.20" stroke="#2A2A2A" stroke-width="1.00" />
<line x1="37.90" y1="370.20" x2="40.40" y2="370.20" stroke="#2A2A2A" stroke-width="1.00" />
<line x1="37.90" y1="354.20" x2="40.40" y2="354.20" stroke="#2A2A2A" stroke-width="1.00" />
<line x1="36.40" y1="338.20" x2="40.40" y2="338.20" stroke="#2A2A2A" stroke-width="1.00" />
<line x1="37.90" y1="322.20" x2="40.40" y2="322.20" stroke="#2A2A2A" stroke-width="1.00" />
<line x1="37.90" y1="306.20" x2="40.40" y2="306.20" stroke="#2A2A2A" stroke-width="1.00" />
<line x1="37.90" y1="290.20" x2="40.40" y2="290.20" stroke="#2A2A2A" stroke-width="1.00" />
<line x1="37.90" y1="274.20" x2="40.40" y2="274.20" stroke="#2A2A2A" stroke-width="1.00" />
<text x="70.88" y="440.00" font-size="10.00" text-anchor="middle" fill="#1a1a1a" font-weight="normal" font-family='"Liberation Sans", sans-serif' transform="translate(70.88 0) scale(0.860 1) translate(-70.88 0)" stroke="#1a1a1a" stroke-width="0.3">5</text>
<text x="105.61" y="440.00" font-size="10.00" text-anchor="middle" fill="#1a1a1a" font-weight="normal" font-family='"Liberation Sans", sans-serif' transform="translate(105.61 0) scale(0.860 1) translate(-105.61 0)" stroke="#1a1a1a" stroke-width="0.3">10</text>
<text x="140.33" y="440.00" font-size="10.00" text-anchor="middle" fill="#1a1a1a" font-weight="normal" font-family='"Liberation Sans", sans-serif' transform="translate(140.33 0) scale(0.860 1) translate(-140.33 0)" stroke="#1a1a1a" stroke-width="0.3">15</text>
<text x="175.06" y="440.00" font-size="10.00" text-anchor="middle" fill="#1a1a1a" font-weight="normal" font-family='"Liberation Sans", sans-serif' transform="translate(175.06 0) scale(0.860 1) translate(-175.06 0)" stroke="#1a1a1a" stroke-width="0.3">20</text>
<text x="209.78" y="440.00" font-size="10.00" text-anchor="middle" fill="#1a1a1a" font-weight="normal" font-family='"Liberation Sans", sans-serif' transform="translate(209.78 0) scale(0.860 1) translate(-209.78 0)" stroke="#1a1a1a" stroke-width="0.3">25</text>
<text x="244.50" y="440.00" font-size="10.00" text-anchor="middle" fill="#1a1a1a" font-weight="normal" font-family='"Liberation Sans", sans-serif' transform="translate(244.50 0) scale(0.860 1) translate(-244.50 0)" stroke="#1a1a1a" stroke-width="0.3">30</text>
<text x="279.23" y="440.00" font-size="10.00" text-anchor="middle" fill="#1a1a1a" font-weight="normal" font-family='"Liberation Sans", sans-serif' transform="translate(279.23 0) scale(0.860 1) translate(-279.23 0)" stroke="#1a1a1a" stroke-width="0.3">35</text>
<text x="313.96" y="440.00" font-size="10.00" text-anchor="middle" fill="#1a1a1a" font-weight="normal" font-family='"Liberation Sans", sans-serif' transform="translate(313.96 0) scale(0.860 1) translate(-313.96 0)" stroke="#1a1a1a" stroke-width="0.3">40</text>
<text x="35.00" y="422.50" font-size="10.00" text-anchor="end" fill="#1a1a1a" font-weight="normal" font-family='"Liberation Sans", sans-serif' transform="translate(35.00 0) scale(0.860 1) translate(-35.00 0)" stroke="#1a1a1a" stroke-width="0.3">0</text>
<text x="35.00" y="342.70" font-size="10.00" text-anchor="end" fill="#1a1a1a" font-weight="normal" font-family='"Liberation Sans", sans-serif' transform="translate(35.00 0) scale(0.860 1) translate(-35.00 0)" stroke="#1a1a1a" stroke-width="0.3">50000</text>
<text x="164.40" y="452.80" font-size="10.00" text-anchor="start" fill="#1a1a1a" font-weight="normal" font-family='"Liberation Sans", sans-serif' textLength="27.60" lengthAdjust="spacingAndGlyphs" stroke="#1a1a1a" stroke-width="0.3">Cycle #</text>
<text transform="translate(9.00 339.00) rotate(-90) scale(1 0.86)" font-size="11" text-anchor="middle" fill="#1a1a1a" font-family='"Liberation Sans", sans-serif' textLength="96" lengthAdjust="spacingAndGlyphs">Fluorescence (a.u.)</text>
<text x="46.90" y="272.70" font-size="13.40" text-anchor="start" fill="#111" font-weight="bold" font-family='"Liberation Sans", sans-serif' >B</text>
<polygon points="258.0,246.6 253.8,254 262.2,254" fill="#000"/>
<text x="223.70" y="244.20" font-size="8.40" text-anchor="start" fill="#1a1a1a" font-weight="normal" font-family='"Liberation Sans", sans-serif' textLength="79.70" lengthAdjust="spacingAndGlyphs" stroke="#1a1a1a" stroke-width="0.15">Cycle threshold (Ct)- 32</text>
<text x="126.00" y="360.40" font-size="8.40" text-anchor="start" fill="#1a1a1a" font-weight="normal" font-family='"Liberation Sans", sans-serif' textLength="21.80" lengthAdjust="spacingAndGlyphs" stroke="#1a1a1a" stroke-width="0.15">Target</text>
<line x1="151.40" y1="357.10" x2="179.00" y2="357.10" stroke="#111" stroke-width="1.10" />
<polygon points="185.0,357.1 177.5,353.5 177.5,360.7" fill="#000"/>
<text x="272.30" y="378.20" font-size="8.40" text-anchor="start" fill="#1a1a1a" font-weight="normal" font-family='"Liberation Sans", sans-serif' textLength="37.00" lengthAdjust="spacingAndGlyphs" stroke="#1a1a1a" stroke-width="0.15">Non-target</text>
<line x1="287.70" y1="381.80" x2="287.70" y2="412.00" stroke="#111" stroke-width="1.10" />
<polygon points="287.7,419.2 283.8,411.5 291.6,411.5" fill="#000"/>
<rect x="360.70" y="22.50" width="319.00" height="186.70" fill="none" stroke="#D9D9D9" stroke-width="1"/>
<line x1="414.00" y1="45.75" x2="414.00" y2="149.50" stroke="#D9D9D9" stroke-width="1.30" />
<line x1="414.00" y1="149.50" x2="652.38" y2="149.50" stroke="#D9D9D9" stroke-width="1.30" />
<text x="405.60" y="152.40" font-size="8.30" text-anchor="end" fill="#404040" font-weight="normal" font-family='"Liberation Sans", sans-serif' textLength="15.90" lengthAdjust="spacingAndGlyphs" >10.0</text>
<text x="405.60" y="131.65" font-size="8.30" text-anchor="end" fill="#404040" font-weight="normal" font-family='"Liberation Sans", sans-serif' textLength="15.90" lengthAdjust="spacingAndGlyphs" >15.0</text>
<text x="405.60" y="110.90" font-size="8.30" text-anchor="end" fill="#404040" font-weight="normal" font-family='"Liberation Sans", sans-serif' textLength="15.90" lengthAdjust="spacingAndGlyphs" >20.0</text>
<text x="405.60" y="90.15" font-size="8.30" text-anchor="end" fill="#404040" font-weight="normal" font-family='"Liberation Sans", sans-serif' textLength="15.90" lengthAdjust="spacingAndGlyphs" >25.0</text>
<text x="405.60" y="69.40" font-size="8.30" text-anchor="end" fill="#404040" font-weight="normal" font-family='"Liberation Sans", sans-serif' textLength="15.90" lengthAdjust="spacingAndGlyphs" >30.0</text>
<text x="405.60" y="48.65" font-size="8.30" text-anchor="end" fill="#404040" font-weight="normal" font-family='"Liberation Sans", sans-serif' textLength="15.90" lengthAdjust="spacingAndGlyphs" >35.0</text>
<text x="414.00" y="165.00" font-size="8.30" text-anchor="middle" fill="#404040" font-weight="normal" font-family='"Liberation Sans", sans-serif' textLength="13.50" lengthAdjust="spacingAndGlyphs" >-4.0</text>
<text x="453.73" y="165.00" font-size="8.30" text-anchor="middle" fill="#404040" font-weight="normal" font-family='"Liberation Sans", sans-serif' textLength="13.50" lengthAdjust="spacingAndGlyphs" >-3.0</text>
<text x="493.46" y="165.00" font-size="8.30" text-anchor="middle" fill="#404040" font-weight="normal" font-family='"Liberation Sans", sans-serif' textLength="13.50" lengthAdjust="spacingAndGlyphs" >-2.0</text>
<text x="533.19" y="165.00" font-size="8.30" text-anchor="middle" fill="#404040" font-weight="normal" font-family='"Liberation Sans", sans-serif' textLength="13.50" lengthAdjust="spacingAndGlyphs" >-1.0</text>
<text x="572.92" y="165.00" font-size="8.30" text-anchor="middle" fill="#404040" font-weight="normal" font-family='"Liberation Sans", sans-serif' textLength="12.00" lengthAdjust="spacingAndGlyphs" >0.0</text>
<text x="612.65" y="165.00" font-size="8.30" text-anchor="middle" fill="#404040" font-weight="normal" font-family='"Liberation Sans", sans-serif' textLength="12.00" lengthAdjust="spacingAndGlyphs" >1.0</text>
<text x="652.38" y="165.00" font-size="8.30" text-anchor="middle" fill="#404040" font-weight="normal" font-family='"Liberation Sans", sans-serif' textLength="12.00" lengthAdjust="spacingAndGlyphs" >2.0</text>
<text x="436.90" y="39.30" font-size="9.30" text-anchor="start" fill="#222" font-weight="normal" font-family='"Liberation Sans", sans-serif' textLength="225.50" lengthAdjust="spacingAndGlyphs" >Rhizome matrix: slope = -3.32, R² = 0.99, Efficiency = 99%</text>
<text x="479.00" y="180.00" font-size="9.30" text-anchor="start" fill="#404040" font-weight="normal" font-family='"Liberation Sans", sans-serif' textLength="75.60" lengthAdjust="spacingAndGlyphs" >Log concentration</text>
<text transform="translate(380.80 109.30) rotate(-90)" font-size="9.3" text-anchor="middle" fill="#404040" font-family='"Liberation Sans", sans-serif' textLength="81.0" lengthAdjust="spacingAndGlyphs">Cycle threshold (Ct)</text>
<text x="367.60" y="37.00" font-size="12.80" text-anchor="start" fill="#111" font-weight="bold" font-family='"Liberation Sans", sans-serif' >C</text>
<path d="M453.70 67.90 L493.40 82.40 L533.30 95.90 L572.90 109.40" fill="none" stroke="#FF0000" stroke-width="0.80" stroke-dasharray="2 1"/>
<circle cx="453.70" cy="67.90" r="2.6" fill="#FF0000"/>
<circle cx="493.40" cy="82.40" r="2.6" fill="#FF0000"/>
<circle cx="533.30" cy="95.90" r="2.6" fill="#FF0000"/>
<circle cx="572.90" cy="109.40" r="2.6" fill="#FF0000"/>
<path d="M469.80 62.30 L515.30 76.60 L554.80 90.40 L594.80 104.20 L634.20 117.30" fill="none" stroke="#000000" stroke-width="0.80" stroke-dasharray="2 1"/>
<polygon points="469.80,59.50 466.90,64.20 472.70,64.20" fill="#000000"/>
<polygon points="515.30,73.80 512.40,78.50 518.20,78.50" fill="#000000"/>
<polygon points="554.80,87.60 551.90,92.30 557.70,92.30" fill="#000000"/>
<polygon points="594.80,101.40 591.90,106.10 597.70,106.10" fill="#000000"/>
<polygon points="634.20,114.50 631.30,119.20 637.10,119.20" fill="#000000"/>
<path d="M480.60 67.40 L520.60 81.20 L560.50 94.90 L600.10 108.40 L639.50 122.60" fill="none" stroke="#00B050" stroke-width="0.80" stroke-dasharray="2 1"/>
<rect x="478.10" y="64.90" width="5" height="5" fill="#00B050"/>
<rect x="518.10" y="78.70" width="5" height="5" fill="#00B050"/>
<rect x="558.00" y="92.40" width="5" height="5" fill="#00B050"/>
<rect x="597.60" y="105.90" width="5" height="5" fill="#00B050"/>
<rect x="637.00" y="120.10" width="5" height="5" fill="#00B050"/>
<line x1="381.80" y1="192.80" x2="415.60" y2="192.80" stroke="#000000" stroke-width="0.80" stroke-dasharray="2 1"/>
<polygon points="398.90,190.00 396.00,194.70 401.80,194.70" fill="#000000"/>
<text x="419.60" y="195.80" font-size="9.00" text-anchor="start" fill="#404040" font-weight="normal" font-family='"Liberation Sans", sans-serif' textLength="51.10" lengthAdjust="spacingAndGlyphs" >25ng/reaction</text>
<line x1="476.70" y1="192.80" x2="510.00" y2="192.80" stroke="#00B050" stroke-width="0.80" stroke-dasharray="2 1"/>
<rect x="491.20" y="190.30" width="5" height="5" fill="#00B050"/>
<text x="513.60" y="195.80" font-size="9.00" text-anchor="start" fill="#404040" font-weight="normal" font-family='"Liberation Sans", sans-serif' textLength="58.00" lengthAdjust="spacingAndGlyphs" >47.5ng/reaction</text>
<line x1="578.10" y1="192.80" x2="612.00" y2="192.80" stroke="#FF0000" stroke-width="0.80" stroke-dasharray="2 1"/>
<circle cx="595.50" cy="192.80" r="2.6" fill="#FF0000"/>
<text x="615.60" y="195.80" font-size="9.00" text-anchor="start" fill="#404040" font-weight="normal" font-family='"Liberation Sans", sans-serif' textLength="47.30" lengthAdjust="spacingAndGlyphs" >5ng/reaction</text>
<rect x="360.70" y="259.50" width="321.60" height="193.80" fill="none" stroke="#D9D9D9" stroke-width="1"/>
<line x1="414.70" y1="283.20" x2="414.70" y2="391.20" stroke="#D9D9D9" stroke-width="1.30" />
<line x1="414.70" y1="391.20" x2="656.30" y2="391.20" stroke="#D9D9D9" stroke-width="1.30" />
<text x="406.20" y="394.10" font-size="8.30" text-anchor="end" fill="#404040" font-weight="normal" font-family='"Liberation Sans", sans-serif' textLength="15.90" lengthAdjust="spacingAndGlyphs" >15.0</text>
<text x="406.20" y="372.50" font-size="8.30" text-anchor="end" fill="#404040" font-weight="normal" font-family='"Liberation Sans", sans-serif' textLength="15.90" lengthAdjust="spacingAndGlyphs" >20.0</text>
<text x="406.20" y="350.90" font-size="8.30" text-anchor="end" fill="#404040" font-weight="normal" font-family='"Liberation Sans", sans-serif' textLength="15.90" lengthAdjust="spacingAndGlyphs" >25.0</text>
<text x="406.20" y="329.30" font-size="8.30" text-anchor="end" fill="#404040" font-weight="normal" font-family='"Liberation Sans", sans-serif' textLength="15.90" lengthAdjust="spacingAndGlyphs" >30.0</text>
<text x="406.20" y="307.70" font-size="8.30" text-anchor="end" fill="#404040" font-weight="normal" font-family='"Liberation Sans", sans-serif' textLength="15.90" lengthAdjust="spacingAndGlyphs" >35.0</text>
<text x="406.20" y="286.10" font-size="8.30" text-anchor="end" fill="#404040" font-weight="normal" font-family='"Liberation Sans", sans-serif' textLength="15.90" lengthAdjust="spacingAndGlyphs" >40.0</text>
<text x="414.70" y="407.30" font-size="8.30" text-anchor="middle" fill="#404040" font-weight="normal" font-family='"Liberation Sans", sans-serif' textLength="13.50" lengthAdjust="spacingAndGlyphs" >-4.0</text>
<text x="475.10" y="407.30" font-size="8.30" text-anchor="middle" fill="#404040" font-weight="normal" font-family='"Liberation Sans", sans-serif' textLength="13.50" lengthAdjust="spacingAndGlyphs" >-3.0</text>
<text x="535.50" y="407.30" font-size="8.30" text-anchor="middle" fill="#404040" font-weight="normal" font-family='"Liberation Sans", sans-serif' textLength="13.50" lengthAdjust="spacingAndGlyphs" >-2.0</text>
<text x="595.90" y="407.30" font-size="8.30" text-anchor="middle" fill="#404040" font-weight="normal" font-family='"Liberation Sans", sans-serif' textLength="13.50" lengthAdjust="spacingAndGlyphs" >-1.0</text>
<text x="656.30" y="407.30" font-size="8.30" text-anchor="middle" fill="#404040" font-weight="normal" font-family='"Liberation Sans", sans-serif' textLength="12.00" lengthAdjust="spacingAndGlyphs" >0.0</text>
<text x="429.90" y="275.90" font-size="9.30" text-anchor="start" fill="#222" font-weight="normal" font-family='"Liberation Sans", sans-serif' textLength="222.00" lengthAdjust="spacingAndGlyphs" >Powder matrix: slope = -3.3, R² = 1.00, Efficiency = 100%</text>
<text x="480.00" y="422.00" font-size="9.30" text-anchor="start" fill="#404040" font-weight="normal" font-family='"Liberation Sans", sans-serif' textLength="75.60" lengthAdjust="spacingAndGlyphs" >Log concentration</text>
<text transform="translate(380.30 348.10) rotate(-90)" font-size="9.3" text-anchor="middle" fill="#404040" font-family='"Liberation Sans", sans-serif' textLength="82.2" lengthAdjust="spacingAndGlyphs">Cycle threshold (Ct)</text>
<text x="365.80" y="273.10" font-size="12.80" text-anchor="start" fill="#111" font-weight="bold" font-family='"Liberation Sans", sans-serif' >D</text>
<path d="M456.60 319.60 L517.10 333.60 L577.50 345.00 L638.30 362.60" fill="none" stroke="#FF33CC" stroke-width="0.80" stroke-dasharray="2 1"/>
<polygon points="456.60,316.80 453.70,321.50 459.50,321.50" fill="#FF33CC"/>
<polygon points="517.10,330.80 514.20,335.50 520.00,335.50" fill="#FF33CC"/>
<polygon points="577.50,342.20 574.60,346.90 580.40,346.90" fill="#FF33CC"/>
<polygon points="638.30,359.80 635.40,364.50 641.20,364.50" fill="#FF33CC"/>
<path d="M467.50 324.00 L528.10 338.50 L588.40 352.90 L648.80 367.30" fill="none" stroke="#7FE3D0" stroke-width="1.00" stroke-dasharray="4 1"/>
<rect x="465.00" y="321.50" width="5" height="5" fill="#00CCA8"/>
<rect x="525.60" y="336.00" width="5" height="5" fill="#00CCA8"/>
<rect x="585.90" y="350.40" width="5" height="5" fill="#00CCA8"/>
<rect x="646.30" y="364.80" width="5" height="5" fill="#00CCA8"/>
<path d="M504.30 322.20 L564.70 330.00 L624.80 341.90" fill="none" stroke="#7030A0" stroke-width="0.80" stroke-dasharray="2 1"/>
<circle cx="504.30" cy="322.20" r="2.6" fill="#7030A0"/>
<circle cx="564.70" cy="330.00" r="2.6" fill="#7030A0"/>
<circle cx="624.80" cy="341.90" r="2.6" fill="#7030A0"/>
<line x1="385.00" y1="436.60" x2="420.40" y2="436.60" stroke="#FF33CC" stroke-width="0.80" stroke-dasharray="2 1"/>
<polygon points="403.70,433.80 400.80,438.50 406.60,438.50" fill="#FF33CC"/>
<text x="424.50" y="439.60" font-size="9.00" text-anchor="start" fill="#404040" font-weight="normal" font-family='"Liberation Sans", sans-serif' textLength="47.50" lengthAdjust="spacingAndGlyphs" >5ng/reaction</text>
<line x1="481.80" y1="436.60" x2="515.50" y2="436.60" stroke="#00CCA8" stroke-width="0.80" stroke-dasharray="2 1"/>
<rect x="496.70" y="434.10" width="5" height="5" fill="#00CCA8"/>
<text x="519.60" y="439.60" font-size="9.00" text-anchor="start" fill="#404040" font-weight="normal" font-family='"Liberation Sans", sans-serif' textLength="47.50" lengthAdjust="spacingAndGlyphs" >7ng/reaction</text>
<line x1="577.00" y1="436.60" x2="610.30" y2="436.60" stroke="#7030A0" stroke-width="0.80" stroke-dasharray="2 1"/>
<circle cx="594.50" cy="436.60" r="2.6" fill="#7030A0"/>
<text x="614.80" y="439.60" font-size="9.00" text-anchor="start" fill="#404040" font-weight="normal" font-family='"Liberation Sans", sans-serif' textLength="47.10" lengthAdjust="spacingAndGlyphs" >3ng/reaction</text>
</svg>
</body></html>
